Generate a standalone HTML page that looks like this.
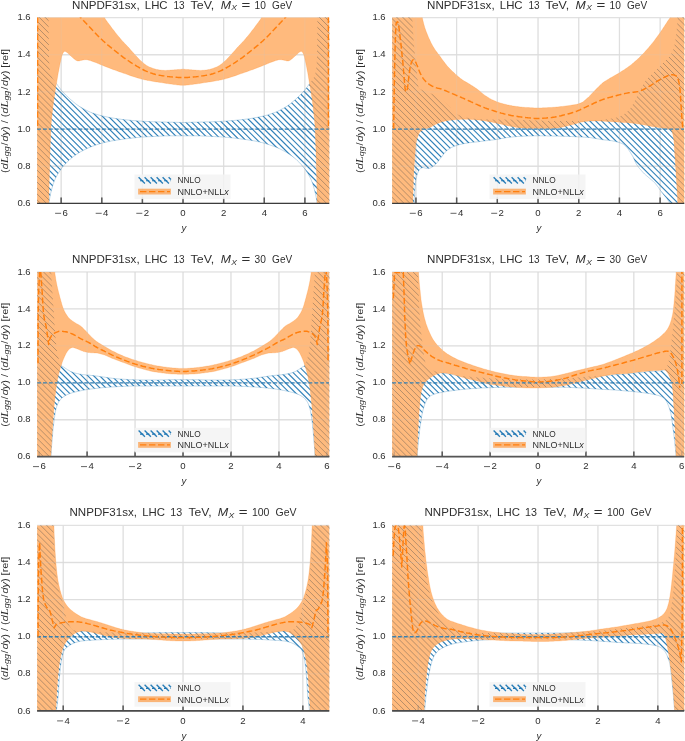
<!DOCTYPE html>
<html><head><meta charset="utf-8"><title>NNPDF31sx luminosities</title>
<style>html,body{margin:0;padding:0;background:#fff}svg{display:block;will-change:transform}text{font-family:"Liberation Sans",sans-serif}</style></head><body>
<svg width="685" height="741" viewBox="0 0 685 741">
<defs>
<path id="H" d="M-746.96,0l741,741M-741.00,0l741,741M-735.04,0l741,741M-729.08,0l741,741M-723.12,0l741,741M-717.16,0l741,741M-711.20,0l741,741M-705.24,0l741,741M-699.28,0l741,741M-693.32,0l741,741M-687.36,0l741,741M-681.40,0l741,741M-675.44,0l741,741M-669.48,0l741,741M-663.52,0l741,741M-657.56,0l741,741M-651.60,0l741,741M-645.64,0l741,741M-639.68,0l741,741M-633.72,0l741,741M-627.76,0l741,741M-621.80,0l741,741M-615.84,0l741,741M-609.88,0l741,741M-603.92,0l741,741M-597.96,0l741,741M-592.00,0l741,741M-586.04,0l741,741M-580.08,0l741,741M-574.12,0l741,741M-568.16,0l741,741M-562.20,0l741,741M-556.24,0l741,741M-550.28,0l741,741M-544.32,0l741,741M-538.36,0l741,741M-532.40,0l741,741M-526.44,0l741,741M-520.48,0l741,741M-514.52,0l741,741M-508.56,0l741,741M-502.60,0l741,741M-496.64,0l741,741M-490.68,0l741,741M-484.72,0l741,741M-478.76,0l741,741M-472.80,0l741,741M-466.84,0l741,741M-460.88,0l741,741M-454.92,0l741,741M-448.96,0l741,741M-443.00,0l741,741M-437.04,0l741,741M-431.08,0l741,741M-425.12,0l741,741M-419.16,0l741,741M-413.20,0l741,741M-407.24,0l741,741M-401.28,0l741,741M-395.32,0l741,741M-389.36,0l741,741M-383.40,0l741,741M-377.44,0l741,741M-371.48,0l741,741M-365.52,0l741,741M-359.56,0l741,741M-353.60,0l741,741M-347.64,0l741,741M-341.68,0l741,741M-335.72,0l741,741M-329.76,0l741,741M-323.80,0l741,741M-317.84,0l741,741M-311.88,0l741,741M-305.92,0l741,741M-299.96,0l741,741M-294.00,0l741,741M-288.04,0l741,741M-282.08,0l741,741M-276.12,0l741,741M-270.16,0l741,741M-264.20,0l741,741M-258.24,0l741,741M-252.28,0l741,741M-246.32,0l741,741M-240.36,0l741,741M-234.40,0l741,741M-228.44,0l741,741M-222.48,0l741,741M-216.52,0l741,741M-210.56,0l741,741M-204.60,0l741,741M-198.64,0l741,741M-192.68,0l741,741M-186.72,0l741,741M-180.76,0l741,741M-174.80,0l741,741M-168.84,0l741,741M-162.88,0l741,741M-156.92,0l741,741M-150.96,0l741,741M-145.00,0l741,741M-139.04,0l741,741M-133.08,0l741,741M-127.12,0l741,741M-121.16,0l741,741M-115.20,0l741,741M-109.24,0l741,741M-103.28,0l741,741M-97.32,0l741,741M-91.36,0l741,741M-85.40,0l741,741M-79.44,0l741,741M-73.48,0l741,741M-67.52,0l741,741M-61.56,0l741,741M-55.60,0l741,741M-49.64,0l741,741M-43.68,0l741,741M-37.72,0l741,741M-31.76,0l741,741M-25.80,0l741,741M-19.84,0l741,741M-13.88,0l741,741M-7.92,0l741,741M-1.96,0l741,741M4.00,0l741,741M9.96,0l741,741M15.92,0l741,741M21.88,0l741,741M27.84,0l741,741M33.80,0l741,741M39.76,0l741,741M45.72,0l741,741M51.68,0l741,741M57.64,0l741,741M63.60,0l741,741M69.56,0l741,741M75.52,0l741,741M81.48,0l741,741M87.44,0l741,741M93.40,0l741,741M99.36,0l741,741M105.32,0l741,741M111.28,0l741,741M117.24,0l741,741M123.20,0l741,741M129.16,0l741,741M135.12,0l741,741M141.08,0l741,741M147.04,0l741,741M153.00,0l741,741M158.96,0l741,741M164.92,0l741,741M170.88,0l741,741M176.84,0l741,741M182.80,0l741,741M188.76,0l741,741M194.72,0l741,741M200.68,0l741,741M206.64,0l741,741M212.60,0l741,741M218.56,0l741,741M224.52,0l741,741M230.48,0l741,741M236.44,0l741,741M242.40,0l741,741M248.36,0l741,741M254.32,0l741,741M260.28,0l741,741M266.24,0l741,741M272.20,0l741,741M278.16,0l741,741M284.12,0l741,741M290.08,0l741,741M296.04,0l741,741M302.00,0l741,741M307.96,0l741,741M313.92,0l741,741M319.88,0l741,741M325.84,0l741,741M331.80,0l741,741M337.76,0l741,741M343.72,0l741,741M349.68,0l741,741M355.64,0l741,741M361.60,0l741,741M367.56,0l741,741M373.52,0l741,741M379.48,0l741,741M385.44,0l741,741M391.40,0l741,741M397.36,0l741,741M403.32,0l741,741M409.28,0l741,741M415.24,0l741,741M421.20,0l741,741M427.16,0l741,741M433.12,0l741,741M439.08,0l741,741M445.04,0l741,741M451.00,0l741,741M456.96,0l741,741M462.92,0l741,741M468.88,0l741,741M474.84,0l741,741M480.80,0l741,741M486.76,0l741,741M492.72,0l741,741M498.68,0l741,741M504.64,0l741,741M510.60,0l741,741M516.56,0l741,741M522.52,0l741,741M528.48,0l741,741M534.44,0l741,741M540.40,0l741,741M546.36,0l741,741M552.32,0l741,741M558.28,0l741,741M564.24,0l741,741M570.20,0l741,741M576.16,0l741,741M582.12,0l741,741M588.08,0l741,741M594.04,0l741,741M600.00,0l741,741M605.96,0l741,741M611.92,0l741,741M617.88,0l741,741M623.84,0l741,741M629.80,0l741,741M635.76,0l741,741M641.72,0l741,741M647.68,0l741,741M653.64,0l741,741M659.60,0l741,741M665.56,0l741,741M671.52,0l741,741M677.48,0l741,741M683.44,0l741,741M689.40,0l741,741"/>
</defs>
<rect width="685" height="741" fill="#fff"/>
<clipPath id="c0"><rect x="37.1" y="17.6" width="292.2" height="185.8"/></clipPath>
<path d="M37.1,17.60 H329.0 M37.1,54.76 H329.0 M37.1,91.92 H329.0 M37.1,129.08 H329.0 M37.1,166.24 H329.0 M37.1,203.40 H329.0 M61.17,17.6 V203.4 M101.79,17.6 V203.4 M142.41,17.6 V203.4 M183.03,17.6 V203.4 M223.65,17.6 V203.4 M264.27,17.6 V203.4 M304.88,17.6 V203.4" stroke="#e4e4e4" stroke-width="1.3" fill="none"/>
<path d="M61.17,203.4 v-6.0 M101.79,203.4 v-6.0 M142.41,203.4 v-6.0 M183.03,203.4 v-6.0 M223.65,203.4 v-6.0 M264.27,203.4 v-6.0 M304.88,203.4 v-6.0" stroke="#484848" stroke-width="1.4" fill="none"/>
<g clip-path="url(#c0)">
<defs><path id="B0" d="M32.0,-3.1 48.3,7.0 48.3,8.1 48.4,9.1 48.4,10.1 48.4,11.0 48.5,12.1 48.5,13.4 48.5,15.0 48.6,17.0 48.6,19.4 48.6,22.2 48.6,25.3 48.6,28.6 48.7,32.0 48.7,35.5 48.7,38.9 48.8,42.1 48.9,45.4 48.9,48.7 49.0,52.2 49.0,55.6 49.1,58.9 49.2,62.0 49.4,64.8 49.6,67.2 49.8,69.2 50.0,70.9 50.3,72.3 50.6,73.5 51.0,74.5 51.3,75.4 51.7,76.3 52.1,77.3 52.5,78.2 52.9,78.9 53.3,79.6 53.7,80.1 54.2,80.7 54.7,81.3 55.2,82.0 55.8,82.8 56.5,83.7 57.2,84.7 57.9,85.7 58.7,86.8 59.6,87.9 60.4,89.0 61.3,90.1 62.1,91.1 63.0,92.1 63.9,93.0 64.8,94.0 65.8,95.0 66.8,95.9 67.7,96.8 68.7,97.7 69.6,98.6 70.6,99.5 71.5,100.3 72.5,101.1 73.4,101.9 74.4,102.7 75.3,103.5 76.2,104.2 77.2,104.9 78.1,105.6 79.1,106.2 80.0,106.8 80.9,107.3 81.9,107.9 82.8,108.4 83.8,108.9 84.7,109.4 85.6,109.9 86.5,110.4 87.4,110.8 88.3,111.3 89.2,111.7 90.2,112.1 91.2,112.5 92.2,112.9 93.4,113.3 94.6,113.7 95.8,114.1 97.1,114.5 98.4,114.9 99.7,115.3 101.0,115.6 102.3,115.9 103.5,116.2 104.8,116.5 106.1,116.8 107.3,117.0 108.6,117.3 109.8,117.5 111.1,117.7 112.3,118.0 113.6,118.2 114.9,118.4 116.1,118.6 117.4,118.8 118.6,119.0 119.9,119.1 121.1,119.3 122.4,119.5 123.6,119.6 124.9,119.8 126.2,119.9 127.4,120.0 128.7,120.1 129.9,120.2 131.2,120.4 132.4,120.5 133.7,120.6 134.9,120.7 136.2,120.8 137.5,120.9 138.7,121.0 140.0,121.1 141.2,121.1 142.5,121.2 143.7,121.3 145.0,121.4 146.2,121.4 147.5,121.5 148.8,121.6 150.0,121.6 151.3,121.7 152.5,121.7 153.8,121.8 155.0,121.8 156.3,121.8 157.5,121.9 158.8,121.9 160.1,121.9 161.3,121.9 162.6,122.0 163.8,122.0 165.1,122.0 166.3,122.1 167.6,122.1 168.8,122.1 170.1,122.2 171.3,122.2 172.6,122.2 173.9,122.3 175.2,122.3 176.4,122.3 177.7,122.4 179.0,122.4 180.3,122.4 181.6,122.5 182.9,122.5 184.2,122.5 185.5,122.4 186.8,122.4 188.2,122.4 189.5,122.3 190.8,122.3 192.1,122.3 193.4,122.2 194.7,122.2 195.9,122.2 197.2,122.1 198.4,122.1 199.7,122.1 200.9,122.0 202.2,122.0 203.4,122.0 204.7,121.9 205.9,121.9 207.2,121.9 208.5,121.9 209.7,121.8 211.0,121.8 212.2,121.8 213.5,121.7 214.7,121.7 216.0,121.6 217.2,121.6 218.5,121.5 219.8,121.4 221.0,121.4 222.3,121.3 223.5,121.2 224.8,121.1 226.0,121.1 227.3,121.0 228.5,120.9 229.8,120.8 231.1,120.7 232.3,120.6 233.6,120.5 234.8,120.4 236.1,120.2 237.3,120.1 238.6,120.0 239.8,119.9 241.1,119.8 242.4,119.6 243.6,119.5 244.9,119.3 246.1,119.1 247.4,119.0 248.6,118.8 249.9,118.6 251.1,118.4 252.4,118.2 253.7,118.0 254.9,117.7 256.2,117.5 257.4,117.3 258.7,117.0 259.9,116.8 261.2,116.5 262.5,116.2 263.7,115.9 265.0,115.6 266.3,115.3 267.6,114.9 268.9,114.5 270.2,114.1 271.4,113.7 272.6,113.3 273.8,112.9 274.8,112.5 275.8,112.1 276.8,111.7 277.7,111.3 278.6,110.8 279.5,110.4 280.4,109.9 281.3,109.4 282.2,108.9 283.2,108.4 284.1,107.9 285.1,107.3 286.0,106.8 286.9,106.2 287.9,105.6 288.8,104.9 289.8,104.2 290.7,103.5 291.6,102.7 292.6,101.9 293.5,101.1 294.5,100.3 295.4,99.5 296.4,98.6 297.3,97.7 298.3,96.8 299.2,95.9 300.2,95.0 301.2,94.0 302.1,93.0 303.0,92.1 303.9,91.1 304.7,90.1 305.6,89.0 306.4,87.9 307.3,86.8 308.1,85.7 308.8,84.7 309.5,83.7 310.2,82.8 310.8,82.0 311.3,81.3 311.8,80.7 312.3,80.1 312.7,79.6 313.1,78.9 313.5,78.2 313.9,77.3 314.3,76.3 314.7,75.4 315.0,74.5 315.4,73.5 315.7,72.3 316.0,70.9 316.2,69.2 316.4,67.2 316.6,64.8 316.8,62.0 316.9,58.9 317.0,55.6 317.0,52.2 317.1,48.7 317.1,45.4 317.2,42.1 317.3,38.9 317.3,35.5 317.3,32.0 317.4,28.6 317.4,25.3 317.4,22.2 317.4,19.4 317.4,17.0 317.5,15.0 317.5,13.4 317.5,12.1 317.6,11.0 317.6,10.1 317.6,9.1 317.7,8.1 317.7,7.0 334.0,-3.1 334.0,217.9 319.0,217.9 318.7,216.1 318.6,214.2 318.4,212.4 318.2,210.5 318.0,208.7 317.7,206.8 317.5,205.0 317.2,203.1 316.9,201.2 316.5,199.2 316.1,197.1 315.7,195.1 315.3,193.1 314.8,191.2 314.4,189.4 313.9,187.8 313.5,186.3 313.1,184.9 312.7,183.6 312.2,182.4 311.8,181.3 311.3,180.1 310.8,178.9 310.2,177.7 309.5,176.5 308.8,175.2 308.1,173.9 307.3,172.6 306.4,171.3 305.6,170.0 304.7,168.8 303.9,167.7 303.0,166.6 302.1,165.5 301.2,164.4 300.2,163.4 299.2,162.4 298.3,161.4 297.3,160.5 296.4,159.6 295.4,158.8 294.5,158.0 293.5,157.2 292.6,156.5 291.6,155.8 290.7,155.2 289.8,154.5 288.8,153.9 287.9,153.3 286.9,152.7 286.0,152.1 285.1,151.6 284.1,151.1 283.2,150.6 282.2,150.1 281.3,149.6 280.4,149.1 279.5,148.7 278.6,148.3 277.7,147.9 276.8,147.5 275.8,147.1 274.8,146.7 273.8,146.3 272.6,145.9 271.4,145.5 270.2,145.1 268.9,144.6 267.6,144.2 266.3,143.8 265.0,143.4 263.7,143.1 262.5,142.7 261.2,142.4 259.9,142.1 258.7,141.8 257.4,141.6 256.2,141.3 254.9,141.0 253.7,140.8 252.4,140.6 251.1,140.4 249.9,140.2 248.6,140.0 247.4,139.8 246.1,139.6 244.9,139.5 243.6,139.3 242.4,139.1 241.1,139.0 239.8,138.8 238.6,138.6 237.3,138.5 236.1,138.3 234.8,138.2 233.6,138.0 232.3,137.9 231.1,137.8 229.8,137.6 228.5,137.5 227.3,137.4 226.0,137.3 224.8,137.1 223.5,137.0 222.3,137.0 221.0,136.9 219.8,136.8 218.5,136.8 217.2,136.7 216.0,136.7 214.7,136.6 213.5,136.5 212.2,136.5 211.0,136.4 209.7,136.3 208.5,136.3 207.2,136.2 205.9,136.1 204.7,136.1 203.4,136.0 202.2,136.0 200.9,135.9 199.7,135.9 198.4,135.9 197.2,135.8 195.9,135.8 194.7,135.8 193.4,135.8 192.1,135.8 190.8,135.8 189.5,135.8 188.2,135.8 186.8,135.8 185.5,135.8 184.2,135.8 182.9,135.8 181.6,135.8 180.3,135.8 179.0,135.8 177.7,135.8 176.4,135.8 175.2,135.8 173.9,135.8 172.6,135.8 171.3,135.8 170.1,135.8 168.8,135.8 167.6,135.9 166.3,135.9 165.1,135.9 163.8,136.0 162.6,136.0 161.3,136.1 160.1,136.1 158.8,136.2 157.5,136.3 156.3,136.3 155.0,136.4 153.8,136.5 152.5,136.5 151.3,136.6 150.0,136.7 148.8,136.7 147.5,136.8 146.2,136.8 145.0,136.9 143.7,137.0 142.5,137.0 141.2,137.1 140.0,137.3 138.7,137.4 137.5,137.5 136.2,137.6 134.9,137.8 133.7,137.9 132.4,138.0 131.2,138.2 129.9,138.3 128.7,138.5 127.4,138.6 126.2,138.8 124.9,139.0 123.6,139.1 122.4,139.3 121.1,139.5 119.9,139.6 118.6,139.8 117.4,140.0 116.1,140.2 114.9,140.4 113.6,140.6 112.3,140.8 111.1,141.0 109.8,141.3 108.6,141.6 107.3,141.8 106.1,142.1 104.8,142.4 103.5,142.7 102.3,143.1 101.0,143.4 99.7,143.8 98.4,144.2 97.1,144.6 95.8,145.1 94.6,145.5 93.4,145.9 92.2,146.3 91.2,146.7 90.2,147.1 89.2,147.5 88.3,147.9 87.4,148.3 86.5,148.7 85.6,149.1 84.7,149.6 83.8,150.1 82.8,150.6 81.9,151.1 80.9,151.6 80.0,152.1 79.1,152.7 78.1,153.3 77.2,153.9 76.2,154.5 75.3,155.2 74.4,155.8 73.4,156.5 72.5,157.2 71.5,158.0 70.6,158.8 69.6,159.6 68.7,160.5 67.7,161.4 66.8,162.4 65.8,163.4 64.8,164.4 63.9,165.5 63.0,166.6 62.1,167.7 61.3,168.8 60.4,170.0 59.6,171.3 58.7,172.6 57.9,173.9 57.2,175.2 56.5,176.5 55.8,177.7 55.2,178.9 54.7,180.1 54.2,181.3 53.8,182.4 53.3,183.6 52.9,184.9 52.5,186.3 52.1,187.8 51.6,189.4 51.2,191.2 50.7,193.1 50.3,195.1 49.9,197.1 49.5,199.2 49.1,201.2 48.8,203.1 48.5,205.0 48.3,206.8 48.0,208.7 47.8,210.5 47.6,212.4 47.4,214.2 47.3,216.1 47.0,217.9 32.0,217.9Z"/></defs>
<clipPath id="b0"><use href="#B0"/></clipPath>
<use href="#H" clip-path="url(#b0)" stroke="#1f77b4" stroke-width="1.15" stroke-opacity="0.92" fill="none"/>
<use href="#B0" fill="none" stroke="#1f77b4" stroke-opacity="0.35" stroke-width="0.8"/>
<defs><path id="O0" d="M32.0,-3.1 98.8,7.0 99.5,8.3 100.1,9.6 100.8,10.9 101.5,12.2 102.2,13.6 102.8,14.8 103.5,16.0 104.2,17.2 104.8,18.3 105.5,19.3 106.1,20.2 106.8,21.1 107.4,22.0 108.1,22.9 108.8,23.8 109.5,24.8 110.3,25.8 111.0,26.8 111.8,27.9 112.6,29.0 113.5,30.1 114.3,31.1 115.1,32.2 115.9,33.2 116.7,34.2 117.5,35.2 118.3,36.2 119.1,37.1 119.9,38.1 120.7,39.0 121.5,39.9 122.3,40.9 123.1,41.7 123.9,42.6 124.7,43.4 125.5,44.3 126.3,45.1 127.1,45.9 127.9,46.8 128.7,47.6 129.5,48.5 130.3,49.4 131.1,50.4 131.9,51.3 132.7,52.2 133.5,53.1 134.3,54.0 135.1,54.9 135.9,55.8 136.7,56.6 137.5,57.5 138.3,58.3 139.1,59.2 139.9,60.0 140.7,60.7 141.5,61.5 142.3,62.1 143.0,62.8 143.8,63.4 144.5,64.0 145.3,64.6 146.1,65.2 147.0,65.7 147.9,66.2 148.8,66.7 149.9,67.2 150.9,67.6 152.0,68.0 153.1,68.4 154.2,68.8 155.3,69.1 156.4,69.4 157.5,69.6 158.5,69.8 159.6,70.0 160.7,70.1 161.7,70.2 162.8,70.3 163.9,70.3 164.9,70.4 166.0,70.4 167.1,70.3 168.3,70.3 169.4,70.2 170.5,70.1 171.5,70.0 172.5,69.9 173.5,69.9 174.3,69.8 175.1,69.8 175.8,69.7 176.5,69.7 177.1,69.6 177.7,69.6 178.3,69.5 178.9,69.5 179.5,69.4 180.0,69.4 180.5,69.4 181.0,69.3 181.4,69.3 181.9,69.3 182.4,69.2 182.9,69.2 183.4,69.2 183.9,69.3 184.4,69.3 184.9,69.3 185.4,69.4 186.0,69.4 186.5,69.4 187.1,69.5 187.7,69.5 188.3,69.6 188.9,69.6 189.6,69.7 190.2,69.7 190.9,69.8 191.7,69.8 192.5,69.9 193.5,69.9 194.5,70.0 195.5,70.1 196.6,70.2 197.7,70.3 198.9,70.3 200.0,70.4 201.1,70.4 202.1,70.3 203.2,70.3 204.3,70.2 205.3,70.1 206.4,70.0 207.5,69.8 208.5,69.6 209.6,69.4 210.7,69.1 211.8,68.8 212.9,68.4 214.0,68.0 215.1,67.6 216.1,67.2 217.2,66.7 218.1,66.2 219.0,65.7 219.9,65.2 220.7,64.6 221.5,64.0 222.2,63.4 223.0,62.8 223.7,62.1 224.5,61.5 225.3,60.7 226.1,60.0 226.9,59.2 227.7,58.3 228.5,57.5 229.3,56.6 230.1,55.8 230.9,54.9 231.7,54.0 232.5,53.1 233.3,52.2 234.1,51.3 234.9,50.4 235.7,49.4 236.5,48.5 237.3,47.6 238.1,46.8 238.9,45.9 239.7,45.1 240.5,44.3 241.3,43.4 242.1,42.6 242.9,41.7 243.7,40.9 244.5,39.9 245.3,39.0 246.1,38.1 246.9,37.1 247.7,36.2 248.5,35.2 249.3,34.2 250.1,33.2 250.9,32.2 251.7,31.1 252.5,30.1 253.4,29.0 254.2,27.9 255.0,26.8 255.7,25.8 256.5,24.8 257.2,23.8 257.9,22.9 258.6,22.0 259.2,21.1 259.9,20.2 260.5,19.3 261.2,18.3 261.8,17.2 262.5,16.0 263.2,14.8 263.8,13.6 264.5,12.2 265.2,10.9 265.9,9.6 266.5,8.3 267.2,7.0 334.0,-3.1 334.0,217.9 317.4,217.9 317.4,216.2 317.4,214.7 317.4,213.3 317.4,211.8 317.3,210.2 317.3,208.2 317.3,205.9 317.2,203.1 317.1,199.7 317.1,195.7 317.0,191.4 316.9,186.8 316.8,182.0 316.7,177.2 316.6,172.4 316.4,167.7 316.3,163.0 316.2,158.0 316.0,152.9 315.9,147.9 315.7,142.9 315.5,138.2 315.4,133.9 315.2,130.0 315.0,126.6 314.8,123.6 314.6,121.0 314.4,118.6 314.1,116.3 313.9,114.2 313.7,112.1 313.4,109.9 313.2,107.8 313.0,105.8 312.7,103.9 312.5,102.1 312.2,100.3 312.0,98.5 311.7,96.7 311.4,94.9 311.1,93.0 310.8,91.1 310.5,89.1 310.2,87.2 309.9,85.3 309.5,83.5 309.2,81.6 308.9,79.8 308.6,78.0 308.3,76.2 308.0,74.4 307.7,72.6 307.3,70.9 307.0,69.2 306.7,67.5 306.4,66.0 306.1,64.4 305.8,62.9 305.4,61.4 305.1,59.9 304.8,58.6 304.5,57.3 304.2,56.2 303.9,55.2 303.6,54.4 303.3,53.7 303.1,53.2 302.8,52.7 302.6,52.4 302.4,52.1 302.1,51.9 301.9,51.7 301.7,51.5 301.4,51.4 301.2,51.3 301.0,51.3 300.8,51.4 300.6,51.4 300.4,51.5 300.1,51.7 299.9,51.8 299.6,52.0 299.3,52.2 299.0,52.4 298.7,52.7 298.3,53.0 298.0,53.3 297.6,53.7 297.2,54.0 296.8,54.4 296.3,54.9 295.8,55.4 295.3,55.8 294.8,56.3 294.3,56.8 293.8,57.2 293.4,57.6 292.9,58.0 292.4,58.4 291.9,58.9 291.4,59.3 290.9,59.6 290.5,59.9 290.1,60.2 289.7,60.4 289.4,60.6 289.1,60.7 288.8,60.8 288.5,60.9 288.3,60.9 287.9,60.9 287.6,60.9 287.2,60.9 286.7,60.9 286.2,60.8 285.8,60.6 285.3,60.5 284.8,60.4 284.3,60.3 283.8,60.2 283.3,60.1 282.9,60.0 282.4,59.9 281.9,59.8 281.4,59.8 281.0,59.7 280.5,59.7 280.0,59.7 279.6,59.7 279.1,59.8 278.7,59.8 278.2,59.9 277.8,60.0 277.3,60.2 276.8,60.3 276.3,60.4 275.7,60.6 275.2,60.8 274.6,61.0 274.0,61.2 273.4,61.4 272.7,61.7 272.0,61.9 271.2,62.2 270.4,62.5 269.6,62.8 268.7,63.2 267.8,63.6 266.8,64.0 265.8,64.4 264.8,64.8 263.7,65.2 262.6,65.7 261.4,66.2 260.1,66.7 258.8,67.2 257.5,67.7 256.2,68.2 254.9,68.7 253.7,69.2 252.4,69.7 251.1,70.1 249.9,70.6 248.6,71.0 247.4,71.5 246.1,71.9 244.9,72.3 243.6,72.8 242.4,73.2 241.1,73.6 239.8,74.1 238.6,74.5 237.3,75.0 236.1,75.4 234.8,75.9 233.6,76.3 232.3,76.7 231.1,77.1 229.8,77.5 228.5,77.9 227.3,78.2 226.0,78.6 224.8,79.0 223.5,79.3 222.3,79.6 221.0,79.9 219.8,80.1 218.5,80.4 217.2,80.6 216.0,80.8 214.7,81.1 213.5,81.3 212.2,81.5 211.0,81.7 209.7,81.9 208.5,82.1 207.2,82.3 205.9,82.4 204.7,82.6 203.4,82.8 202.2,83.0 200.9,83.2 199.7,83.4 198.4,83.6 197.2,83.8 195.9,84.0 194.7,84.1 193.4,84.3 192.1,84.5 190.8,84.6 189.5,84.8 188.2,85.0 186.8,85.1 185.5,85.2 184.2,85.3 182.9,85.3 181.6,85.3 180.3,85.2 179.0,85.1 177.7,85.0 176.4,84.8 175.2,84.6 173.9,84.5 172.6,84.3 171.3,84.1 170.1,84.0 168.8,83.8 167.6,83.6 166.3,83.4 165.1,83.2 163.8,83.0 162.6,82.8 161.3,82.6 160.1,82.4 158.8,82.3 157.5,82.1 156.3,81.9 155.0,81.7 153.8,81.5 152.5,81.3 151.3,81.1 150.0,80.8 148.8,80.6 147.5,80.4 146.2,80.1 145.0,79.9 143.7,79.6 142.5,79.3 141.2,79.0 140.0,78.6 138.7,78.2 137.5,77.9 136.2,77.5 134.9,77.1 133.7,76.7 132.4,76.3 131.2,75.9 129.9,75.4 128.7,75.0 127.4,74.5 126.2,74.1 124.9,73.6 123.6,73.2 122.4,72.8 121.1,72.3 119.9,71.9 118.6,71.5 117.4,71.0 116.1,70.6 114.9,70.1 113.6,69.7 112.3,69.2 111.1,68.7 109.8,68.2 108.5,67.7 107.2,67.2 105.9,66.7 104.6,66.2 103.4,65.7 102.3,65.2 101.2,64.8 100.2,64.4 99.2,64.0 98.2,63.6 97.3,63.2 96.4,62.8 95.6,62.5 94.8,62.2 94.0,61.9 93.3,61.7 92.6,61.4 92.0,61.2 91.4,61.0 90.8,60.8 90.3,60.6 89.7,60.4 89.2,60.3 88.7,60.2 88.2,60.0 87.8,59.9 87.3,59.8 86.9,59.8 86.4,59.7 86.0,59.7 85.5,59.7 85.0,59.7 84.6,59.8 84.1,59.8 83.6,59.9 83.1,60.0 82.7,60.1 82.2,60.2 81.7,60.3 81.2,60.4 80.7,60.5 80.2,60.6 79.8,60.8 79.3,60.9 78.8,60.9 78.4,60.9 78.1,60.9 77.7,60.9 77.5,60.9 77.2,60.8 76.9,60.7 76.6,60.6 76.3,60.4 75.9,60.2 75.5,59.9 75.1,59.6 74.6,59.3 74.1,58.9 73.6,58.4 73.1,58.0 72.6,57.6 72.2,57.2 71.7,56.8 71.2,56.3 70.7,55.8 70.2,55.4 69.7,54.9 69.2,54.4 68.8,54.0 68.4,53.7 68.0,53.3 67.7,53.0 67.3,52.7 67.0,52.4 66.7,52.2 66.4,52.0 66.1,51.8 65.9,51.7 65.6,51.5 65.4,51.4 65.2,51.4 65.0,51.3 64.8,51.3 64.6,51.4 64.3,51.5 64.1,51.7 63.9,51.9 63.6,52.1 63.4,52.4 63.2,52.7 62.9,53.2 62.7,53.7 62.4,54.4 62.1,55.2 61.8,56.2 61.5,57.3 61.2,58.6 60.9,59.9 60.6,61.4 60.2,62.9 59.9,64.4 59.6,66.0 59.3,67.5 59.0,69.2 58.7,70.9 58.3,72.6 58.0,74.4 57.7,76.2 57.4,78.0 57.1,79.8 56.8,81.6 56.5,83.5 56.1,85.3 55.8,87.2 55.5,89.1 55.2,91.1 54.9,93.0 54.6,94.9 54.3,96.7 54.0,98.5 53.8,100.3 53.5,102.1 53.3,103.9 53.0,105.8 52.8,107.8 52.6,109.9 52.3,112.1 52.1,114.2 51.9,116.3 51.6,118.6 51.4,121.0 51.2,123.6 51.0,126.6 50.8,130.0 50.6,133.9 50.5,138.2 50.3,142.9 50.1,147.9 50.0,152.9 49.8,158.0 49.7,163.0 49.6,167.7 49.4,172.4 49.3,177.2 49.2,182.0 49.1,186.8 49.0,191.4 48.9,195.7 48.9,199.7 48.8,203.1 48.7,205.9 48.7,208.2 48.7,210.2 48.6,211.8 48.6,213.3 48.6,214.7 48.6,216.2 48.6,217.9 32.0,217.9Z"/></defs>
<clipPath id="o0"><use href="#O0"/></clipPath>
<use href="#O0" fill="#fff"/>
<use href="#O0" fill="#ff7f0e" fill-opacity="0.54" stroke="#ff7f0e" stroke-opacity="0.22" stroke-width="0.9"/>
<g clip-path="url(#b0)"><use href="#H" clip-path="url(#o0)" stroke="#7d6a58" stroke-width="0.90" stroke-opacity="0.62" fill="none"/></g>
<path d="M37.1,17.60 H329.0 M37.1,54.76 H329.0 M37.1,91.92 H329.0 M37.1,129.08 H329.0 M37.1,166.24 H329.0 M37.1,203.40 H329.0 M61.17,17.6 V203.4 M101.79,17.6 V203.4 M142.41,17.6 V203.4 M183.03,17.6 V203.4 M223.65,17.6 V203.4 M264.27,17.6 V203.4 M304.88,17.6 V203.4" stroke="#c8c8c8" stroke-opacity="0.25" stroke-width="0.8" fill="none"/>
<path d="M37.1,129.08 H329.0" stroke="#1f77b4" stroke-width="1.3" stroke-dasharray="3.8 2.1" stroke-opacity="0.88" fill="none"/>
<path d="M77.2,14.0 77.5,14.3 77.8,14.6 78.1,14.9 78.4,15.2 78.8,15.5 79.2,15.9 79.6,16.4 80.2,17.0 80.9,17.7 81.7,18.6 82.5,19.5 83.4,20.5 84.4,21.5 85.3,22.5 86.3,23.5 87.2,24.5 88.1,25.5 89.1,26.5 90.0,27.5 91.0,28.6 91.9,29.6 92.9,30.6 93.8,31.6 94.8,32.6 95.7,33.5 96.6,34.5 97.6,35.5 98.5,36.4 99.5,37.4 100.4,38.3 101.4,39.2 102.3,40.1 103.2,41.0 104.2,41.8 105.1,42.6 106.1,43.5 107.0,44.3 107.9,45.1 108.9,45.8 109.8,46.6 110.8,47.4 111.7,48.2 112.7,48.9 113.6,49.7 114.5,50.4 115.5,51.2 116.4,51.9 117.4,52.7 118.3,53.4 119.2,54.1 120.2,54.9 121.1,55.6 122.1,56.3 123.0,57.1 124.0,57.8 124.9,58.4 125.8,59.1 126.8,59.8 127.7,60.4 128.7,61.0 129.6,61.6 130.5,62.3 131.5,62.9 132.4,63.5 133.4,64.1 134.3,64.6 135.3,65.2 136.2,65.8 137.1,66.4 138.1,66.9 139.0,67.5 140.0,68.0 140.9,68.5 141.8,69.0 142.8,69.5 143.7,70.0 144.7,70.5 145.6,70.9 146.6,71.3 147.5,71.7 148.4,72.1 149.4,72.5 150.3,72.8 151.3,73.1 152.2,73.4 153.1,73.7 154.1,74.0 155.0,74.3 156.0,74.5 156.9,74.7 157.7,74.9 158.6,75.1 159.6,75.3 160.5,75.4 161.5,75.6 162.6,75.8 163.7,75.9 164.9,76.1 166.1,76.3 167.4,76.5 168.7,76.6 170.0,76.8 171.3,76.9 172.6,77.0 173.9,77.1 175.2,77.2 176.4,77.3 177.7,77.4 179.0,77.4 180.3,77.5 181.6,77.5 182.9,77.5 184.2,77.5 185.5,77.5 186.8,77.4 188.2,77.4 189.5,77.3 190.8,77.2 192.1,77.1 193.4,77.0 194.7,76.9 196.0,76.8 197.3,76.6 198.6,76.5 199.9,76.3 201.1,76.1 202.3,75.9 203.4,75.8 204.5,75.6 205.5,75.4 206.4,75.3 207.4,75.1 208.3,74.9 209.1,74.7 210.0,74.5 211.0,74.3 211.9,74.0 212.9,73.7 213.8,73.4 214.7,73.1 215.7,72.8 216.6,72.5 217.6,72.1 218.5,71.7 219.4,71.3 220.4,70.9 221.3,70.5 222.3,70.0 223.2,69.5 224.2,69.0 225.1,68.5 226.0,68.0 227.0,67.5 227.9,66.9 228.9,66.4 229.8,65.8 230.7,65.2 231.7,64.6 232.6,64.1 233.6,63.5 234.5,62.9 235.5,62.3 236.4,61.6 237.3,61.0 238.3,60.4 239.2,59.8 240.2,59.1 241.1,58.4 242.0,57.8 243.0,57.1 243.9,56.3 244.9,55.6 245.8,54.9 246.8,54.1 247.7,53.4 248.6,52.7 249.6,51.9 250.5,51.2 251.5,50.4 252.4,49.7 253.3,48.9 254.3,48.2 255.2,47.4 256.2,46.6 257.1,45.8 258.1,45.1 259.0,44.3 259.9,43.5 260.9,42.6 261.8,41.8 262.8,41.0 263.7,40.1 264.6,39.2 265.6,38.3 266.5,37.4 267.5,36.4 268.4,35.5 269.4,34.5 270.3,33.5 271.2,32.6 272.2,31.6 273.1,30.6 274.1,29.6 275.0,28.6 276.0,27.5 276.9,26.5 277.9,25.5 278.8,24.5 279.7,23.5 280.7,22.5 281.6,21.5 282.6,20.5 283.5,19.5 284.3,18.6 285.1,17.7 285.8,17.0 286.4,16.4 286.8,15.9 287.2,15.5 287.6,15.2 287.9,14.9 288.2,14.6 288.5,14.3 288.8,14.0" stroke="#ff7f0e" stroke-width="1.45" stroke-dasharray="5.9 2.7" fill="none" stroke-linejoin="round"/>
<path d="M37.6,17.0 37.6,129.0" stroke="#ff7f0e" stroke-width="1.45" stroke-dasharray="5.9 2.7" fill="none" stroke-linejoin="round"/>
<path d="M328.4,17.0 328.4,129.0" stroke="#ff7f0e" stroke-width="1.45" stroke-dasharray="5.9 2.7" fill="none" stroke-linejoin="round"/>
</g>
<path d="M37.1,203.40 H329.3" stroke="#3c3c3c" stroke-width="1.2" fill="none"/>
<path d="M55.1,213.3 h6.0" stroke="#555" stroke-width="0.9" fill="none"/>
<text x="62.5" y="215.9" font-size="9.6" fill="#2e2e2e">6</text>
<path d="M95.7,213.3 h6.0" stroke="#555" stroke-width="0.9" fill="none"/>
<text x="103.1" y="215.9" font-size="9.6" fill="#2e2e2e">4</text>
<path d="M136.3,213.3 h6.0" stroke="#555" stroke-width="0.9" fill="none"/>
<text x="143.7" y="215.9" font-size="9.6" fill="#2e2e2e">2</text>
<text x="183.0" y="215.9" font-size="9.6" text-anchor="middle" fill="#2e2e2e">0</text>
<text x="223.6" y="215.9" font-size="9.6" text-anchor="middle" fill="#2e2e2e">2</text>
<text x="264.3" y="215.9" font-size="9.6" text-anchor="middle" fill="#2e2e2e">4</text>
<text x="304.9" y="215.9" font-size="9.6" text-anchor="middle" fill="#2e2e2e">6</text>
<path d="M61.17,203.4 v-6.0 M101.79,203.4 v-6.0 M142.41,203.4 v-6.0 M183.03,203.4 v-6.0 M223.65,203.4 v-6.0 M264.27,203.4 v-6.0 M304.88,203.4 v-6.0" stroke="#484848" stroke-width="1.4" stroke-opacity="0.22" fill="none"/>
<rect x="134.5" y="174.5" width="96" height="24.6" fill="#f3f3f3" fill-opacity="0.85"/>
<path d="M138.60,177.20 l6.30,6.30 M144.60,177.20 l6.30,6.30 M150.60,177.20 l6.30,6.30 M156.60,177.20 l6.30,6.30 M162.60,177.20 l6.30,6.30 M168.60,177.20 l2.40,2.40" stroke="#1f77b4" stroke-width="1.35" stroke-opacity="0.95" fill="none"/>
<path d="M140.0,180.8 h30.5" stroke="#1f77b4" stroke-width="1.1" stroke-dasharray="3.3 2.7" fill="none"/>
<rect x="138.1" y="188.7" width="32.8" height="5.8" fill="#ff7f0e" fill-opacity="0.54"/>
<path d="M140.0,191.6 h30.0" stroke="#ff7f0e" stroke-width="1.25" stroke-dasharray="6.4 2.6" fill="none"/>
<text x="177.6" y="183.4" font-size="8.2" fill="#2e2e2e" textLength="23.1" lengthAdjust="spacingAndGlyphs">NNLO</text>
<text x="177.6" y="194.9" font-size="8.2" fill="#2e2e2e" textLength="51.1" lengthAdjust="spacingAndGlyphs">NNLO+NLL<tspan font-style="italic">x</tspan></text>
<text x="30.6" y="20.2" font-size="9.5" text-anchor="end" fill="#2e2e2e">1.6</text>
<text x="30.6" y="57.4" font-size="9.5" text-anchor="end" fill="#2e2e2e">1.4</text>
<text x="30.6" y="94.5" font-size="9.5" text-anchor="end" fill="#2e2e2e">1.2</text>
<text x="30.6" y="131.7" font-size="9.5" text-anchor="end" fill="#2e2e2e">1.0</text>
<text x="30.6" y="168.8" font-size="9.5" text-anchor="end" fill="#2e2e2e">0.8</text>
<text x="30.6" y="206.0" font-size="9.5" text-anchor="end" fill="#2e2e2e">0.6</text>
<text x="183.8" y="231.1" font-size="9.6" font-style="italic" text-anchor="middle" fill="#2e2e2e">y</text>
<text transform="translate(7.5,110.9) rotate(-90)" font-size="8.9" text-anchor="middle" fill="#2e2e2e" textLength="124" lengthAdjust="spacingAndGlyphs">(<tspan font-style="italic">d</tspan><tspan font-family="Liberation Serif" font-style="italic" font-size="10.2">L</tspan><tspan font-size="7.2" dy="1.7" font-style="italic">gg</tspan><tspan dy="-1.7"> / </tspan><tspan font-style="italic">dy</tspan>) / (<tspan font-style="italic">d</tspan><tspan font-family="Liberation Serif" font-style="italic" font-size="10.2">L</tspan><tspan font-size="7.2" dy="1.7" font-style="italic">gg</tspan><tspan dy="-1.7"> / </tspan><tspan font-style="italic">dy</tspan>) [ref]</text>
<text x="72.1" y="8.5" font-size="10.7" fill="#2e2e2e" textLength="67.5" lengthAdjust="spacingAndGlyphs">NNPDF31sx,</text>
<text x="144.8" y="8.5" font-size="10.7" fill="#2e2e2e" textLength="22.8" lengthAdjust="spacingAndGlyphs">LHC</text>
<text x="173.4" y="8.5" font-size="10.7" fill="#2e2e2e" textLength="11.1" lengthAdjust="spacingAndGlyphs">13</text>
<text x="190.6" y="8.5" font-size="10.7" fill="#2e2e2e" textLength="23.7" lengthAdjust="spacingAndGlyphs">TeV,</text>
<text x="220.7" y="8.5" font-size="10.7" font-style="italic" fill="#2e2e2e" textLength="10.2" lengthAdjust="spacingAndGlyphs">M</text>
<text x="231.2" y="10.4" font-size="7.8" font-style="italic" fill="#2e2e2e" textLength="5.7" lengthAdjust="spacingAndGlyphs">X</text>
<text x="241.4" y="8.5" font-size="10.7" fill="#2e2e2e" textLength="8.8" lengthAdjust="spacingAndGlyphs">=</text>
<text x="254.6" y="8.5" font-size="10.7" fill="#2e2e2e" textLength="11.3" lengthAdjust="spacingAndGlyphs">10</text>
<text x="272.1" y="8.5" font-size="10.7" fill="#2e2e2e" textLength="20.1" lengthAdjust="spacingAndGlyphs">GeV</text>
<clipPath id="c1"><rect x="392.1" y="17.6" width="292.2" height="185.8"/></clipPath>
<path d="M392.1,17.60 H684.0 M392.1,54.76 H684.0 M392.1,91.92 H684.0 M392.1,129.08 H684.0 M392.1,166.24 H684.0 M392.1,203.40 H684.0 M415.93,17.6 V203.4 M456.63,17.6 V203.4 M497.33,17.6 V203.4 M538.03,17.6 V203.4 M578.73,17.6 V203.4 M619.43,17.6 V203.4 M660.13,17.6 V203.4" stroke="#e4e4e4" stroke-width="1.3" fill="none"/>
<path d="M415.93,203.4 v-6.0 M456.63,203.4 v-6.0 M497.33,203.4 v-6.0 M538.03,203.4 v-6.0 M578.73,203.4 v-6.0 M619.43,203.4 v-6.0 M660.13,203.4 v-6.0" stroke="#484848" stroke-width="1.4" fill="none"/>
<g clip-path="url(#c1)">
<defs><path id="B1" d="M380.0,-10.0 412.0,5.0 412.0,6.5 412.0,7.8 412.1,9.0 412.1,10.3 412.1,11.7 412.1,13.3 412.2,15.2 412.3,17.4 412.4,20.1 412.6,23.2 412.8,26.6 413.0,30.2 413.2,33.8 413.4,37.5 413.6,41.0 413.9,44.4 414.2,47.6 414.5,50.8 414.8,54.0 415.1,57.1 415.5,60.1 415.8,63.1 416.1,66.0 416.4,68.8 416.7,71.5 417.0,74.0 417.2,76.4 417.5,78.8 417.7,81.1 418.0,83.5 418.2,85.8 418.5,88.2 419.3,88.6 420.1,89.0 420.9,89.4 421.6,89.8 422.4,90.2 423.3,90.6 424.2,91.0 425.3,91.5 426.5,92.0 427.8,92.5 429.2,93.0 430.7,93.6 432.2,94.1 433.7,94.8 435.2,95.5 436.6,96.3 438.1,97.2 439.6,98.3 441.1,99.4 442.7,100.6 444.2,101.8 445.6,103.0 446.9,104.2 448.0,105.2 449.0,106.2 449.8,107.1 450.5,108.0 451.1,108.9 451.6,109.7 452.2,110.5 452.8,111.2 453.5,111.9 454.2,112.5 455.0,113.0 455.8,113.5 456.5,114.0 457.3,114.4 458.1,114.8 458.9,115.1 459.8,115.5 460.7,115.9 461.5,116.2 462.4,116.5 463.3,116.8 464.2,117.1 465.2,117.3 466.2,117.6 467.3,117.8 468.4,118.0 469.6,118.2 470.8,118.4 472.0,118.5 473.3,118.7 474.6,118.8 476.0,118.9 477.4,119.0 478.8,119.1 480.2,119.2 481.6,119.2 483.1,119.3 484.6,119.3 486.3,119.3 488.1,119.4 490.0,119.4 492.1,119.4 494.5,119.5 497.0,119.5 499.5,119.5 502.2,119.5 504.8,119.5 507.4,119.6 510.0,119.6 512.5,119.7 515.0,119.7 517.5,119.8 520.0,119.9 522.5,119.9 525.0,120.0 527.5,120.1 530.0,120.2 532.5,120.3 535.0,120.4 537.5,120.5 540.0,120.6 542.5,120.7 545.0,120.9 547.5,120.9 550.0,121.0 552.5,121.0 555.0,121.1 557.5,121.1 560.0,121.1 562.5,121.0 565.0,121.0 567.5,121.0 570.0,121.0 572.6,121.0 575.2,121.0 577.8,121.0 580.5,121.0 583.0,120.9 585.5,120.9 587.9,120.9 590.0,120.8 591.9,120.7 593.7,120.6 595.4,120.5 596.9,120.3 598.4,120.2 599.8,120.0 601.2,119.9 602.6,119.7 604.0,119.6 605.4,119.4 606.8,119.3 608.1,119.1 609.4,119.0 610.6,118.8 611.8,118.6 613.0,118.4 614.1,118.1 615.2,117.9 616.3,117.6 617.3,117.2 618.3,116.9 619.3,116.5 620.2,116.2 621.0,115.8 621.8,115.4 622.5,115.1 623.2,114.7 623.8,114.3 624.4,113.9 625.0,113.5 625.6,113.0 626.2,112.5 626.8,112.0 627.4,111.4 628.1,110.8 628.7,110.2 629.3,109.6 629.9,108.9 630.4,108.2 631.0,107.5 631.5,106.7 632.0,105.9 632.5,105.1 633.0,104.3 633.5,103.4 634.0,102.5 634.5,101.5 635.0,100.5 635.5,99.4 636.1,98.3 636.6,97.2 637.1,96.0 637.7,94.8 638.3,93.5 638.9,92.3 639.6,91.0 640.3,89.7 641.1,88.3 641.8,86.9 642.6,85.5 643.5,84.0 644.3,82.7 645.2,81.3 646.1,80.1 647.0,79.0 648.0,77.9 649.0,76.9 650.1,75.9 651.1,74.9 652.1,74.0 653.2,73.0 654.2,72.0 655.2,71.0 656.3,69.9 657.3,68.9 658.4,67.8 659.4,66.8 660.4,65.8 661.4,64.8 662.3,63.9 663.2,63.0 664.1,62.2 665.0,61.3 665.8,60.5 666.6,59.8 667.4,59.0 668.1,58.2 668.8,57.4 669.4,56.6 670.0,55.9 670.5,55.1 671.0,54.3 671.5,53.6 672.0,52.8 672.4,51.9 672.8,50.9 673.2,49.9 673.6,48.8 673.9,47.6 674.2,46.5 674.5,45.2 674.8,43.9 675.0,42.6 675.3,41.2 675.5,39.7 675.8,38.1 676.0,36.5 676.2,34.8 676.4,33.1 676.6,31.4 676.7,29.7 676.9,28.2 677.0,26.8 677.2,25.4 677.3,24.1 677.4,22.8 677.5,21.5 677.5,20.2 677.6,18.8 677.7,17.4 677.8,15.9 677.8,14.4 677.9,12.9 678.0,11.3 678.0,9.7 678.1,8.1 678.1,6.6 678.2,5.0 700.0,-10.0 694.8,217.9 674.7,217.9 674.1,216.0 673.5,214.1 673.0,212.1 672.4,210.2 671.8,208.3 671.1,206.5 670.4,204.7 669.7,203.1 668.9,201.6 668.0,200.2 667.1,198.9 666.1,197.6 665.1,196.4 664.1,195.2 663.1,194.0 662.2,192.8 661.2,191.5 660.3,190.2 659.5,189.0 658.6,187.7 657.6,186.4 656.7,185.2 655.7,183.9 654.6,182.7 653.5,181.6 652.2,180.5 650.9,179.4 649.6,178.3 648.3,177.2 647.0,176.1 645.7,175.0 644.6,174.0 643.5,172.9 642.5,171.8 641.5,170.7 640.5,169.6 639.6,168.6 638.7,167.5 637.9,166.3 637.1,165.2 636.3,164.0 635.7,162.7 635.1,161.5 634.5,160.2 634.0,158.9 633.4,157.7 632.8,156.4 632.0,155.1 631.2,153.8 630.4,152.5 629.5,151.1 628.6,149.7 627.6,148.4 626.6,147.1 625.6,146.0 624.5,145.1 623.4,144.3 622.2,143.6 621.0,143.1 619.8,142.7 618.5,142.3 617.2,142.0 615.8,141.6 614.5,141.3 613.0,141.0 611.5,140.7 609.9,140.5 608.3,140.3 606.7,140.1 605.1,140.0 603.5,139.8 601.9,139.6 600.3,139.3 598.8,139.0 597.2,138.8 595.6,138.5 594.0,138.2 592.5,138.0 590.9,137.7 589.3,137.5 587.8,137.4 586.2,137.3 584.6,137.2 583.1,137.1 581.5,137.0 579.9,136.9 578.4,136.9 576.8,136.8 575.2,136.7 573.6,136.6 572.1,136.6 570.5,136.5 568.9,136.4 567.4,136.4 565.8,136.3 564.2,136.3 562.7,136.2 561.1,136.2 559.6,136.2 558.0,136.1 556.4,136.1 554.9,136.1 553.3,136.1 551.7,136.0 550.0,136.0 548.3,136.0 546.6,135.9 544.9,135.9 543.2,135.8 541.5,135.8 539.9,135.8 538.4,135.8 536.9,135.8 535.5,135.8 534.1,135.8 532.8,135.9 531.5,135.9 530.2,135.9 528.9,136.0 527.6,136.0 526.3,136.1 525.0,136.1 523.8,136.2 522.5,136.2 521.3,136.3 520.1,136.4 518.8,136.4 517.6,136.5 516.3,136.6 515.1,136.7 513.8,136.8 512.5,137.0 511.3,137.1 510.0,137.2 508.8,137.4 507.5,137.5 506.3,137.7 505.0,137.9 503.8,138.2 502.5,138.4 501.2,138.6 500.0,138.9 498.7,139.1 497.5,139.3 496.2,139.5 495.0,139.6 493.7,139.8 492.5,140.0 491.2,140.1 489.9,140.3 488.7,140.4 487.4,140.6 486.2,140.7 484.9,140.9 483.7,141.0 482.4,141.2 481.2,141.3 479.9,141.5 478.6,141.7 477.4,141.8 476.1,142.0 474.8,142.1 473.5,142.3 472.2,142.4 470.9,142.6 469.7,142.7 468.5,142.9 467.3,143.1 466.3,143.2 465.3,143.4 464.3,143.6 463.4,143.7 462.5,143.9 461.6,144.1 460.7,144.3 459.8,144.6 458.9,144.8 457.9,145.1 456.9,145.4 456.0,145.7 455.0,146.0 454.1,146.3 453.2,146.7 452.3,147.1 451.4,147.5 450.6,148.0 449.8,148.5 449.0,149.0 448.2,149.5 447.4,150.1 446.7,150.7 446.0,151.4 445.3,152.0 444.6,152.8 444.0,153.6 443.4,154.4 442.8,155.2 442.2,156.0 441.6,156.8 441.0,157.6 440.3,158.4 439.7,159.3 439.1,160.1 438.5,160.9 437.8,161.7 437.2,162.5 436.6,163.2 435.9,163.9 435.3,164.5 434.7,165.1 434.0,165.6 433.4,166.1 432.7,166.6 432.1,167.0 431.5,167.4 430.9,167.7 430.4,167.9 429.9,168.1 429.5,168.2 429.0,168.3 428.6,168.4 428.2,168.4 427.7,168.4 427.2,168.4 426.6,168.4 426.0,168.2 425.3,168.1 424.6,167.9 424.0,167.7 423.3,167.6 422.7,167.6 422.1,167.7 421.6,167.9 421.1,168.2 420.6,168.5 420.1,169.0 419.6,169.5 419.2,170.0 418.8,170.7 418.4,171.4 418.0,172.3 417.6,173.2 417.3,174.2 417.0,175.3 416.7,176.4 416.4,177.7 416.1,178.9 415.9,180.2 415.6,181.6 415.4,183.2 415.3,184.8 415.1,186.4 415.0,188.1 414.8,189.7 414.7,191.3 414.6,192.8 414.5,194.2 414.4,195.4 414.4,196.6 414.3,197.8 414.3,199.0 414.2,200.2 414.2,201.6 414.1,203.1 414.0,204.7 414.0,206.5 413.9,208.3 413.8,210.2 413.8,212.1 413.7,214.1 413.7,216.0 413.6,217.9 387.0,217.9Z"/></defs>
<clipPath id="b1"><use href="#B1"/></clipPath>
<use href="#H" clip-path="url(#b1)" stroke="#1f77b4" stroke-width="1.15" stroke-opacity="0.92" fill="none"/>
<use href="#B1" fill="none" stroke="#1f77b4" stroke-opacity="0.35" stroke-width="0.8"/>
<defs><path id="O1" d="M387.0,-3.1 420.1,7.0 420.4,8.2 420.6,9.5 420.9,10.7 421.1,12.0 421.3,13.2 421.6,14.5 421.9,15.7 422.1,17.0 422.4,18.3 422.7,19.5 423.0,20.8 423.3,22.0 423.6,23.3 423.9,24.5 424.3,25.8 424.6,27.0 425.0,28.3 425.5,29.6 425.9,30.8 426.4,32.1 426.9,33.3 427.4,34.6 427.9,35.8 428.4,37.1 429.0,38.4 429.6,39.6 430.2,40.9 430.8,42.2 431.4,43.5 432.1,44.7 432.7,45.9 433.4,47.1 434.2,48.3 434.9,49.4 435.6,50.5 436.4,51.5 437.2,52.6 438.0,53.7 438.9,54.8 439.7,55.9 440.6,57.1 441.5,58.4 442.4,59.7 443.4,61.0 444.4,62.3 445.3,63.6 446.3,64.8 447.2,66.0 448.2,67.0 449.1,68.1 450.1,69.0 451.0,70.0 452.0,70.9 452.9,71.8 453.8,72.6 454.8,73.5 455.7,74.4 456.7,75.2 457.6,76.0 458.5,76.8 459.5,77.6 460.4,78.4 461.4,79.1 462.3,79.8 463.3,80.4 464.2,81.0 465.1,81.6 466.1,82.1 467.0,82.6 468.0,83.2 468.9,83.7 469.9,84.3 470.8,84.9 471.7,85.5 472.7,86.1 473.6,86.7 474.6,87.3 475.5,88.0 476.4,88.6 477.4,89.3 478.3,90.0 479.3,90.8 480.2,91.6 481.2,92.4 482.1,93.2 483.0,93.9 484.0,94.7 484.9,95.4 485.9,96.0 486.8,96.6 487.7,97.2 488.7,97.8 489.6,98.4 490.6,98.9 491.5,99.4 492.5,99.9 493.4,100.3 494.3,100.7 495.2,101.1 496.1,101.5 497.0,101.9 497.9,102.2 498.9,102.5 500.0,102.9 501.1,103.2 502.3,103.6 503.6,103.9 504.9,104.2 506.2,104.6 507.5,104.9 508.8,105.1 510.0,105.4 511.3,105.6 512.5,105.9 513.8,106.1 515.1,106.3 516.3,106.4 517.6,106.6 518.8,106.8 520.1,106.9 521.3,107.0 522.6,107.2 523.9,107.3 525.2,107.4 526.5,107.4 527.7,107.5 529.0,107.6 530.1,107.7 531.2,107.7 532.2,107.8 533.1,107.8 534.0,107.9 535.0,107.9 536.0,107.9 537.1,107.9 538.4,107.9 539.8,107.9 541.3,107.9 543.0,107.8 544.7,107.8 546.5,107.7 548.3,107.6 550.0,107.5 551.7,107.4 553.3,107.3 554.8,107.2 556.3,107.0 557.8,106.9 559.4,106.7 560.9,106.6 562.5,106.4 564.2,106.2 566.0,105.9 568.0,105.7 570.0,105.4 572.1,105.1 574.1,104.8 576.0,104.5 577.8,104.1 579.3,103.6 580.6,103.1 581.7,102.6 582.7,102.1 583.5,101.4 584.3,100.8 585.1,100.1 585.9,99.4 586.8,98.6 587.8,97.8 588.7,96.9 589.7,96.0 590.6,95.0 591.5,94.0 592.5,93.0 593.4,92.0 594.4,91.1 595.3,90.1 596.2,89.1 597.2,88.1 598.1,87.2 599.1,86.2 600.0,85.3 601.0,84.4 601.9,83.5 602.8,82.8 603.7,82.1 604.6,81.5 605.5,80.9 606.4,80.4 607.4,79.8 608.4,79.2 609.4,78.5 610.6,77.8 611.8,77.2 613.0,76.5 614.3,75.7 615.6,75.0 616.9,74.3 618.2,73.5 619.5,72.8 620.7,71.9 622.0,71.1 623.4,70.3 624.7,69.4 625.9,68.5 627.2,67.7 628.4,66.8 629.5,66.0 630.6,65.2 631.6,64.4 632.5,63.6 633.4,62.9 634.3,62.1 635.2,61.3 636.1,60.5 637.1,59.7 638.0,58.8 638.9,57.9 639.9,57.0 640.8,56.1 641.8,55.1 642.7,54.2 643.6,53.2 644.6,52.2 645.5,51.1 646.5,50.1 647.4,49.0 648.4,47.9 649.3,46.8 650.2,45.7 651.2,44.5 652.1,43.4 653.1,42.2 654.1,40.9 655.1,39.6 656.0,38.3 657.0,37.0 657.9,35.7 658.8,34.5 659.7,33.3 660.4,32.3 661.1,31.3 661.7,30.3 662.3,29.4 662.9,28.5 663.5,27.6 664.1,26.7 664.7,25.8 665.3,24.8 666.0,23.8 666.7,22.7 667.4,21.6 668.1,20.6 668.7,19.7 669.3,18.9 669.7,18.3 670.0,17.9 670.2,17.7 670.2,17.7 670.2,17.8 670.3,17.8 670.4,17.8 670.6,17.5 671.0,17.0 671.5,16.2 672.2,15.1 672.9,13.9 673.8,12.5 674.7,11.1 675.5,9.7 676.4,8.3 677.2,7.0 694.8,-3.1 694.8,217.9 678.2,217.9 678.2,216.0 678.1,214.1 678.1,212.1 678.0,210.2 677.9,208.3 677.9,206.5 677.8,204.7 677.7,203.1 677.7,201.7 677.6,200.4 677.6,199.3 677.5,198.3 677.5,197.2 677.4,195.9 677.3,194.5 677.2,192.8 677.1,190.7 677.0,188.5 676.8,186.0 676.7,183.4 676.5,180.7 676.3,178.0 676.1,175.3 676.0,172.7 675.8,170.2 675.7,167.6 675.5,164.9 675.4,162.3 675.2,159.8 675.0,157.3 674.9,154.9 674.7,152.6 674.6,150.4 674.4,148.3 674.3,146.3 674.2,144.3 674.0,142.4 673.9,140.7 673.7,139.0 673.5,137.5 673.2,136.2 673.0,135.0 672.8,133.9 672.5,132.9 672.2,132.1 671.9,131.3 671.5,130.6 671.0,130.0 670.4,129.5 669.8,129.2 669.2,129.0 668.5,128.9 667.7,128.8 666.8,128.8 665.8,128.7 664.7,128.5 663.4,128.3 662.0,128.0 660.4,127.8 658.8,127.5 657.1,127.3 655.4,127.0 653.7,126.8 652.1,126.5 650.6,126.2 649.0,125.9 647.5,125.6 646.0,125.3 644.4,125.0 643.0,124.7 641.5,124.4 640.0,124.2 638.5,124.0 637.1,123.8 635.6,123.6 634.1,123.4 632.7,123.2 631.3,123.1 630.0,122.9 628.8,122.8 627.7,122.7 626.6,122.6 625.6,122.5 624.7,122.5 623.8,122.4 622.9,122.4 622.0,122.4 621.0,122.3 620.0,122.2 619.0,122.2 618.0,122.1 617.1,122.0 616.1,122.0 615.1,121.9 614.1,121.9 613.1,121.8 612.1,121.7 611.1,121.7 610.1,121.6 609.2,121.5 608.2,121.5 607.2,121.4 606.2,121.4 605.2,121.3 604.2,121.3 603.2,121.2 602.2,121.2 601.2,121.1 600.3,121.1 599.3,121.0 598.3,121.0 597.3,121.0 596.3,121.0 595.3,121.0 594.3,120.9 593.3,120.9 592.4,120.9 591.4,120.9 590.4,120.9 589.4,121.0 588.4,121.1 587.4,121.2 586.4,121.3 585.4,121.4 584.5,121.6 583.5,121.7 582.5,121.9 581.5,122.1 580.5,122.3 579.5,122.6 578.6,122.9 577.6,123.1 576.6,123.4 575.7,123.7 574.7,124.0 573.7,124.3 572.7,124.6 571.7,124.8 570.7,125.1 569.8,125.3 568.8,125.6 567.8,125.8 566.8,126.1 565.8,126.3 564.8,126.5 563.8,126.8 562.8,127.0 561.8,127.2 560.9,127.4 559.9,127.6 558.9,127.8 557.9,127.9 556.9,128.0 556.0,128.1 555.1,128.2 554.2,128.3 553.3,128.4 552.3,128.4 551.2,128.5 550.0,128.5 548.7,128.5 547.4,128.5 545.9,128.5 544.5,128.5 542.9,128.5 541.3,128.5 539.7,128.4 538.0,128.4 536.2,128.4 534.3,128.4 532.4,128.4 530.4,128.4 528.4,128.4 526.4,128.3 524.5,128.2 522.6,128.1 520.8,127.9 519.1,127.7 517.3,127.5 515.7,127.2 514.0,126.9 512.3,126.6 510.7,126.3 509.0,126.0 507.3,125.7 505.7,125.3 504.1,124.9 502.5,124.5 500.8,124.1 499.2,123.7 497.6,123.4 496.0,123.0 494.3,122.7 492.7,122.3 491.0,122.0 489.3,121.7 487.6,121.4 486.0,121.1 484.4,120.8 483.0,120.6 481.7,120.4 480.4,120.2 479.3,120.1 478.1,120.0 477.1,119.9 476.0,119.8 474.9,119.7 473.8,119.6 472.7,119.5 471.6,119.4 470.5,119.4 469.4,119.3 468.3,119.3 467.2,119.2 466.1,119.2 465.0,119.2 463.9,119.2 462.8,119.2 461.7,119.3 460.6,119.3 459.5,119.4 458.4,119.4 457.3,119.5 456.2,119.6 455.1,119.7 454.0,119.8 452.8,119.9 451.7,120.0 450.6,120.2 449.5,120.3 448.5,120.5 447.5,120.6 446.6,120.8 445.8,120.9 445.1,121.1 444.4,121.2 443.7,121.4 443.0,121.6 442.3,121.8 441.6,122.0 440.9,122.2 440.1,122.5 439.4,122.7 438.7,123.0 438.0,123.3 437.2,123.6 436.5,123.9 435.8,124.2 435.1,124.6 434.4,125.0 433.6,125.4 432.9,125.8 432.2,126.3 431.5,126.7 430.7,127.1 430.0,127.4 429.3,127.7 428.5,127.9 427.7,128.2 427.0,128.4 426.2,128.6 425.5,128.8 424.8,129.0 424.1,129.3 423.5,129.6 422.8,129.9 422.2,130.3 421.7,130.6 421.1,131.0 420.6,131.4 420.1,131.8 419.7,132.3 419.3,132.8 419.0,133.4 418.7,134.1 418.4,134.7 418.2,135.4 417.9,136.1 417.7,136.7 417.5,137.4 417.3,138.0 417.1,138.6 416.9,139.1 416.7,139.7 416.6,140.3 416.4,140.9 416.3,141.7 416.1,142.6 416.0,143.6 415.8,144.6 415.7,145.8 415.6,147.0 415.5,148.3 415.3,149.6 415.2,151.1 415.1,152.6 415.0,154.3 414.8,156.0 414.7,157.9 414.6,159.8 414.5,161.8 414.3,163.8 414.2,165.8 414.1,167.7 414.0,169.5 413.9,171.3 413.8,173.1 413.7,174.9 413.6,176.7 413.5,178.6 413.4,180.6 413.3,182.7 413.3,185.1 413.2,187.6 413.1,190.2 413.1,192.9 413.0,195.6 412.9,198.3 412.9,200.8 412.8,203.1 412.8,205.2 412.8,207.2 412.7,209.0 412.7,210.8 412.7,212.6 412.6,214.3 412.6,216.1 412.6,217.9 387.0,217.9Z"/></defs>
<clipPath id="o1"><use href="#O1"/></clipPath>
<use href="#O1" fill="#fff"/>
<use href="#O1" fill="#ff7f0e" fill-opacity="0.54" stroke="#ff7f0e" stroke-opacity="0.22" stroke-width="0.9"/>
<g clip-path="url(#b1)"><use href="#H" clip-path="url(#o1)" stroke="#7d6a58" stroke-width="0.90" stroke-opacity="0.62" fill="none"/></g>
<path d="M392.1,17.60 H684.0 M392.1,54.76 H684.0 M392.1,91.92 H684.0 M392.1,129.08 H684.0 M392.1,166.24 H684.0 M392.1,203.40 H684.0 M415.93,17.6 V203.4 M456.63,17.6 V203.4 M497.33,17.6 V203.4 M538.03,17.6 V203.4 M578.73,17.6 V203.4 M619.43,17.6 V203.4 M660.13,17.6 V203.4" stroke="#c8c8c8" stroke-opacity="0.25" stroke-width="0.8" fill="none"/>
<path d="M392.1,129.08 H684.0" stroke="#1f77b4" stroke-width="1.3" stroke-dasharray="3.8 2.1" stroke-opacity="0.88" fill="none"/>
<path d="M393.7,128.8 393.7,124.3 393.8,119.8 393.9,115.2 393.9,110.7 394.0,106.2 394.0,101.8 394.1,97.4 394.2,93.1 394.2,88.9 394.3,84.7 394.4,80.7 394.5,76.7 394.5,72.7 394.6,68.7 394.7,64.7 394.8,60.6 394.9,56.4 395.0,51.9 395.1,47.3 395.3,42.8 395.4,38.5 395.5,34.5 395.7,31.0 395.8,28.2 395.9,26.1 396.0,24.6 396.2,23.6 396.3,22.9 396.5,22.5 396.6,22.3 396.8,22.2 396.9,22.1 397.1,21.9 397.3,21.8 397.5,21.8 397.6,21.9 397.9,22.3 398.1,22.9 398.3,23.8 398.5,25.0 398.8,26.6 399.1,28.6 399.4,30.8 399.7,33.4 400.0,36.1 400.3,38.8 400.7,41.7 401.0,44.4 401.3,47.3 401.6,50.3 401.9,53.4 402.2,56.6 402.6,59.8 402.9,62.9 403.1,65.9 403.4,68.8 403.6,71.5 403.9,74.3 404.1,77.1 404.3,79.8 404.5,82.3 404.7,84.6 404.9,86.6 405.0,88.2 405.2,89.4 405.3,90.2 405.5,90.7 405.6,91.0 405.8,91.1 405.9,91.3 406.0,91.4 406.2,91.8 406.3,91.4 406.5,91.3 406.6,91.1 406.7,91.0 406.9,90.7 407.1,90.2 407.2,89.4 407.5,88.2 407.7,86.5 408.0,84.2 408.3,81.6 408.6,78.8 408.9,75.9 409.3,73.2 409.6,70.8 409.9,68.8 410.2,67.1 410.5,65.7 410.8,64.5 411.1,63.5 411.4,62.6 411.7,61.8 412.0,61.2 412.3,60.6 412.6,60.2 412.9,60.0 413.2,59.8 413.5,59.8 413.8,59.9 414.1,60.1 414.5,60.4 414.8,60.6 415.1,61.0 415.3,61.4 415.6,62.0 415.9,62.6 416.2,63.2 416.5,64.0 416.8,64.7 417.2,65.5 417.5,66.4 417.9,67.3 418.3,68.4 418.7,69.5 419.1,70.6 419.5,71.6 420.0,72.7 420.4,73.6 420.9,74.5 421.3,75.4 421.8,76.2 422.3,77.1 422.8,77.9 423.3,78.6 423.9,79.4 424.5,80.1 425.1,80.8 425.8,81.5 426.5,82.1 427.2,82.8 427.9,83.4 428.6,83.9 429.4,84.5 430.2,85.0 430.9,85.4 431.7,85.9 432.6,86.3 433.4,86.6 434.2,87.0 435.1,87.3 435.9,87.6 436.6,87.9 437.4,88.1 438.0,88.3 438.6,88.4 439.2,88.5 439.8,88.6 440.5,88.8 441.3,89.0 442.2,89.3 443.3,89.7 444.4,90.2 445.7,90.7 447.0,91.3 448.3,91.9 449.7,92.5 451.0,93.0 452.3,93.6 453.5,94.1 454.8,94.7 456.0,95.2 457.3,95.7 458.5,96.2 459.8,96.8 461.1,97.3 462.3,97.9 463.6,98.4 464.8,99.0 466.1,99.5 467.3,100.1 468.6,100.7 469.9,101.2 471.1,101.8 472.4,102.4 473.6,103.0 474.9,103.5 476.1,104.1 477.4,104.7 478.6,105.3 479.9,105.8 481.2,106.4 482.4,106.9 483.7,107.4 484.9,107.9 486.2,108.3 487.4,108.8 488.7,109.2 489.9,109.6 491.2,110.0 492.5,110.4 493.7,110.8 495.0,111.2 496.2,111.6 497.5,112.0 498.7,112.4 500.0,112.7 501.2,113.1 502.5,113.4 503.8,113.8 505.0,114.1 506.3,114.4 507.5,114.7 508.8,114.9 510.0,115.2 511.3,115.5 512.5,115.7 513.8,115.9 515.1,116.1 516.3,116.3 517.6,116.5 518.8,116.7 520.1,116.9 521.3,117.0 522.6,117.2 523.9,117.4 525.2,117.5 526.5,117.6 527.9,117.8 529.2,117.9 530.4,118.0 531.6,118.1 532.6,118.2 533.5,118.3 534.2,118.4 534.8,118.4 535.3,118.5 535.8,118.5 536.5,118.5 537.3,118.5 538.4,118.5 539.7,118.4 541.2,118.3 542.8,118.2 544.6,118.1 546.4,118.0 548.2,117.8 550.0,117.7 551.7,117.5 553.3,117.2 554.9,117.0 556.4,116.7 558.0,116.4 559.6,116.0 561.1,115.7 562.7,115.3 564.2,114.9 565.8,114.5 567.4,114.1 568.9,113.7 570.5,113.3 572.1,112.8 573.6,112.3 575.2,111.7 576.8,111.2 578.4,110.5 579.9,109.9 581.5,109.1 583.1,108.4 584.6,107.6 586.2,106.9 587.8,106.1 589.3,105.4 590.9,104.7 592.5,104.0 594.0,103.2 595.6,102.5 597.2,101.8 598.8,101.1 600.3,100.5 601.9,99.9 603.5,99.3 605.0,98.8 606.6,98.3 608.2,97.8 609.7,97.4 611.3,97.0 612.9,96.5 614.5,96.1 616.0,95.7 617.6,95.3 619.2,94.9 620.7,94.5 622.3,94.1 623.9,93.8 625.4,93.4 627.0,93.1 628.6,92.8 630.2,92.6 631.8,92.4 633.4,92.2 635.0,92.0 636.6,91.8 638.1,91.5 639.6,91.1 640.9,90.6 642.3,90.1 643.5,89.5 644.7,88.8 646.0,88.2 647.2,87.5 648.4,86.8 649.6,86.1 650.9,85.3 652.2,84.5 653.5,83.7 654.8,82.8 656.1,82.0 657.3,81.2 658.5,80.5 659.7,79.8 660.7,79.2 661.8,78.6 662.8,78.1 663.7,77.6 664.7,77.1 665.5,76.7 666.4,76.3 667.2,76.0 667.9,75.7 668.6,75.4 669.3,75.2 669.9,75.0 670.4,74.8 671.0,74.8 671.6,74.7 672.2,74.8 672.9,74.8 673.5,74.9 674.2,75.1 674.9,75.3 675.5,75.6 676.2,76.0 676.7,76.6 677.2,77.3 677.7,78.1 678.1,79.1 678.4,80.2 678.7,81.4 679.0,82.7 679.3,84.1 679.5,85.6 679.7,87.3 680.0,89.2 680.1,91.2 680.3,93.4 680.5,95.6 680.6,98.0 680.7,100.3 680.9,102.6 681.0,104.9 681.2,107.2 681.3,109.5 681.5,112.0 681.7,114.4 681.8,116.7 682.0,118.9 682.1,120.8 682.3,122.5 682.4,123.8 682.4,124.9 682.5,125.7 682.6,126.4 682.6,127.0 682.7,127.6 682.7,128.3 682.8,129.0" stroke="#ff7f0e" stroke-width="1.45" stroke-dasharray="5.9 2.7" fill="none" stroke-linejoin="round"/>
</g>
<path d="M392.1,203.40 H684.2" stroke="#3c3c3c" stroke-width="1.2" fill="none"/>
<path d="M409.8,213.3 h6.0" stroke="#555" stroke-width="0.9" fill="none"/>
<text x="417.2" y="215.9" font-size="9.6" fill="#2e2e2e">6</text>
<path d="M450.5,213.3 h6.0" stroke="#555" stroke-width="0.9" fill="none"/>
<text x="457.9" y="215.9" font-size="9.6" fill="#2e2e2e">4</text>
<path d="M491.2,213.3 h6.0" stroke="#555" stroke-width="0.9" fill="none"/>
<text x="498.6" y="215.9" font-size="9.6" fill="#2e2e2e">2</text>
<text x="538.0" y="215.9" font-size="9.6" text-anchor="middle" fill="#2e2e2e">0</text>
<text x="578.7" y="215.9" font-size="9.6" text-anchor="middle" fill="#2e2e2e">2</text>
<text x="619.4" y="215.9" font-size="9.6" text-anchor="middle" fill="#2e2e2e">4</text>
<text x="660.1" y="215.9" font-size="9.6" text-anchor="middle" fill="#2e2e2e">6</text>
<path d="M415.93,203.4 v-6.0 M456.63,203.4 v-6.0 M497.33,203.4 v-6.0 M538.03,203.4 v-6.0 M578.73,203.4 v-6.0 M619.43,203.4 v-6.0 M660.13,203.4 v-6.0" stroke="#484848" stroke-width="1.4" stroke-opacity="0.22" fill="none"/>
<rect x="489.5" y="174.5" width="96" height="24.6" fill="#f3f3f3" fill-opacity="0.85"/>
<path d="M493.60,177.20 l6.30,6.30 M499.60,177.20 l6.30,6.30 M505.60,177.20 l6.30,6.30 M511.60,177.20 l6.30,6.30 M517.60,177.20 l6.30,6.30 M523.60,177.20 l2.40,2.40" stroke="#1f77b4" stroke-width="1.35" stroke-opacity="0.95" fill="none"/>
<path d="M495.0,180.8 h30.5" stroke="#1f77b4" stroke-width="1.1" stroke-dasharray="3.3 2.7" fill="none"/>
<rect x="493.1" y="188.7" width="32.8" height="5.8" fill="#ff7f0e" fill-opacity="0.54"/>
<path d="M495.0,191.6 h30.0" stroke="#ff7f0e" stroke-width="1.25" stroke-dasharray="6.4 2.6" fill="none"/>
<text x="532.6" y="183.4" font-size="8.2" fill="#2e2e2e" textLength="23.1" lengthAdjust="spacingAndGlyphs">NNLO</text>
<text x="532.6" y="194.9" font-size="8.2" fill="#2e2e2e" textLength="51.1" lengthAdjust="spacingAndGlyphs">NNLO+NLL<tspan font-style="italic">x</tspan></text>
<text x="385.6" y="20.2" font-size="9.5" text-anchor="end" fill="#2e2e2e">1.6</text>
<text x="385.6" y="57.4" font-size="9.5" text-anchor="end" fill="#2e2e2e">1.4</text>
<text x="385.6" y="94.5" font-size="9.5" text-anchor="end" fill="#2e2e2e">1.2</text>
<text x="385.6" y="131.7" font-size="9.5" text-anchor="end" fill="#2e2e2e">1.0</text>
<text x="385.6" y="168.8" font-size="9.5" text-anchor="end" fill="#2e2e2e">0.8</text>
<text x="385.6" y="206.0" font-size="9.5" text-anchor="end" fill="#2e2e2e">0.6</text>
<text x="538.8" y="231.1" font-size="9.6" font-style="italic" text-anchor="middle" fill="#2e2e2e">y</text>
<text transform="translate(362.5,110.9) rotate(-90)" font-size="8.9" text-anchor="middle" fill="#2e2e2e" textLength="124" lengthAdjust="spacingAndGlyphs">(<tspan font-style="italic">d</tspan><tspan font-family="Liberation Serif" font-style="italic" font-size="10.2">L</tspan><tspan font-size="7.2" dy="1.7" font-style="italic">qg</tspan><tspan dy="-1.7"> / </tspan><tspan font-style="italic">dy</tspan>) / (<tspan font-style="italic">d</tspan><tspan font-family="Liberation Serif" font-style="italic" font-size="10.2">L</tspan><tspan font-size="7.2" dy="1.7" font-style="italic">qg</tspan><tspan dy="-1.7"> / </tspan><tspan font-style="italic">dy</tspan>) [ref]</text>
<text x="427.1" y="8.5" font-size="10.7" fill="#2e2e2e" textLength="67.5" lengthAdjust="spacingAndGlyphs">NNPDF31sx,</text>
<text x="499.8" y="8.5" font-size="10.7" fill="#2e2e2e" textLength="22.8" lengthAdjust="spacingAndGlyphs">LHC</text>
<text x="528.4" y="8.5" font-size="10.7" fill="#2e2e2e" textLength="11.1" lengthAdjust="spacingAndGlyphs">13</text>
<text x="545.5" y="8.5" font-size="10.7" fill="#2e2e2e" textLength="23.7" lengthAdjust="spacingAndGlyphs">TeV,</text>
<text x="575.6" y="8.5" font-size="10.7" font-style="italic" fill="#2e2e2e" textLength="10.2" lengthAdjust="spacingAndGlyphs">M</text>
<text x="586.2" y="10.4" font-size="7.8" font-style="italic" fill="#2e2e2e" textLength="5.7" lengthAdjust="spacingAndGlyphs">X</text>
<text x="596.4" y="8.5" font-size="10.7" fill="#2e2e2e" textLength="8.8" lengthAdjust="spacingAndGlyphs">=</text>
<text x="609.5" y="8.5" font-size="10.7" fill="#2e2e2e" textLength="11.3" lengthAdjust="spacingAndGlyphs">10</text>
<text x="627.0" y="8.5" font-size="10.7" fill="#2e2e2e" textLength="20.1" lengthAdjust="spacingAndGlyphs">GeV</text>
<clipPath id="c2"><rect x="37.1" y="271.9" width="292.2" height="184.8"/></clipPath>
<path d="M37.1,271.90 H329.0 M37.1,308.86 H329.0 M37.1,345.82 H329.0 M37.1,382.78 H329.0 M37.1,419.74 H329.0 M37.1,456.70 H329.0 M39.15,271.9 V456.7 M87.11,271.9 V456.7 M135.07,271.9 V456.7 M183.03,271.9 V456.7 M230.99,271.9 V456.7 M278.95,271.9 V456.7 M326.91,271.9 V456.7" stroke="#e4e4e4" stroke-width="1.3" fill="none"/>
<path d="M39.15,456.7 v-5.2 M87.11,456.7 v-5.2 M135.07,456.7 v-5.2 M183.03,456.7 v-5.2 M230.99,456.7 v-5.2 M278.95,456.7 v-5.2 M326.91,456.7 v-5.2" stroke="#484848" stroke-width="1.4" fill="none"/>
<g clip-path="url(#c2)">
<defs><path id="B2" d="M32.0,250.9 50.8,261.0 50.8,262.0 50.8,262.8 50.8,263.5 50.8,264.3 50.8,265.2 50.8,266.5 50.9,268.4 51.1,271.0 51.3,274.4 51.5,278.5 51.8,283.1 52.2,288.1 52.5,293.3 52.9,298.6 53.2,303.8 53.6,308.7 53.9,313.5 54.2,318.6 54.5,323.7 54.9,328.8 55.2,333.7 55.6,338.4 55.9,342.6 56.3,346.3 56.8,349.5 57.2,352.4 57.7,354.8 58.3,357.0 58.8,358.9 59.3,360.5 59.8,362.0 60.4,363.4 60.9,364.6 61.4,365.4 61.9,366.0 62.4,366.4 63.0,366.7 63.5,367.0 64.1,367.3 64.6,367.7 65.2,368.1 65.8,368.6 66.5,369.0 67.1,369.5 67.7,369.9 68.4,370.2 69.0,370.6 69.6,370.9 70.3,371.3 70.8,371.6 71.4,371.8 72.0,372.1 72.6,372.3 73.2,372.5 73.9,372.7 74.7,373.0 75.5,373.2 76.4,373.4 77.3,373.6 78.3,373.8 79.3,374.0 80.3,374.2 81.2,374.3 82.2,374.5 83.1,374.6 84.0,374.7 84.9,374.8 85.8,374.9 86.7,374.9 87.7,375.0 88.7,375.1 89.7,375.2 90.9,375.4 92.1,375.5 93.3,375.6 94.6,375.8 95.9,376.0 97.2,376.1 98.5,376.3 99.8,376.5 101.0,376.7 102.3,376.8 103.5,377.0 104.8,377.2 106.1,377.4 107.3,377.6 108.6,377.8 109.8,378.0 111.1,378.1 112.3,378.3 113.5,378.4 114.7,378.5 115.9,378.6 117.2,378.8 118.5,378.9 119.9,379.0 121.3,379.1 122.8,379.2 124.4,379.3 126.0,379.4 127.6,379.5 129.2,379.6 130.8,379.7 132.4,379.7 134.0,379.8 135.6,379.8 137.1,379.9 138.7,379.9 140.3,379.9 141.8,380.0 143.4,380.0 145.0,380.0 146.6,380.0 148.1,380.0 149.7,380.0 151.3,380.0 152.8,380.0 154.4,380.0 156.0,380.0 157.5,380.0 159.1,380.0 160.7,379.9 162.2,379.9 163.8,379.9 165.4,379.8 166.9,379.8 168.5,379.8 170.1,379.7 171.7,379.7 173.3,379.7 174.9,379.7 176.5,379.7 178.1,379.7 179.7,379.7 181.3,379.7 182.9,379.7 184.5,379.7 186.2,379.7 187.8,379.7 189.4,379.7 191.1,379.7 192.7,379.7 194.3,379.7 195.9,379.7 197.5,379.8 199.1,379.8 200.6,379.8 202.2,379.9 203.8,379.9 205.3,379.9 206.9,380.0 208.5,380.0 210.0,380.0 211.6,380.0 213.2,380.0 214.7,380.0 216.3,380.0 217.9,380.0 219.4,380.0 221.0,380.0 222.6,380.0 224.2,380.0 225.7,379.9 227.3,379.9 228.9,379.9 230.4,379.8 232.0,379.8 233.6,379.7 235.2,379.7 236.8,379.6 238.4,379.5 240.0,379.4 241.6,379.3 243.2,379.2 244.7,379.1 246.1,379.0 247.5,378.9 248.8,378.8 250.1,378.6 251.3,378.5 252.5,378.4 253.7,378.3 254.9,378.1 256.2,378.0 257.4,377.8 258.7,377.6 259.9,377.4 261.2,377.2 262.5,377.0 263.7,376.8 265.0,376.7 266.2,376.5 267.5,376.3 268.8,376.1 270.1,376.0 271.4,375.8 272.7,375.6 273.9,375.5 275.1,375.4 276.3,375.2 277.3,375.1 278.3,375.0 279.3,374.9 280.2,374.9 281.1,374.8 282.0,374.7 282.9,374.6 283.8,374.5 284.8,374.3 285.7,374.2 286.7,374.0 287.7,373.8 288.7,373.6 289.6,373.4 290.5,373.2 291.3,373.0 292.1,372.7 292.8,372.5 293.4,372.3 294.0,372.1 294.6,371.8 295.2,371.6 295.7,371.3 296.4,370.9 297.0,370.6 297.6,370.2 298.3,369.9 298.9,369.5 299.5,369.0 300.2,368.6 300.8,368.1 301.4,367.7 301.9,367.3 302.5,367.0 303.0,366.7 303.6,366.4 304.1,366.0 304.6,365.4 305.1,364.6 305.6,363.4 306.2,362.0 306.7,360.5 307.2,358.9 307.7,357.0 308.3,354.8 308.8,352.4 309.2,349.5 309.7,346.3 310.1,342.6 310.4,338.4 310.8,333.7 311.1,328.8 311.5,323.7 311.8,318.6 312.1,313.5 312.4,308.7 312.8,303.8 313.1,298.6 313.5,293.3 313.8,288.1 314.2,283.1 314.5,278.5 314.7,274.4 314.9,271.0 315.1,268.4 315.2,266.5 315.2,265.2 315.2,264.3 315.2,263.5 315.2,262.8 315.2,262.0 315.2,261.0 334.0,250.9 334.0,471.9 316.4,471.9 316.3,470.1 316.1,468.4 316.0,466.7 315.8,465.0 315.7,463.2 315.5,461.4 315.4,459.3 315.2,457.1 315.0,454.6 314.8,451.8 314.6,448.9 314.4,445.8 314.1,442.8 313.9,439.8 313.7,436.9 313.4,434.2 313.2,431.7 313.0,429.3 312.7,427.0 312.5,424.7 312.2,422.6 312.0,420.5 311.7,418.5 311.4,416.7 311.1,414.9 310.9,413.3 310.6,411.7 310.3,410.3 310.0,408.9 309.6,407.7 309.3,406.5 308.9,405.4 308.5,404.3 308.1,403.4 307.6,402.5 307.2,401.7 306.7,401.0 306.2,400.4 305.7,399.7 305.1,399.1 304.6,398.5 304.0,397.9 303.4,397.4 302.8,397.0 302.2,396.5 301.5,396.1 300.8,395.7 300.1,395.3 299.4,394.9 298.7,394.6 297.9,394.2 297.1,393.9 296.3,393.6 295.5,393.3 294.7,393.1 293.8,392.8 293.0,392.5 292.0,392.3 291.1,392.1 290.2,391.9 289.2,391.6 288.2,391.4 287.3,391.2 286.3,391.0 285.4,390.8 284.5,390.6 283.6,390.4 282.7,390.3 281.8,390.1 280.8,389.9 279.8,389.7 278.8,389.5 277.6,389.4 276.4,389.2 275.2,389.0 273.9,388.9 272.6,388.7 271.3,388.6 270.0,388.4 268.7,388.3 267.5,388.1 266.3,388.0 265.1,387.9 263.9,387.7 262.6,387.6 261.4,387.5 260.1,387.4 258.7,387.3 257.2,387.2 255.7,387.1 254.2,387.0 252.6,386.9 250.9,386.8 249.3,386.7 247.7,386.6 246.1,386.5 244.6,386.4 243.0,386.4 241.4,386.3 239.8,386.2 238.3,386.2 236.7,386.1 235.1,386.1 233.6,386.0 232.0,386.0 230.4,386.0 228.9,386.0 227.3,386.0 225.7,386.0 224.2,386.0 222.6,386.0 221.0,386.0 219.4,386.0 217.9,386.0 216.3,386.0 214.7,386.0 213.2,386.0 211.6,386.0 210.0,386.0 208.5,386.0 206.9,386.0 205.3,386.0 203.8,386.0 202.2,386.0 200.6,386.0 199.1,386.0 197.5,386.0 195.9,386.0 194.3,386.0 192.7,386.0 191.1,386.0 189.4,386.0 187.8,386.0 186.2,386.0 184.5,386.0 182.9,386.0 181.3,386.0 179.7,386.0 178.1,386.0 176.5,386.0 174.9,386.0 173.3,386.0 171.7,386.0 170.1,386.0 168.5,386.0 166.9,386.0 165.4,386.0 163.8,386.0 162.2,386.0 160.7,386.0 159.1,386.0 157.5,386.0 156.0,386.0 154.4,386.0 152.8,386.0 151.3,386.0 149.7,386.0 148.1,386.0 146.6,386.0 145.0,386.0 143.4,386.0 141.8,386.0 140.3,386.0 138.7,386.0 137.1,386.0 135.6,386.0 134.0,386.0 132.4,386.0 130.9,386.1 129.3,386.1 127.7,386.2 126.2,386.2 124.6,386.3 123.0,386.4 121.4,386.4 119.9,386.5 118.3,386.6 116.7,386.7 115.1,386.8 113.4,386.9 111.8,387.0 110.3,387.1 108.8,387.2 107.3,387.3 105.9,387.4 104.6,387.5 103.4,387.6 102.1,387.7 100.9,387.9 99.7,388.0 98.5,388.1 97.3,388.3 96.0,388.4 94.7,388.6 93.4,388.7 92.1,388.9 90.8,389.0 89.6,389.2 88.4,389.4 87.2,389.5 86.2,389.7 85.2,389.9 84.2,390.1 83.3,390.3 82.4,390.4 81.5,390.6 80.6,390.8 79.7,391.0 78.7,391.2 77.8,391.4 76.8,391.6 75.8,391.9 74.9,392.1 74.0,392.3 73.0,392.5 72.2,392.8 71.3,393.1 70.5,393.3 69.7,393.6 68.9,393.9 68.1,394.2 67.3,394.6 66.6,394.9 65.9,395.3 65.2,395.7 64.5,396.1 63.8,396.5 63.2,397.0 62.6,397.4 62.0,397.9 61.4,398.5 60.9,399.1 60.3,399.7 59.8,400.4 59.3,401.0 58.8,401.7 58.4,402.5 57.9,403.4 57.5,404.3 57.1,405.4 56.7,406.5 56.4,407.7 56.0,408.9 55.7,410.3 55.4,411.7 55.1,413.3 54.9,414.9 54.6,416.7 54.3,418.5 54.0,420.5 53.8,422.6 53.5,424.7 53.3,427.0 53.0,429.3 52.8,431.7 52.6,434.2 52.3,436.9 52.1,439.8 51.9,442.8 51.6,445.8 51.4,448.9 51.2,451.8 51.0,454.6 50.8,457.1 50.6,459.3 50.5,461.4 50.3,463.2 50.2,465.0 50.0,466.7 49.9,468.4 49.7,470.1 49.6,471.9 32.0,471.9Z"/></defs>
<clipPath id="b2"><use href="#B2"/></clipPath>
<use href="#H" clip-path="url(#b2)" stroke="#1f77b4" stroke-width="1.15" stroke-opacity="0.92" fill="none"/>
<use href="#B2" fill="none" stroke="#1f77b4" stroke-opacity="0.35" stroke-width="0.8"/>
<defs><path id="O2" d="M32.0,250.9 53.6,261.0 53.7,262.2 53.8,263.4 53.9,264.6 54.0,265.8 54.1,267.0 54.3,268.3 54.4,269.6 54.6,271.0 54.8,272.4 55.0,274.0 55.2,275.5 55.5,277.1 55.7,278.7 56.0,280.4 56.3,282.0 56.6,283.6 56.9,285.1 57.3,286.7 57.6,288.3 58.0,289.8 58.4,291.4 58.8,293.0 59.2,294.5 59.6,296.1 60.0,297.7 60.5,299.3 60.9,301.0 61.4,302.6 61.8,304.2 62.3,305.8 62.8,307.3 63.4,308.7 63.9,310.0 64.5,311.2 65.1,312.4 65.7,313.5 66.4,314.6 67.0,315.6 67.7,316.6 68.4,317.5 69.1,318.3 69.9,319.0 70.7,319.7 71.5,320.3 72.3,320.9 73.1,321.4 73.9,321.9 74.7,322.5 75.5,323.0 76.2,323.5 77.0,323.9 77.8,324.3 78.6,324.7 79.4,325.2 80.2,325.7 80.9,326.2 81.7,326.9 82.5,327.6 83.2,328.4 84.0,329.2 84.8,330.0 85.6,330.8 86.4,331.7 87.2,332.5 88.1,333.4 89.0,334.4 90.0,335.4 90.9,336.4 91.9,337.4 92.8,338.3 93.8,339.2 94.8,340.1 95.7,340.8 96.6,341.5 97.5,342.1 98.4,342.7 99.3,343.3 100.2,343.8 101.2,344.4 102.3,345.1 103.4,345.8 104.6,346.5 105.9,347.2 107.2,348.0 108.5,348.7 109.8,349.5 111.1,350.2 112.3,350.9 113.6,351.5 114.9,352.1 116.1,352.8 117.4,353.4 118.6,354.0 119.9,354.5 121.1,355.1 122.4,355.6 123.6,356.2 124.9,356.7 126.2,357.2 127.4,357.6 128.7,358.1 129.9,358.5 131.2,359.0 132.4,359.4 133.7,359.8 134.9,360.2 136.2,360.6 137.5,361.0 138.7,361.4 140.0,361.7 141.2,362.1 142.5,362.4 143.7,362.8 145.0,363.1 146.2,363.4 147.5,363.7 148.8,364.1 150.0,364.4 151.3,364.6 152.5,364.9 153.8,365.2 155.0,365.4 156.3,365.7 157.5,365.9 158.8,366.1 160.1,366.3 161.3,366.5 162.6,366.7 163.8,366.9 165.1,367.0 166.3,367.2 167.6,367.4 168.8,367.5 170.1,367.7 171.3,367.8 172.6,367.9 173.9,368.0 175.2,368.1 176.4,368.2 177.7,368.3 179.0,368.4 180.3,368.4 181.6,368.4 182.9,368.4 184.2,368.4 185.5,368.4 186.8,368.4 188.2,368.3 189.5,368.2 190.8,368.1 192.1,368.0 193.4,367.9 194.7,367.8 195.9,367.7 197.2,367.5 198.4,367.4 199.7,367.2 200.9,367.0 202.2,366.9 203.4,366.7 204.7,366.5 205.9,366.3 207.2,366.1 208.5,365.9 209.7,365.7 211.0,365.4 212.2,365.2 213.5,364.9 214.7,364.6 216.0,364.4 217.2,364.1 218.5,363.7 219.8,363.4 221.0,363.1 222.3,362.8 223.5,362.4 224.8,362.1 226.0,361.7 227.3,361.4 228.5,361.0 229.8,360.6 231.1,360.2 232.3,359.8 233.6,359.4 234.8,359.0 236.1,358.5 237.3,358.1 238.6,357.6 239.8,357.2 241.1,356.7 242.4,356.2 243.6,355.6 244.9,355.1 246.1,354.5 247.4,354.0 248.6,353.4 249.9,352.8 251.1,352.1 252.4,351.5 253.7,350.9 254.9,350.2 256.2,349.5 257.5,348.7 258.8,348.0 260.1,347.2 261.4,346.5 262.6,345.8 263.7,345.1 264.8,344.4 265.8,343.8 266.7,343.3 267.6,342.7 268.5,342.1 269.4,341.5 270.3,340.8 271.2,340.1 272.2,339.2 273.2,338.3 274.1,337.4 275.1,336.4 276.0,335.4 277.0,334.4 277.9,333.4 278.8,332.5 279.6,331.7 280.4,330.8 281.2,330.0 282.0,329.2 282.8,328.4 283.5,327.6 284.3,326.9 285.1,326.2 285.8,325.7 286.6,325.2 287.4,324.7 288.2,324.3 289.0,323.9 289.8,323.5 290.5,323.0 291.3,322.5 292.1,321.9 292.9,321.4 293.7,320.9 294.5,320.3 295.3,319.7 296.1,319.0 296.9,318.3 297.6,317.5 298.3,316.6 299.0,315.6 299.6,314.6 300.3,313.5 300.9,312.4 301.5,311.2 302.1,310.0 302.6,308.7 303.2,307.3 303.7,305.8 304.2,304.2 304.6,302.6 305.1,301.0 305.5,299.3 306.0,297.7 306.4,296.1 306.8,294.5 307.2,293.0 307.6,291.4 308.0,289.8 308.4,288.3 308.7,286.7 309.1,285.1 309.4,283.6 309.7,282.0 310.0,280.4 310.3,278.7 310.5,277.1 310.8,275.5 311.0,274.0 311.2,272.4 311.4,271.0 311.6,269.6 311.7,268.3 311.9,267.0 312.0,265.8 312.1,264.6 312.2,263.4 312.3,262.2 312.4,261.0 334.0,250.9 334.0,471.9 315.9,471.9 315.9,470.1 315.8,468.4 315.7,466.7 315.6,465.0 315.5,463.2 315.4,461.4 315.3,459.3 315.2,457.1 315.1,454.6 314.9,451.8 314.8,448.9 314.6,445.8 314.4,442.8 314.3,439.8 314.1,436.9 313.9,434.2 313.8,431.8 313.6,429.5 313.5,427.4 313.3,425.3 313.2,423.2 313.0,421.1 312.9,418.9 312.7,416.7 312.5,414.2 312.3,411.8 312.1,409.2 311.9,406.6 311.7,404.0 311.4,401.5 311.2,399.0 310.9,396.6 310.6,394.2 310.4,391.9 310.1,389.6 309.8,387.3 309.4,385.1 309.1,383.0 308.8,380.9 308.4,379.0 308.0,377.2 307.7,375.4 307.3,373.8 306.9,372.2 306.4,370.7 306.0,369.3 305.6,367.8 305.1,366.4 304.7,365.0 304.2,363.7 303.8,362.3 303.3,361.0 302.8,359.8 302.3,358.6 301.8,357.4 301.4,356.4 300.9,355.4 300.4,354.5 300.0,353.6 299.5,352.8 299.0,352.0 298.6,351.3 298.1,350.7 297.6,350.1 297.1,349.6 296.7,349.1 296.3,348.7 295.8,348.4 295.3,348.1 294.9,347.9 294.4,347.7 293.8,347.6 293.3,347.6 292.7,347.6 292.1,347.7 291.5,347.9 290.8,348.1 290.2,348.4 289.5,348.6 288.8,348.9 288.1,349.1 287.3,349.4 286.6,349.8 285.8,350.1 285.0,350.5 284.1,350.8 283.3,351.1 282.5,351.4 281.8,351.6 281.0,351.8 280.2,352.0 279.5,352.1 278.7,352.3 277.9,352.4 277.1,352.5 276.3,352.6 275.4,352.7 274.5,352.8 273.5,352.8 272.6,352.8 271.6,352.9 270.6,352.9 269.7,353.0 268.7,353.1 267.8,353.3 266.8,353.5 265.9,353.7 265.0,354.0 264.0,354.2 263.1,354.5 262.1,354.8 261.2,355.1 260.3,355.5 259.4,355.8 258.5,356.2 257.6,356.7 256.7,357.1 255.7,357.5 254.7,358.0 253.7,358.4 252.5,358.8 251.3,359.3 250.1,359.8 248.8,360.2 247.5,360.7 246.2,361.2 244.9,361.7 243.6,362.2 242.4,362.6 241.1,363.1 239.8,363.6 238.6,364.1 237.3,364.6 236.1,365.0 234.8,365.5 233.6,365.9 232.3,366.3 231.1,366.7 229.8,367.1 228.5,367.5 227.3,367.9 226.0,368.2 224.8,368.6 223.5,368.9 222.3,369.3 221.0,369.6 219.8,370.0 218.5,370.3 217.2,370.6 216.0,370.9 214.7,371.2 213.5,371.5 212.2,371.7 211.0,371.9 209.7,372.1 208.5,372.3 207.2,372.5 205.9,372.6 204.7,372.8 203.4,373.0 202.2,373.1 200.9,373.3 199.7,373.4 198.4,373.5 197.2,373.7 195.9,373.8 194.7,373.9 193.4,374.0 192.1,374.0 190.8,374.1 189.5,374.1 188.2,374.2 186.8,374.2 185.5,374.2 184.2,374.2 182.9,374.2 181.6,374.2 180.3,374.2 179.0,374.2 177.7,374.2 176.4,374.1 175.2,374.1 173.9,374.0 172.6,374.0 171.3,373.9 170.1,373.8 168.8,373.7 167.6,373.5 166.3,373.4 165.1,373.3 163.8,373.1 162.6,373.0 161.3,372.8 160.1,372.6 158.8,372.5 157.5,372.3 156.3,372.1 155.0,371.9 153.8,371.7 152.5,371.5 151.3,371.2 150.0,370.9 148.8,370.6 147.5,370.3 146.2,370.0 145.0,369.6 143.7,369.3 142.5,368.9 141.2,368.6 140.0,368.2 138.7,367.9 137.5,367.5 136.2,367.1 134.9,366.7 133.7,366.3 132.4,365.9 131.2,365.5 129.9,365.0 128.7,364.6 127.4,364.1 126.2,363.6 124.9,363.1 123.6,362.6 122.4,362.2 121.1,361.7 119.8,361.2 118.5,360.7 117.2,360.2 115.9,359.8 114.7,359.3 113.5,358.8 112.3,358.4 111.3,358.0 110.3,357.5 109.3,357.1 108.4,356.7 107.5,356.2 106.6,355.8 105.7,355.5 104.8,355.1 103.9,354.8 102.9,354.5 102.0,354.2 101.0,354.0 100.1,353.7 99.2,353.5 98.2,353.3 97.3,353.1 96.3,353.0 95.4,352.9 94.4,352.9 93.4,352.8 92.5,352.8 91.5,352.8 90.6,352.7 89.7,352.6 88.9,352.5 88.1,352.4 87.3,352.3 86.5,352.1 85.8,352.0 85.0,351.8 84.2,351.6 83.5,351.4 82.7,351.1 81.9,350.8 81.0,350.5 80.2,350.1 79.4,349.8 78.7,349.4 77.9,349.1 77.2,348.9 76.5,348.6 75.8,348.4 75.2,348.1 74.5,347.9 73.9,347.7 73.3,347.6 72.7,347.6 72.2,347.6 71.6,347.7 71.1,347.9 70.7,348.1 70.2,348.4 69.7,348.7 69.3,349.1 68.9,349.6 68.4,350.1 67.9,350.7 67.4,351.3 67.0,352.0 66.5,352.8 66.0,353.6 65.6,354.5 65.1,355.4 64.6,356.4 64.2,357.4 63.7,358.6 63.2,359.8 62.7,361.0 62.2,362.3 61.8,363.7 61.3,365.0 60.9,366.4 60.4,367.8 60.0,369.3 59.6,370.7 59.1,372.2 58.7,373.8 58.3,375.4 58.0,377.2 57.6,379.0 57.2,380.9 56.9,383.0 56.6,385.1 56.2,387.3 55.9,389.6 55.6,391.9 55.4,394.2 55.1,396.6 54.8,399.0 54.6,401.5 54.3,404.0 54.1,406.6 53.9,409.2 53.7,411.8 53.5,414.2 53.3,416.7 53.1,418.9 53.0,421.1 52.8,423.2 52.7,425.3 52.5,427.4 52.4,429.5 52.2,431.8 52.1,434.2 51.9,436.9 51.7,439.8 51.6,442.8 51.4,445.8 51.2,448.9 51.1,451.8 50.9,454.6 50.8,457.1 50.7,459.3 50.6,461.4 50.5,463.2 50.4,465.0 50.3,466.7 50.2,468.4 50.1,470.1 50.1,471.9 32.0,471.9Z"/></defs>
<clipPath id="o2"><use href="#O2"/></clipPath>
<use href="#O2" fill="#fff"/>
<use href="#O2" fill="#ff7f0e" fill-opacity="0.54" stroke="#ff7f0e" stroke-opacity="0.22" stroke-width="0.9"/>
<g clip-path="url(#b2)"><use href="#H" clip-path="url(#o2)" stroke="#7d6a58" stroke-width="0.90" stroke-opacity="0.62" fill="none"/></g>
<path d="M37.1,271.90 H329.0 M37.1,308.86 H329.0 M37.1,345.82 H329.0 M37.1,382.78 H329.0 M37.1,419.74 H329.0 M37.1,456.70 H329.0 M39.15,271.9 V456.7 M87.11,271.9 V456.7 M135.07,271.9 V456.7 M183.03,271.9 V456.7 M230.99,271.9 V456.7 M278.95,271.9 V456.7 M326.91,271.9 V456.7" stroke="#c8c8c8" stroke-opacity="0.25" stroke-width="0.8" fill="none"/>
<path d="M37.1,382.78 H329.0" stroke="#1f77b4" stroke-width="1.3" stroke-dasharray="3.8 2.1" stroke-opacity="0.88" fill="none"/>
<path d="M38.0,363.3 38.0,357.1 38.0,350.7 38.0,344.3 38.1,337.9 38.1,331.7 38.1,325.6 38.1,319.9 38.2,314.6 38.3,309.7 38.4,305.0 38.5,300.5 38.6,296.4 38.7,292.4 38.8,288.8 39.0,285.4 39.1,282.2 39.2,279.4 39.4,277.0 39.5,274.9 39.7,273.1 39.8,271.4 40.0,269.7 40.1,267.9 40.3,266.0 40.5,269.0 40.7,272.1 41.0,275.1 41.2,278.1 41.4,281.2 41.6,284.2 41.8,287.3 42.0,290.3 42.3,293.4 42.4,296.6 42.6,299.9 42.8,303.2 43.0,306.3 43.2,309.3 43.4,312.1 43.7,314.6 44.0,316.7 44.3,318.6 44.6,320.1 45.0,321.6 45.3,322.9 45.6,324.3 46.0,325.9 46.3,327.6 46.6,329.5 46.9,331.6 47.2,333.7 47.5,335.9 47.8,338.0 48.1,340.3 48.4,342.4 48.7,344.6 48.9,343.8 49.0,342.9 49.2,342.1 49.4,341.3 49.5,340.4 49.7,339.6 49.9,338.9 50.2,338.2 50.5,337.6 50.8,337.0 51.1,336.4 51.4,335.9 51.8,335.4 52.2,335.0 52.6,334.5 53.1,334.1 53.6,333.7 54.2,333.3 54.8,333.0 55.5,332.7 56.1,332.4 56.8,332.1 57.4,331.9 57.9,331.7 58.4,331.5 58.8,331.4 59.1,331.3 59.4,331.3 59.8,331.3 60.2,331.3 60.6,331.3 61.2,331.3 61.9,331.3 62.6,331.4 63.4,331.5 64.2,331.6 65.1,331.7 66.0,331.8 66.9,332.0 67.7,332.2 68.5,332.4 69.3,332.7 70.1,333.0 71.0,333.4 71.8,333.7 72.6,334.1 73.4,334.5 74.2,334.9 75.0,335.3 75.8,335.8 76.5,336.2 77.3,336.7 78.1,337.2 78.9,337.6 79.7,338.1 80.6,338.6 81.5,339.1 82.4,339.5 83.4,340.0 84.4,340.4 85.4,340.9 86.4,341.3 87.5,341.9 88.5,342.4 89.6,343.0 90.7,343.6 91.8,344.3 92.9,345.0 94.0,345.7 95.1,346.4 96.2,347.0 97.3,347.6 98.3,348.1 99.2,348.6 100.2,349.1 101.1,349.6 102.0,350.0 103.0,350.5 103.9,350.9 104.8,351.4 105.7,351.8 106.6,352.3 107.5,352.8 108.4,353.2 109.3,353.7 110.3,354.2 111.3,354.6 112.3,355.1 113.5,355.6 114.7,356.2 115.9,356.7 117.2,357.3 118.5,357.8 119.8,358.4 121.1,358.9 122.4,359.4 123.6,359.9 124.9,360.4 126.2,360.9 127.4,361.4 128.7,361.8 129.9,362.3 131.2,362.7 132.4,363.2 133.7,363.6 134.9,364.0 136.2,364.4 137.5,364.8 138.7,365.1 140.0,365.5 141.2,365.8 142.5,366.2 143.7,366.5 145.0,366.8 146.2,367.1 147.5,367.4 148.8,367.7 150.0,367.9 151.3,368.2 152.5,368.4 153.8,368.7 155.0,368.9 156.3,369.1 157.5,369.3 158.8,369.5 160.1,369.6 161.3,369.8 162.6,369.9 163.8,370.1 165.1,370.2 166.3,370.4 167.6,370.5 168.8,370.6 170.1,370.7 171.3,370.9 172.6,370.9 173.9,371.0 175.2,371.1 176.4,371.2 177.7,371.3 179.0,371.4 180.3,371.4 181.6,371.4 182.9,371.5 184.2,371.4 185.5,371.4 186.8,371.4 188.2,371.3 189.5,371.2 190.8,371.1 192.1,371.0 193.4,370.9 194.7,370.9 195.9,370.7 197.2,370.6 198.4,370.5 199.7,370.4 200.9,370.2 202.2,370.1 203.4,369.9 204.7,369.8 205.9,369.6 207.2,369.5 208.5,369.3 209.7,369.1 211.0,368.9 212.2,368.7 213.5,368.4 214.7,368.2 216.0,367.9 217.2,367.7 218.5,367.4 219.8,367.1 221.0,366.8 222.3,366.5 223.5,366.2 224.8,365.8 226.0,365.5 227.3,365.1 228.5,364.8 229.8,364.4 231.1,364.0 232.3,363.6 233.6,363.2 234.8,362.7 236.1,362.3 237.3,361.8 238.6,361.4 239.8,360.9 241.1,360.4 242.4,359.9 243.6,359.4 244.9,358.9 246.2,358.4 247.5,357.8 248.8,357.3 250.1,356.7 251.3,356.2 252.5,355.6 253.7,355.1 254.7,354.6 255.7,354.2 256.7,353.7 257.6,353.2 258.5,352.8 259.4,352.3 260.3,351.8 261.2,351.4 262.1,350.9 263.0,350.5 264.0,350.0 264.9,349.6 265.8,349.1 266.8,348.6 267.7,348.1 268.7,347.6 269.8,347.0 270.9,346.4 272.0,345.7 273.1,345.0 274.2,344.3 275.3,343.6 276.4,343.0 277.5,342.4 278.5,341.9 279.6,341.3 280.6,340.9 281.6,340.4 282.6,340.0 283.6,339.5 284.5,339.1 285.4,338.6 286.3,338.1 287.1,337.6 287.9,337.2 288.7,336.7 289.5,336.2 290.2,335.8 291.0,335.3 291.8,334.9 292.6,334.5 293.4,334.1 294.2,333.7 295.0,333.4 295.9,333.0 296.7,332.7 297.5,332.4 298.3,332.2 299.1,332.0 300.0,331.8 300.9,331.7 301.8,331.6 302.6,331.5 303.4,331.4 304.1,331.3 304.8,331.3 305.4,331.3 305.8,331.3 306.2,331.3 306.6,331.3 306.9,331.3 307.2,331.4 307.6,331.5 308.1,331.7 308.6,331.9 309.2,332.1 309.9,332.4 310.5,332.7 311.2,333.0 311.8,333.3 312.4,333.7 312.9,334.1 313.4,334.5 313.8,335.0 314.2,335.4 314.6,335.9 314.9,336.4 315.2,337.0 315.5,337.6 315.8,338.2 316.1,338.9 316.3,339.6 316.5,340.4 316.6,341.3 316.8,342.1 317.0,342.9 317.1,343.8 317.3,344.6 317.6,342.4 317.9,340.3 318.2,338.0 318.5,335.9 318.8,333.7 319.1,331.6 319.4,329.5 319.7,327.6 320.0,325.9 320.4,324.3 320.7,322.9 321.0,321.6 321.4,320.1 321.7,318.6 322.0,316.7 322.3,314.6 322.6,312.1 322.8,309.3 323.0,306.3 323.2,303.2 323.4,299.9 323.6,296.6 323.7,293.4 323.9,290.3 324.2,287.3 324.4,284.2 324.6,281.2 324.8,278.1 325.0,275.1 325.3,272.1 325.5,269.0 325.7,266.0 325.9,267.9 326.0,269.7 326.2,271.4 326.3,273.1 326.5,274.9 326.6,277.0 326.8,279.4 326.9,282.2 327.0,285.4 327.2,288.8 327.3,292.4 327.4,296.4 327.5,300.5 327.6,305.0 327.7,309.7 327.8,314.6 327.9,319.9 327.9,325.6 327.9,331.7 327.9,337.9 328.0,344.3 328.0,350.7 328.0,357.1 328.0,363.3" stroke="#ff7f0e" stroke-width="1.45" stroke-dasharray="5.9 2.7" fill="none" stroke-linejoin="round"/>
</g>
<path d="M37.1,456.70 H329.3" stroke="#555" stroke-width="1.8" fill="none"/>
<path d="M33.0,466.6 h6.0" stroke="#555" stroke-width="0.9" fill="none"/>
<text x="40.4" y="469.2" font-size="9.6" fill="#2e2e2e">6</text>
<path d="M81.0,466.6 h6.0" stroke="#555" stroke-width="0.9" fill="none"/>
<text x="88.4" y="469.2" font-size="9.6" fill="#2e2e2e">4</text>
<path d="M129.0,466.6 h6.0" stroke="#555" stroke-width="0.9" fill="none"/>
<text x="136.4" y="469.2" font-size="9.6" fill="#2e2e2e">2</text>
<text x="183.0" y="469.2" font-size="9.6" text-anchor="middle" fill="#2e2e2e">0</text>
<text x="231.0" y="469.2" font-size="9.6" text-anchor="middle" fill="#2e2e2e">2</text>
<text x="278.9" y="469.2" font-size="9.6" text-anchor="middle" fill="#2e2e2e">4</text>
<text x="326.9" y="469.2" font-size="9.6" text-anchor="middle" fill="#2e2e2e">6</text>
<path d="M39.15,456.7 v-5.2 M87.11,456.7 v-5.2 M135.07,456.7 v-5.2 M183.03,456.7 v-5.2 M230.99,456.7 v-5.2 M278.95,456.7 v-5.2 M326.91,456.7 v-5.2" stroke="#484848" stroke-width="1.4" stroke-opacity="0.22" fill="none"/>
<rect x="134.5" y="427.8" width="96" height="24.6" fill="#f3f3f3" fill-opacity="0.85"/>
<path d="M138.60,430.50 l6.30,6.30 M144.60,430.50 l6.30,6.30 M150.60,430.50 l6.30,6.30 M156.60,430.50 l6.30,6.30 M162.60,430.50 l6.30,6.30 M168.60,430.50 l2.40,2.40" stroke="#1f77b4" stroke-width="1.35" stroke-opacity="0.95" fill="none"/>
<path d="M140.0,434.1 h30.5" stroke="#1f77b4" stroke-width="1.1" stroke-dasharray="3.3 2.7" fill="none"/>
<rect x="138.1" y="442.0" width="32.8" height="5.8" fill="#ff7f0e" fill-opacity="0.54"/>
<path d="M140.0,444.9 h30.0" stroke="#ff7f0e" stroke-width="1.25" stroke-dasharray="6.4 2.6" fill="none"/>
<text x="177.6" y="436.7" font-size="8.2" fill="#2e2e2e" textLength="23.1" lengthAdjust="spacingAndGlyphs">NNLO</text>
<text x="177.6" y="448.2" font-size="8.2" fill="#2e2e2e" textLength="51.1" lengthAdjust="spacingAndGlyphs">NNLO+NLL<tspan font-style="italic">x</tspan></text>
<text x="30.6" y="274.5" font-size="9.5" text-anchor="end" fill="#2e2e2e">1.6</text>
<text x="30.6" y="311.5" font-size="9.5" text-anchor="end" fill="#2e2e2e">1.4</text>
<text x="30.6" y="348.4" font-size="9.5" text-anchor="end" fill="#2e2e2e">1.2</text>
<text x="30.6" y="385.4" font-size="9.5" text-anchor="end" fill="#2e2e2e">1.0</text>
<text x="30.6" y="422.3" font-size="9.5" text-anchor="end" fill="#2e2e2e">0.8</text>
<text x="30.6" y="459.3" font-size="9.5" text-anchor="end" fill="#2e2e2e">0.6</text>
<text x="183.8" y="484.4" font-size="9.6" font-style="italic" text-anchor="middle" fill="#2e2e2e">y</text>
<text transform="translate(7.5,364.7) rotate(-90)" font-size="8.9" text-anchor="middle" fill="#2e2e2e" textLength="124" lengthAdjust="spacingAndGlyphs">(<tspan font-style="italic">d</tspan><tspan font-family="Liberation Serif" font-style="italic" font-size="10.2">L</tspan><tspan font-size="7.2" dy="1.7" font-style="italic">gg</tspan><tspan dy="-1.7"> / </tspan><tspan font-style="italic">dy</tspan>) / (<tspan font-style="italic">d</tspan><tspan font-family="Liberation Serif" font-style="italic" font-size="10.2">L</tspan><tspan font-size="7.2" dy="1.7" font-style="italic">gg</tspan><tspan dy="-1.7"> / </tspan><tspan font-style="italic">dy</tspan>) [ref]</text>
<text x="72.1" y="262.8" font-size="10.7" fill="#2e2e2e" textLength="67.5" lengthAdjust="spacingAndGlyphs">NNPDF31sx,</text>
<text x="144.8" y="262.8" font-size="10.7" fill="#2e2e2e" textLength="22.8" lengthAdjust="spacingAndGlyphs">LHC</text>
<text x="173.4" y="262.8" font-size="10.7" fill="#2e2e2e" textLength="11.1" lengthAdjust="spacingAndGlyphs">13</text>
<text x="190.6" y="262.8" font-size="10.7" fill="#2e2e2e" textLength="23.7" lengthAdjust="spacingAndGlyphs">TeV,</text>
<text x="220.7" y="262.8" font-size="10.7" font-style="italic" fill="#2e2e2e" textLength="10.2" lengthAdjust="spacingAndGlyphs">M</text>
<text x="231.2" y="264.7" font-size="7.8" font-style="italic" fill="#2e2e2e" textLength="5.7" lengthAdjust="spacingAndGlyphs">X</text>
<text x="241.4" y="262.8" font-size="10.7" fill="#2e2e2e" textLength="8.8" lengthAdjust="spacingAndGlyphs">=</text>
<text x="254.6" y="262.8" font-size="10.7" fill="#2e2e2e" textLength="11.3" lengthAdjust="spacingAndGlyphs">30</text>
<text x="272.1" y="262.8" font-size="10.7" fill="#2e2e2e" textLength="20.1" lengthAdjust="spacingAndGlyphs">GeV</text>
<clipPath id="c3"><rect x="392.1" y="271.9" width="292.2" height="184.8"/></clipPath>
<path d="M392.1,271.90 H684.0 M392.1,308.86 H684.0 M392.1,345.82 H684.0 M392.1,382.78 H684.0 M392.1,419.74 H684.0 M392.1,456.70 H684.0 M394.33,271.9 V456.7 M442.23,271.9 V456.7 M490.13,271.9 V456.7 M538.03,271.9 V456.7 M585.93,271.9 V456.7 M633.83,271.9 V456.7 M681.73,271.9 V456.7" stroke="#e4e4e4" stroke-width="1.3" fill="none"/>
<path d="M394.33,456.7 v-5.2 M442.23,456.7 v-5.2 M490.13,456.7 v-5.2 M538.03,456.7 v-5.2 M585.93,456.7 v-5.2 M633.83,456.7 v-5.2 M681.73,456.7 v-5.2" stroke="#484848" stroke-width="1.4" fill="none"/>
<g clip-path="url(#c3)">
<defs><path id="B3" d="M380.0,240.0 417.8,255.0 417.8,256.9 417.8,258.6 417.8,260.1 417.8,261.7 417.8,263.5 417.9,265.7 417.9,268.4 418.0,271.7 418.1,275.9 418.3,280.8 418.4,286.3 418.6,292.2 418.8,298.1 419.0,304.0 419.3,309.6 419.6,314.6 419.9,319.3 420.3,323.8 420.7,328.2 421.2,332.4 421.6,336.4 422.1,340.2 422.5,343.8 422.9,347.0 423.3,349.9 423.6,352.3 423.9,354.5 424.2,356.5 424.6,358.3 424.9,360.1 425.2,362.0 425.5,364.0 426.1,364.6 426.6,365.3 427.1,366.0 427.7,366.7 428.2,367.3 428.8,367.9 429.4,368.5 430.0,369.0 430.7,369.4 431.4,369.8 432.1,370.2 432.9,370.5 433.7,370.8 434.5,371.0 435.2,371.3 436.0,371.5 436.7,371.7 437.4,371.9 438.1,372.1 438.7,372.2 439.4,372.3 440.2,372.5 441.0,372.6 442.0,372.8 443.1,373.0 444.3,373.2 445.5,373.4 446.9,373.6 448.2,373.8 449.6,374.1 451.0,374.3 452.3,374.5 453.5,374.7 454.8,374.9 456.1,375.1 457.3,375.3 458.6,375.5 459.8,375.6 461.1,375.8 462.3,376.0 463.6,376.1 464.8,376.3 466.1,376.4 467.3,376.5 468.6,376.6 469.9,376.8 471.1,376.9 472.4,377.0 473.6,377.1 474.9,377.2 476.1,377.3 477.4,377.4 478.6,377.5 479.9,377.5 481.2,377.6 482.4,377.7 483.6,377.8 484.9,377.9 486.1,378.0 487.3,378.1 488.5,378.2 489.8,378.3 491.1,378.4 492.5,378.5 493.9,378.6 495.4,378.6 497.0,378.7 498.6,378.8 500.2,378.8 501.8,378.9 503.4,378.9 505.0,379.0 506.6,379.0 508.2,379.1 509.8,379.1 511.4,379.1 513.0,379.2 514.6,379.2 516.1,379.2 517.6,379.2 518.9,379.3 520.2,379.3 521.5,379.3 522.7,379.3 523.8,379.3 525.1,379.3 526.3,379.4 527.6,379.4 528.9,379.4 530.1,379.4 531.2,379.4 532.4,379.4 533.7,379.4 535.2,379.4 537.0,379.4 539.1,379.4 541.7,379.3 544.7,379.2 548.1,379.1 551.6,379.0 555.1,378.9 558.5,378.7 561.6,378.6 564.2,378.5 566.4,378.4 568.2,378.2 569.9,378.1 571.3,378.0 572.6,377.9 573.9,377.7 575.3,377.6 576.8,377.5 578.4,377.4 579.9,377.2 581.5,377.1 583.1,377.0 584.6,376.8 586.2,376.7 587.8,376.6 589.3,376.5 590.9,376.4 592.5,376.3 594.0,376.2 595.6,376.1 597.2,376.0 598.8,375.9 600.3,375.8 601.9,375.7 603.5,375.6 605.0,375.5 606.6,375.4 608.2,375.2 609.7,375.1 611.3,375.0 612.9,374.8 614.5,374.7 616.0,374.6 617.6,374.5 619.2,374.4 620.7,374.2 622.3,374.1 623.9,374.0 625.4,373.8 627.0,373.7 628.6,373.6 630.1,373.4 631.7,373.3 633.3,373.1 634.9,372.9 636.4,372.8 638.0,372.6 639.6,372.5 641.2,372.3 642.8,372.1 644.4,372.0 646.0,371.8 647.6,371.6 649.2,371.5 650.7,371.3 652.1,371.2 653.5,371.1 654.9,371.1 656.3,371.0 657.6,371.0 658.9,370.9 660.1,370.9 661.2,370.7 662.2,370.4 663.0,370.2 663.8,370.0 664.5,369.9 665.1,369.6 665.6,369.3 666.1,368.6 666.7,367.7 667.2,366.4 667.7,364.8 668.2,362.9 668.7,360.8 669.2,358.5 669.6,355.9 670.0,353.0 670.5,349.8 671.0,346.3 671.4,342.5 671.9,338.2 672.4,333.5 672.9,328.6 673.4,323.6 673.9,318.5 674.3,313.5 674.7,308.7 675.1,303.8 675.5,298.6 675.8,293.3 676.2,288.1 676.5,283.1 676.8,278.5 677.0,274.4 677.2,271.0 677.4,268.4 677.5,266.5 677.6,265.2 677.7,264.3 677.8,263.5 677.8,262.8 677.9,262.0 678.0,261.0 694.8,250.9 694.8,471.9 677.0,471.9 676.9,470.0 676.8,468.1 676.7,466.1 676.6,464.2 676.5,462.3 676.4,460.5 676.3,458.7 676.2,457.1 676.1,455.6 676.0,454.3 675.9,453.1 675.8,452.0 675.7,450.8 675.5,449.6 675.4,448.3 675.2,446.8 675.0,445.2 674.9,443.4 674.7,441.6 674.4,439.7 674.2,437.8 674.0,435.8 673.7,433.8 673.5,431.7 673.2,429.6 672.9,427.4 672.6,425.0 672.3,422.7 672.0,420.4 671.7,418.2 671.3,416.1 671.0,414.1 670.6,412.4 670.1,410.7 669.7,409.2 669.2,407.8 668.7,406.4 668.2,405.1 667.7,403.9 667.2,402.8 666.7,401.8 666.1,400.9 665.6,400.2 665.1,399.4 664.5,398.8 663.8,398.2 663.0,397.6 662.2,397.1 661.2,396.5 660.1,396.1 658.9,395.7 657.6,395.3 656.3,395.0 654.9,394.7 653.5,394.4 652.1,394.1 650.7,393.8 649.2,393.5 647.6,393.3 646.0,393.1 644.4,392.9 642.8,392.7 641.2,392.5 639.6,392.3 638.0,392.1 636.4,391.9 634.9,391.8 633.3,391.6 631.7,391.5 630.1,391.3 628.6,391.2 627.0,391.0 625.4,390.9 623.9,390.8 622.3,390.6 620.7,390.5 619.2,390.4 617.6,390.3 616.0,390.1 614.5,390.0 612.9,389.9 611.3,389.8 609.7,389.7 608.2,389.6 606.6,389.6 605.0,389.5 603.5,389.4 601.9,389.3 600.3,389.2 598.8,389.1 597.2,389.0 595.6,388.9 594.0,388.8 592.5,388.7 590.9,388.6 589.3,388.5 587.8,388.4 586.2,388.3 584.6,388.2 583.1,388.1 581.5,388.0 579.9,387.9 578.4,387.9 576.8,387.8 575.3,387.7 573.9,387.6 572.6,387.6 571.3,387.5 569.9,387.4 568.2,387.4 566.4,387.3 564.2,387.3 561.6,387.2 558.5,387.2 555.1,387.2 551.6,387.2 548.1,387.2 544.7,387.2 541.7,387.2 539.1,387.1 537.0,387.1 535.2,387.1 533.7,387.1 532.4,387.1 531.2,387.1 530.1,387.1 528.9,387.1 527.6,387.1 526.3,387.1 525.0,387.1 523.7,387.1 522.5,387.1 521.3,387.1 520.0,387.1 518.8,387.1 517.6,387.1 516.3,387.2 515.1,387.2 513.8,387.2 512.5,387.2 511.3,387.2 510.0,387.2 508.8,387.3 507.5,387.3 506.3,387.3 505.0,387.3 503.8,387.3 502.5,387.3 501.2,387.3 500.0,387.3 498.7,387.4 497.5,387.4 496.2,387.4 495.0,387.5 493.7,387.5 492.5,387.6 491.2,387.6 489.9,387.7 488.7,387.7 487.4,387.8 486.2,387.8 484.9,387.9 483.7,387.9 482.4,388.0 481.2,388.1 479.9,388.1 478.6,388.2 477.4,388.3 476.1,388.4 474.9,388.4 473.6,388.5 472.4,388.6 471.1,388.7 469.9,388.8 468.6,388.9 467.3,389.0 466.1,389.1 464.8,389.3 463.5,389.4 462.2,389.5 460.9,389.6 459.6,389.8 458.4,389.9 457.3,390.0 456.2,390.2 455.2,390.3 454.3,390.4 453.4,390.5 452.5,390.6 451.6,390.8 450.7,390.9 449.8,391.0 448.8,391.2 447.9,391.3 446.9,391.5 446.0,391.6 445.1,391.8 444.1,391.9 443.2,392.1 442.2,392.3 441.3,392.5 440.3,392.7 439.3,392.9 438.3,393.1 437.3,393.3 436.4,393.5 435.5,393.8 434.7,394.1 433.9,394.3 433.2,394.6 432.6,394.8 431.9,395.1 431.4,395.4 430.8,395.7 430.2,396.1 429.7,396.6 429.1,397.0 428.6,397.5 428.1,398.0 427.7,398.6 427.2,399.2 426.8,399.9 426.3,400.7 425.9,401.6 425.5,402.6 425.0,403.6 424.6,404.8 424.2,406.0 423.8,407.3 423.4,408.7 423.0,410.1 422.6,411.6 422.3,413.3 421.9,415.0 421.6,416.9 421.3,418.9 421.0,420.8 420.7,422.8 420.4,424.8 420.1,426.7 419.9,428.6 419.6,430.5 419.4,432.3 419.2,434.2 419.0,436.1 418.8,438.0 418.6,439.9 418.4,441.8 418.2,443.7 418.0,445.6 417.8,447.5 417.7,449.4 417.5,451.4 417.4,453.3 417.2,455.2 417.1,457.1 417.0,459.0 416.9,460.8 416.9,462.7 416.8,464.5 416.8,466.4 416.7,468.2 416.7,470.1 416.6,471.9 387.0,471.9Z"/></defs>
<clipPath id="b3"><use href="#B3"/></clipPath>
<use href="#H" clip-path="url(#b3)" stroke="#1f77b4" stroke-width="1.15" stroke-opacity="0.92" fill="none"/>
<use href="#B3" fill="none" stroke="#1f77b4" stroke-opacity="0.35" stroke-width="0.8"/>
<defs><path id="O3" d="M387.0,250.9 417.6,261.0 417.7,262.2 417.8,263.3 417.9,264.5 418.0,265.7 418.0,266.9 418.1,268.1 418.3,269.5 418.4,271.0 418.5,272.6 418.6,274.4 418.8,276.2 418.9,278.1 419.1,280.0 419.2,282.0 419.4,284.0 419.6,286.1 419.8,288.2 420.1,290.3 420.3,292.6 420.5,294.9 420.8,297.1 421.0,299.4 421.3,301.6 421.6,303.6 422.0,305.7 422.3,307.7 422.7,309.6 423.0,311.6 423.4,313.5 423.8,315.3 424.2,317.0 424.6,318.7 425.1,320.3 425.5,321.8 425.9,323.3 426.4,324.7 426.9,326.0 427.4,327.4 427.9,328.7 428.4,330.0 429.0,331.3 429.6,332.7 430.2,334.0 430.8,335.3 431.4,336.5 432.1,337.8 432.7,338.9 433.4,340.1 434.2,341.1 434.9,342.2 435.6,343.1 436.4,344.1 437.2,345.0 438.0,345.9 438.9,346.7 439.7,347.6 440.6,348.4 441.5,349.3 442.3,350.1 443.2,350.9 444.2,351.6 445.2,352.4 446.2,353.1 447.2,353.9 448.4,354.6 449.6,355.3 450.8,356.1 452.1,356.8 453.4,357.5 454.7,358.1 456.0,358.8 457.3,359.4 458.5,360.0 459.8,360.5 461.1,361.0 462.3,361.5 463.6,362.0 464.8,362.5 466.1,362.9 467.3,363.4 468.6,363.9 469.9,364.3 471.1,364.8 472.4,365.2 473.6,365.7 474.9,366.1 476.1,366.5 477.4,366.9 478.6,367.3 479.9,367.7 481.2,368.1 482.4,368.5 483.7,368.9 484.9,369.2 486.2,369.6 487.4,369.9 488.7,370.3 489.9,370.6 491.2,370.9 492.5,371.3 493.7,371.6 495.0,371.9 496.2,372.2 497.5,372.5 498.7,372.7 500.0,373.0 501.2,373.3 502.5,373.5 503.8,373.8 505.0,374.0 506.3,374.2 507.5,374.5 508.8,374.7 510.0,374.9 511.3,375.1 512.5,375.3 513.8,375.5 515.1,375.7 516.3,375.8 517.6,376.0 518.8,376.1 520.1,376.2 521.3,376.3 522.5,376.4 523.8,376.5 525.0,376.6 526.3,376.6 527.6,376.7 528.9,376.8 530.2,376.9 531.5,377.0 532.8,377.1 534.1,377.1 535.5,377.2 536.9,377.2 538.4,377.2 539.9,377.2 541.5,377.2 543.2,377.1 544.9,377.0 546.6,376.9 548.3,376.8 550.0,376.7 551.7,376.5 553.3,376.2 554.9,376.0 556.4,375.7 558.0,375.4 559.6,375.0 561.1,374.7 562.7,374.3 564.2,374.0 565.8,373.6 567.4,373.2 568.9,372.8 570.5,372.4 572.1,371.9 573.6,371.5 575.2,371.1 576.8,370.7 578.4,370.3 579.9,369.9 581.5,369.6 583.1,369.2 584.6,368.8 586.2,368.4 587.8,368.1 589.3,367.7 590.9,367.3 592.5,367.0 594.0,366.6 595.6,366.3 597.2,365.9 598.8,365.5 600.3,365.1 601.9,364.7 603.5,364.2 605.0,363.7 606.6,363.1 608.2,362.5 609.7,361.9 611.3,361.4 612.9,360.8 614.5,360.2 616.0,359.6 617.6,358.9 619.2,358.3 620.7,357.7 622.3,357.1 623.9,356.4 625.4,355.8 627.0,355.1 628.6,354.5 630.1,353.8 631.7,353.2 633.3,352.5 634.9,351.8 636.4,351.1 638.0,350.4 639.6,349.6 641.2,348.8 642.8,348.0 644.4,347.1 646.0,346.2 647.6,345.3 649.2,344.4 650.7,343.5 652.1,342.6 653.5,341.7 654.9,340.7 656.2,339.8 657.5,338.8 658.8,337.9 660.0,336.9 661.1,336.0 662.2,335.0 663.1,334.1 664.1,333.2 664.9,332.4 665.7,331.5 666.4,330.6 667.1,329.7 667.8,328.6 668.4,327.5 669.0,326.3 669.6,325.0 670.1,323.7 670.6,322.3 671.0,320.9 671.5,319.4 671.8,317.8 672.2,316.2 672.6,314.5 672.9,312.8 673.1,310.9 673.4,309.1 673.6,307.1 673.8,305.2 674.0,303.2 674.2,301.1 674.4,299.0 674.6,296.8 674.8,294.5 674.9,292.2 675.1,289.9 675.2,287.7 675.3,285.5 675.5,283.6 675.6,281.7 675.7,280.0 675.8,278.4 675.9,276.8 676.0,275.3 676.1,273.8 676.1,272.4 676.2,271.0 676.3,269.6 676.4,268.3 676.5,267.0 676.6,265.8 676.7,264.6 676.8,263.4 676.9,262.2 677.0,261.0 694.8,250.9 700.0,480.0 676.8,470.0 676.7,468.4 676.7,466.8 676.6,465.3 676.5,463.7 676.4,462.1 676.4,460.5 676.3,458.8 676.2,457.0 676.1,455.1 676.0,453.2 675.9,451.2 675.9,449.2 675.8,447.1 675.7,445.1 675.6,443.0 675.5,441.0 675.4,439.0 675.3,437.0 675.2,435.0 675.2,432.9 675.1,430.9 675.0,428.9 674.9,427.0 674.8,425.0 674.7,423.1 674.6,421.3 674.5,419.5 674.4,417.8 674.3,415.9 674.2,414.1 674.1,412.1 674.0,410.0 673.9,407.7 673.7,405.1 673.6,402.3 673.4,399.6 673.3,396.8 673.1,394.3 673.0,392.0 672.8,390.0 672.6,388.4 672.5,387.1 672.4,386.0 672.2,385.1 672.0,384.3 671.9,383.5 671.7,382.8 671.5,382.0 671.3,381.2 671.1,380.4 670.8,379.7 670.6,379.0 670.3,378.4 670.1,377.7 669.8,377.1 669.5,376.5 669.2,375.9 668.9,375.3 668.6,374.6 668.3,374.0 668.0,373.5 667.7,372.9 667.3,372.4 667.0,372.0 666.7,371.6 666.3,371.2 666.0,370.9 665.6,370.6 665.2,370.3 664.8,370.1 664.4,369.9 664.0,369.8 663.6,369.7 663.2,369.7 662.7,369.8 662.3,369.9 661.8,370.0 661.3,370.1 660.7,370.2 660.0,370.3 659.2,370.3 658.4,370.4 657.5,370.4 656.6,370.5 655.6,370.5 654.5,370.5 653.4,370.6 652.1,370.7 650.8,370.8 649.3,370.9 647.8,371.1 646.1,371.3 644.5,371.4 642.8,371.6 641.2,371.8 639.6,372.0 638.0,372.1 636.4,372.3 634.9,372.5 633.3,372.7 631.7,372.9 630.1,373.1 628.6,373.3 627.0,373.5 625.4,373.6 623.9,373.7 622.3,373.7 620.7,373.8 619.2,373.9 617.6,373.9 616.0,374.1 614.5,374.2 612.9,374.4 611.3,374.6 609.7,374.9 608.2,375.1 606.6,375.4 605.0,375.7 603.5,376.0 601.9,376.3 600.3,376.7 598.8,377.0 597.2,377.4 595.6,377.8 594.0,378.2 592.5,378.6 590.9,379.0 589.3,379.4 587.8,379.7 586.2,380.1 584.6,380.5 583.1,380.9 581.5,381.3 579.9,381.7 578.4,382.1 576.8,382.5 575.2,382.9 573.6,383.3 572.1,383.7 570.5,384.1 568.9,384.5 567.4,384.9 565.8,385.2 564.2,385.5 562.7,385.8 561.1,386.1 559.6,386.3 558.0,386.5 556.4,386.8 554.9,386.9 553.3,387.1 551.7,387.3 550.0,387.4 548.3,387.5 546.6,387.6 544.9,387.7 543.2,387.8 541.5,387.8 539.9,387.9 538.4,387.9 536.9,387.9 535.5,388.0 534.1,388.0 532.8,388.0 531.5,388.0 530.2,388.0 528.9,387.9 527.6,387.9 526.3,387.9 525.0,387.8 523.8,387.8 522.5,387.7 521.3,387.6 520.1,387.6 518.8,387.5 517.6,387.4 516.3,387.3 515.1,387.2 513.8,387.1 512.5,387.0 511.3,386.9 510.0,386.8 508.8,386.7 507.5,386.5 506.3,386.4 505.0,386.2 503.8,386.1 502.5,385.9 501.2,385.8 500.0,385.6 498.7,385.4 497.5,385.3 496.2,385.1 495.0,384.9 493.7,384.8 492.5,384.6 491.2,384.4 489.9,384.2 488.7,384.0 487.4,383.8 486.2,383.5 484.9,383.1 483.7,382.8 482.4,382.4 481.2,382.0 479.9,381.7 478.6,381.3 477.4,381.0 476.1,380.7 474.9,380.4 473.6,380.1 472.4,379.9 471.1,379.6 469.9,379.3 468.6,379.0 467.3,378.7 466.1,378.4 464.8,378.0 463.5,377.6 462.2,377.2 460.9,376.8 459.6,376.4 458.4,376.1 457.3,375.7 456.2,375.4 455.2,375.1 454.3,374.8 453.4,374.6 452.5,374.3 451.6,374.1 450.7,373.9 449.8,373.7 448.8,373.5 447.8,373.4 446.8,373.3 445.8,373.1 444.9,373.1 443.9,373.0 443.0,373.0 442.2,373.0 441.5,373.0 440.8,373.1 440.2,373.1 439.6,373.3 439.0,373.4 438.4,373.6 437.8,373.8 437.2,374.0 436.6,374.2 435.9,374.5 435.3,374.7 434.7,375.0 434.1,375.4 433.4,375.7 432.8,376.1 432.2,376.5 431.5,376.9 430.9,377.3 430.2,377.7 429.6,378.2 428.9,378.7 428.3,379.2 427.7,379.7 427.2,380.2 426.6,380.8 426.1,381.3 425.6,381.9 425.1,382.4 424.7,383.0 424.2,383.7 423.8,384.4 423.4,385.3 423.0,386.1 422.7,387.0 422.3,387.9 422.0,388.9 421.7,389.9 421.4,391.2 421.1,392.5 420.9,394.1 420.6,395.8 420.4,397.7 420.1,399.8 419.9,402.0 419.7,404.3 419.5,406.7 419.3,409.1 419.1,411.6 418.9,414.2 418.8,416.9 418.6,419.7 418.4,422.6 418.3,425.5 418.1,428.4 418.0,431.4 417.9,434.2 417.7,437.1 417.6,440.1 417.5,443.1 417.4,446.1 417.4,449.1 417.3,451.9 417.2,454.6 417.1,457.1 417.0,459.3 417.0,461.4 416.9,463.2 416.8,465.0 416.8,466.7 416.7,468.4 416.7,470.1 416.6,471.9 387.0,471.9Z"/></defs>
<clipPath id="o3"><use href="#O3"/></clipPath>
<use href="#O3" fill="#fff"/>
<use href="#O3" fill="#ff7f0e" fill-opacity="0.54" stroke="#ff7f0e" stroke-opacity="0.22" stroke-width="0.9"/>
<g clip-path="url(#b3)"><use href="#H" clip-path="url(#o3)" stroke="#7d6a58" stroke-width="0.90" stroke-opacity="0.62" fill="none"/></g>
<path d="M392.1,271.90 H684.0 M392.1,308.86 H684.0 M392.1,345.82 H684.0 M392.1,382.78 H684.0 M392.1,419.74 H684.0 M392.1,456.70 H684.0 M394.33,271.9 V456.7 M442.23,271.9 V456.7 M490.13,271.9 V456.7 M538.03,271.9 V456.7 M585.93,271.9 V456.7 M633.83,271.9 V456.7 M681.73,271.9 V456.7" stroke="#c8c8c8" stroke-opacity="0.25" stroke-width="0.8" fill="none"/>
<path d="M392.1,382.78 H684.0" stroke="#1f77b4" stroke-width="1.3" stroke-dasharray="3.8 2.1" stroke-opacity="0.88" fill="none"/>
<path d="M393.4,298.4 394.6,272.4 403.3,272.4 403.4,275.7 403.5,278.9 403.6,282.2 403.8,285.5 403.9,288.8 404.0,292.0 404.1,295.2 404.2,298.4 404.3,301.5 404.4,304.6 404.5,307.7 404.6,310.7 404.6,313.7 404.7,316.7 404.9,319.8 405.0,322.8 405.2,325.9 405.3,329.1 405.5,332.2 405.6,335.4 405.8,338.5 406.1,341.5 406.3,344.4 406.6,347.1 406.9,349.6 407.3,351.9 407.7,354.0 408.1,356.1 408.6,358.0 409.0,360.0 409.5,362.0 409.9,364.1 410.3,362.8 410.7,361.4 411.1,360.0 411.5,358.7 411.9,357.3 412.3,356.0 412.7,354.8 413.1,353.6 413.5,352.5 413.9,351.4 414.3,350.3 414.7,349.3 415.1,348.4 415.5,347.5 416.0,346.8 416.4,346.3 416.9,345.9 417.3,345.7 417.8,345.6 418.3,345.6 418.9,345.7 419.4,345.8 419.9,346.1 420.4,346.3 420.9,346.6 421.4,347.0 421.9,347.5 422.3,348.0 422.8,348.6 423.4,349.1 423.9,349.7 424.5,350.3 425.1,350.9 425.8,351.5 426.5,352.1 427.2,352.7 427.9,353.4 428.7,354.0 429.4,354.6 430.2,355.2 431.0,355.8 431.7,356.3 432.5,356.8 433.4,357.3 434.2,357.8 435.0,358.3 435.8,358.8 436.6,359.2 437.4,359.6 438.3,360.0 439.1,360.3 439.9,360.6 440.8,360.9 441.6,361.2 442.4,361.5 443.1,361.7 443.8,361.9 444.3,362.1 444.9,362.2 445.4,362.3 445.9,362.4 446.5,362.6 447.2,362.8 448.0,363.0 448.9,363.3 450.0,363.6 451.1,364.0 452.3,364.4 453.6,364.8 454.8,365.2 456.1,365.5 457.3,365.9 458.5,366.3 459.8,366.7 461.0,367.1 462.3,367.5 463.5,367.8 464.8,368.2 466.1,368.6 467.3,368.9 468.6,369.3 469.9,369.6 471.1,369.9 472.4,370.2 473.6,370.5 474.9,370.8 476.1,371.1 477.4,371.5 478.6,371.8 479.9,372.1 481.2,372.4 482.4,372.7 483.7,373.0 484.9,373.3 486.2,373.6 487.4,374.0 488.7,374.3 489.9,374.6 491.2,374.9 492.5,375.3 493.7,375.6 495.0,375.9 496.2,376.2 497.5,376.5 498.7,376.8 500.0,377.0 501.2,377.3 502.5,377.5 503.8,377.8 505.0,378.0 506.3,378.2 507.5,378.5 508.8,378.7 510.0,379.0 511.3,379.2 512.5,379.4 513.8,379.6 515.1,379.9 516.3,380.1 517.6,380.2 518.8,380.4 520.1,380.6 521.3,380.7 522.5,380.8 523.8,380.9 525.0,381.0 526.3,381.1 527.6,381.2 528.9,381.4 530.2,381.5 531.5,381.6 532.8,381.7 534.1,381.9 535.5,381.9 536.9,382.0 538.4,382.0 539.9,382.0 541.5,381.9 543.2,381.8 544.9,381.7 546.6,381.6 548.3,381.4 550.0,381.2 551.7,381.0 553.3,380.8 554.9,380.5 556.4,380.2 558.0,379.9 559.6,379.6 561.1,379.3 562.7,378.9 564.2,378.5 565.8,378.1 567.4,377.6 568.9,377.1 570.5,376.5 572.1,376.0 573.6,375.5 575.2,375.0 576.8,374.5 578.4,374.0 579.9,373.5 581.5,373.1 583.1,372.6 584.6,372.2 586.2,371.7 587.8,371.3 589.3,370.9 590.9,370.6 592.5,370.3 594.0,370.0 595.6,369.7 597.2,369.4 598.8,369.1 600.3,368.8 601.9,368.4 603.5,368.1 605.0,367.7 606.6,367.3 608.2,366.9 609.7,366.4 611.3,366.0 612.9,365.6 614.5,365.2 616.0,364.8 617.6,364.4 619.2,364.0 620.7,363.6 622.3,363.2 623.9,362.7 625.4,362.3 627.0,361.9 628.6,361.5 630.1,361.1 631.7,360.6 633.3,360.2 634.9,359.7 636.4,359.3 638.0,358.8 639.6,358.4 641.2,357.9 642.8,357.4 644.4,357.0 646.0,356.5 647.6,356.0 649.2,355.5 650.7,355.1 652.1,354.6 653.5,354.2 654.9,353.8 656.2,353.4 657.5,353.0 658.8,352.7 660.0,352.4 661.1,352.1 662.2,351.9 663.1,351.7 664.1,351.5 664.9,351.3 665.7,351.2 666.4,351.1 667.1,351.1 667.8,351.2 668.4,351.4 669.0,351.6 669.6,351.9 670.0,352.2 670.5,352.7 670.9,353.2 671.3,353.7 671.8,354.4 672.2,355.1 672.7,356.0 673.2,356.9 673.7,357.9 674.2,359.0 674.7,360.1 675.1,361.3 675.6,362.6 676.0,363.9 676.4,365.3 676.7,366.8 677.1,368.4 677.4,370.0 677.7,371.7 678.0,373.3 678.2,374.9 678.5,376.5 678.7,377.9 678.9,379.4 679.1,380.8 679.2,382.2 679.3,383.6 679.5,385.0 679.6,386.4 679.7,387.8" stroke="#ff7f0e" stroke-width="1.45" stroke-dasharray="5.9 2.7" fill="none" stroke-linejoin="round"/>
<path d="M681.9,268.0 681.9,384.0" stroke="#ff7f0e" stroke-width="1.45" stroke-dasharray="5.9 2.7" fill="none" stroke-linejoin="round"/>
</g>
<path d="M392.1,456.70 H684.2" stroke="#555" stroke-width="1.8" fill="none"/>
<path d="M388.2,466.6 h6.0" stroke="#555" stroke-width="0.9" fill="none"/>
<text x="395.6" y="469.2" font-size="9.6" fill="#2e2e2e">6</text>
<path d="M436.1,466.6 h6.0" stroke="#555" stroke-width="0.9" fill="none"/>
<text x="443.5" y="469.2" font-size="9.6" fill="#2e2e2e">4</text>
<path d="M484.0,466.6 h6.0" stroke="#555" stroke-width="0.9" fill="none"/>
<text x="491.4" y="469.2" font-size="9.6" fill="#2e2e2e">2</text>
<text x="538.0" y="469.2" font-size="9.6" text-anchor="middle" fill="#2e2e2e">0</text>
<text x="585.9" y="469.2" font-size="9.6" text-anchor="middle" fill="#2e2e2e">2</text>
<text x="633.8" y="469.2" font-size="9.6" text-anchor="middle" fill="#2e2e2e">4</text>
<text x="681.7" y="469.2" font-size="9.6" text-anchor="middle" fill="#2e2e2e">6</text>
<path d="M394.33,456.7 v-5.2 M442.23,456.7 v-5.2 M490.13,456.7 v-5.2 M538.03,456.7 v-5.2 M585.93,456.7 v-5.2 M633.83,456.7 v-5.2 M681.73,456.7 v-5.2" stroke="#484848" stroke-width="1.4" stroke-opacity="0.22" fill="none"/>
<rect x="489.5" y="427.8" width="96" height="24.6" fill="#f3f3f3" fill-opacity="0.85"/>
<path d="M493.60,430.50 l6.30,6.30 M499.60,430.50 l6.30,6.30 M505.60,430.50 l6.30,6.30 M511.60,430.50 l6.30,6.30 M517.60,430.50 l6.30,6.30 M523.60,430.50 l2.40,2.40" stroke="#1f77b4" stroke-width="1.35" stroke-opacity="0.95" fill="none"/>
<path d="M495.0,434.1 h30.5" stroke="#1f77b4" stroke-width="1.1" stroke-dasharray="3.3 2.7" fill="none"/>
<rect x="493.1" y="442.0" width="32.8" height="5.8" fill="#ff7f0e" fill-opacity="0.54"/>
<path d="M495.0,444.9 h30.0" stroke="#ff7f0e" stroke-width="1.25" stroke-dasharray="6.4 2.6" fill="none"/>
<text x="532.6" y="436.7" font-size="8.2" fill="#2e2e2e" textLength="23.1" lengthAdjust="spacingAndGlyphs">NNLO</text>
<text x="532.6" y="448.2" font-size="8.2" fill="#2e2e2e" textLength="51.1" lengthAdjust="spacingAndGlyphs">NNLO+NLL<tspan font-style="italic">x</tspan></text>
<text x="385.6" y="274.5" font-size="9.5" text-anchor="end" fill="#2e2e2e">1.6</text>
<text x="385.6" y="311.5" font-size="9.5" text-anchor="end" fill="#2e2e2e">1.4</text>
<text x="385.6" y="348.4" font-size="9.5" text-anchor="end" fill="#2e2e2e">1.2</text>
<text x="385.6" y="385.4" font-size="9.5" text-anchor="end" fill="#2e2e2e">1.0</text>
<text x="385.6" y="422.3" font-size="9.5" text-anchor="end" fill="#2e2e2e">0.8</text>
<text x="385.6" y="459.3" font-size="9.5" text-anchor="end" fill="#2e2e2e">0.6</text>
<text x="538.8" y="484.4" font-size="9.6" font-style="italic" text-anchor="middle" fill="#2e2e2e">y</text>
<text transform="translate(362.5,364.7) rotate(-90)" font-size="8.9" text-anchor="middle" fill="#2e2e2e" textLength="124" lengthAdjust="spacingAndGlyphs">(<tspan font-style="italic">d</tspan><tspan font-family="Liberation Serif" font-style="italic" font-size="10.2">L</tspan><tspan font-size="7.2" dy="1.7" font-style="italic">qg</tspan><tspan dy="-1.7"> / </tspan><tspan font-style="italic">dy</tspan>) / (<tspan font-style="italic">d</tspan><tspan font-family="Liberation Serif" font-style="italic" font-size="10.2">L</tspan><tspan font-size="7.2" dy="1.7" font-style="italic">qg</tspan><tspan dy="-1.7"> / </tspan><tspan font-style="italic">dy</tspan>) [ref]</text>
<text x="427.1" y="262.8" font-size="10.7" fill="#2e2e2e" textLength="67.5" lengthAdjust="spacingAndGlyphs">NNPDF31sx,</text>
<text x="499.8" y="262.8" font-size="10.7" fill="#2e2e2e" textLength="22.8" lengthAdjust="spacingAndGlyphs">LHC</text>
<text x="528.4" y="262.8" font-size="10.7" fill="#2e2e2e" textLength="11.1" lengthAdjust="spacingAndGlyphs">13</text>
<text x="545.5" y="262.8" font-size="10.7" fill="#2e2e2e" textLength="23.7" lengthAdjust="spacingAndGlyphs">TeV,</text>
<text x="575.6" y="262.8" font-size="10.7" font-style="italic" fill="#2e2e2e" textLength="10.2" lengthAdjust="spacingAndGlyphs">M</text>
<text x="586.2" y="264.7" font-size="7.8" font-style="italic" fill="#2e2e2e" textLength="5.7" lengthAdjust="spacingAndGlyphs">X</text>
<text x="596.4" y="262.8" font-size="10.7" fill="#2e2e2e" textLength="8.8" lengthAdjust="spacingAndGlyphs">=</text>
<text x="609.5" y="262.8" font-size="10.7" fill="#2e2e2e" textLength="11.3" lengthAdjust="spacingAndGlyphs">30</text>
<text x="627.0" y="262.8" font-size="10.7" fill="#2e2e2e" textLength="20.1" lengthAdjust="spacingAndGlyphs">GeV</text>
<clipPath id="c4"><rect x="37.1" y="525.4" width="292.2" height="185.6"/></clipPath>
<path d="M37.1,525.40 H329.0 M37.1,562.51 H329.0 M37.1,599.62 H329.0 M37.1,636.73 H329.0 M37.1,673.84 H329.0 M37.1,710.95 H329.0 M63.23,525.4 V711.0 M123.13,525.4 V711.0 M183.03,525.4 V711.0 M242.93,525.4 V711.0 M302.83,525.4 V711.0" stroke="#e4e4e4" stroke-width="1.3" fill="none"/>
<path d="M63.23,711.0 v-5.4 M123.13,711.0 v-5.4 M183.03,711.0 v-5.4 M242.93,711.0 v-5.4 M302.83,711.0 v-5.4" stroke="#484848" stroke-width="1.4" fill="none"/>
<g clip-path="url(#c4)">
<defs><path id="B4" d="M20.0,480.0 52.8,505.0 52.8,507.5 52.9,510.0 52.9,512.5 53.0,515.0 53.0,517.6 53.1,520.0 53.1,522.5 53.2,525.0 53.3,527.4 53.4,529.9 53.5,532.3 53.6,534.7 53.7,537.1 53.8,539.5 54.0,541.9 54.1,544.3 54.2,546.8 54.4,549.2 54.5,551.7 54.6,554.2 54.8,556.7 55.0,559.2 55.1,561.5 55.3,563.8 55.5,566.0 55.7,568.2 55.9,570.3 56.1,572.4 56.4,574.4 56.6,576.4 56.8,578.2 57.1,580.0 57.4,581.7 57.7,583.2 57.9,584.7 58.2,586.1 58.6,587.4 58.9,588.8 59.2,590.0 59.5,591.3 59.8,592.5 60.2,593.7 60.5,594.8 60.9,595.9 61.2,597.0 61.5,598.1 61.9,599.2 62.2,600.3 62.5,601.5 62.8,602.7 63.1,604.0 63.4,605.2 63.7,606.5 64.0,607.7 64.2,608.9 64.5,610.0 64.7,611.1 65.0,612.1 65.2,613.0 65.4,614.0 65.6,614.9 65.8,615.9 66.1,616.9 66.5,618.0 66.9,619.2 67.4,620.5 67.9,621.9 68.5,623.3 69.1,624.7 69.7,626.0 70.3,627.1 70.9,628.0 71.5,628.7 72.1,629.3 72.7,629.7 73.3,630.0 74.0,630.2 74.6,630.4 75.3,630.6 76.0,630.8 76.7,631.0 77.5,631.0 78.3,631.1 79.1,631.1 79.9,631.1 80.7,631.1 81.6,631.1 82.5,631.1 83.4,631.1 84.4,631.2 85.4,631.2 86.4,631.3 87.4,631.3 88.5,631.4 89.6,631.4 90.7,631.5 91.9,631.6 93.1,631.6 94.4,631.7 95.7,631.8 97.0,631.8 98.3,631.9 99.6,631.9 100.9,632.0 102.2,632.1 103.5,632.1 104.7,632.2 106.0,632.2 107.3,632.3 108.5,632.3 109.8,632.4 111.1,632.4 112.3,632.4 113.4,632.5 114.5,632.5 115.6,632.5 116.7,632.5 118.0,632.5 119.5,632.6 121.3,632.6 123.4,632.6 125.7,632.7 128.2,632.7 130.9,632.8 133.6,632.8 136.4,632.9 139.1,632.9 141.7,632.9 144.3,632.9 146.8,632.9 149.4,632.8 151.9,632.8 154.5,632.7 157.1,632.7 159.6,632.6 162.2,632.6 164.8,632.6 167.4,632.6 170.0,632.5 172.6,632.5 175.2,632.5 177.8,632.5 180.4,632.5 183.0,632.5 185.6,632.5 188.2,632.5 190.8,632.5 193.4,632.5 196.0,632.5 198.6,632.6 201.2,632.6 203.8,632.6 206.4,632.6 208.9,632.7 211.5,632.7 214.1,632.8 216.6,632.8 219.2,632.9 221.7,632.9 224.3,632.9 226.9,632.9 229.6,632.9 232.4,632.8 235.1,632.8 237.8,632.7 240.3,632.7 242.6,632.6 244.7,632.6 246.5,632.6 248.0,632.5 249.3,632.5 250.4,632.5 251.5,632.5 252.6,632.5 253.7,632.4 254.9,632.4 256.2,632.4 257.4,632.3 258.7,632.3 260.0,632.2 261.3,632.2 262.6,632.1 263.8,632.1 265.1,632.0 266.4,631.9 267.7,631.9 269.0,631.8 270.3,631.8 271.6,631.7 272.9,631.6 274.1,631.6 275.3,631.5 276.4,631.4 277.5,631.4 278.6,631.3 279.6,631.3 280.6,631.2 281.6,631.2 282.6,631.1 283.5,631.1 284.4,631.1 285.3,631.1 286.1,631.1 286.9,631.1 287.7,631.1 288.5,631.0 289.3,631.0 290.0,630.8 290.7,630.6 291.4,630.4 292.0,630.2 292.7,630.0 293.3,629.7 293.9,629.3 294.5,628.7 295.1,628.0 295.7,627.1 296.3,626.0 296.9,624.7 297.5,623.3 298.1,621.9 298.6,620.5 299.1,619.2 299.5,618.0 299.9,616.9 300.2,615.9 300.4,614.9 300.6,614.0 300.8,613.0 301.0,612.1 301.3,611.1 301.5,610.0 301.8,608.9 302.0,607.7 302.3,606.5 302.6,605.2 302.9,604.0 303.2,602.7 303.5,601.5 303.8,600.3 304.1,599.2 304.5,598.1 304.8,597.0 305.1,595.9 305.5,594.8 305.8,593.7 306.2,592.5 306.5,591.3 306.8,590.0 307.1,588.8 307.4,587.4 307.8,586.1 308.1,584.7 308.3,583.2 308.6,581.7 308.9,580.0 309.2,578.2 309.4,576.4 309.6,574.4 309.9,572.4 310.1,570.3 310.3,568.2 310.5,566.0 310.7,563.8 310.9,561.5 311.0,559.2 311.2,556.7 311.4,554.2 311.5,551.7 311.6,549.2 311.8,546.8 311.9,544.3 312.0,541.9 312.2,539.5 312.3,537.1 312.4,534.7 312.5,532.3 312.6,529.9 312.7,527.4 312.8,525.0 312.9,522.5 312.9,520.0 313.0,517.6 313.0,515.0 313.1,512.5 313.1,510.0 313.2,507.5 313.2,505.0 346.0,480.0 346.0,740.0 310.0,730.0 309.9,727.6 309.9,725.2 309.9,722.7 309.8,720.3 309.8,717.9 309.7,715.5 309.6,713.2 309.5,711.0 309.3,708.9 309.1,706.9 308.9,704.9 308.7,703.0 308.4,701.1 308.1,699.2 307.9,697.1 307.7,695.0 307.5,692.7 307.4,690.3 307.2,687.8 307.1,685.3 306.9,682.8 306.8,680.3 306.6,678.0 306.4,675.7 306.2,673.5 306.0,671.4 305.8,669.3 305.5,667.2 305.3,665.3 305.0,663.4 304.8,661.6 304.5,660.0 304.2,658.5 303.9,657.1 303.6,655.7 303.3,654.5 303.0,653.4 302.7,652.4 302.3,651.4 301.9,650.5 301.5,649.7 301.0,649.1 300.5,648.5 299.9,648.0 299.4,647.6 298.9,647.2 298.3,646.8 297.8,646.4 297.3,646.0 296.8,645.6 296.3,645.3 295.8,645.0 295.3,644.7 294.8,644.4 294.3,644.1 293.7,643.8 293.1,643.5 292.5,643.3 291.9,643.0 291.2,642.7 290.6,642.5 289.9,642.3 289.2,642.1 288.6,641.9 288.0,641.7 287.4,641.6 286.8,641.4 286.2,641.3 285.6,641.2 285.0,641.1 284.3,641.0 283.5,640.9 282.6,640.8 281.7,640.7 280.7,640.6 279.7,640.6 278.7,640.5 277.6,640.4 276.4,640.4 275.3,640.3 274.1,640.2 272.9,640.1 271.6,640.1 270.3,640.0 269.0,639.9 267.7,639.8 266.4,639.8 265.1,639.7 263.8,639.6 262.6,639.6 261.3,639.5 260.0,639.5 258.7,639.4 257.4,639.4 256.2,639.3 254.9,639.3 253.7,639.3 252.6,639.2 251.5,639.2 250.4,639.2 249.3,639.2 248.0,639.1 246.5,639.1 244.7,639.1 242.6,639.1 240.3,639.0 237.8,639.0 235.1,639.0 232.4,639.0 229.6,638.9 226.9,638.9 224.3,638.9 221.7,638.9 219.2,638.9 216.6,638.9 214.1,638.9 211.5,638.9 208.9,638.9 206.4,638.9 203.8,638.9 201.2,638.9 198.6,638.9 196.0,638.9 193.4,638.9 190.8,638.9 188.2,638.9 185.6,638.9 183.0,638.9 180.4,638.9 177.8,638.9 175.2,638.9 172.6,638.9 170.0,638.9 167.4,638.9 164.8,638.9 162.2,638.9 159.6,638.9 157.1,638.9 154.5,638.9 151.9,638.9 149.4,638.9 146.8,638.9 144.3,638.9 141.7,638.9 139.1,638.9 136.4,638.9 133.6,639.0 130.9,639.0 128.2,639.0 125.7,639.0 123.4,639.1 121.3,639.1 119.5,639.1 118.0,639.1 116.7,639.2 115.6,639.2 114.5,639.2 113.4,639.2 112.3,639.3 111.1,639.3 109.8,639.3 108.5,639.4 107.3,639.4 106.0,639.5 104.7,639.5 103.5,639.6 102.2,639.6 100.9,639.7 99.6,639.8 98.3,639.8 97.0,639.9 95.7,640.0 94.4,640.1 93.1,640.1 91.9,640.2 90.7,640.3 89.6,640.4 88.4,640.4 87.3,640.5 86.3,640.6 85.3,640.6 84.3,640.7 83.4,640.8 82.5,640.9 81.7,641.0 81.0,641.1 80.4,641.2 79.8,641.3 79.2,641.4 78.6,641.6 78.0,641.7 77.4,641.9 76.8,642.1 76.1,642.3 75.4,642.5 74.8,642.8 74.1,643.0 73.5,643.3 72.9,643.5 72.3,643.8 71.7,644.1 71.2,644.4 70.7,644.7 70.2,645.0 69.7,645.3 69.2,645.6 68.7,646.0 68.2,646.4 67.7,646.8 67.1,647.2 66.6,647.6 66.1,648.0 65.5,648.5 65.0,649.1 64.5,649.7 64.1,650.5 63.7,651.4 63.3,652.3 63.0,653.4 62.7,654.5 62.4,655.7 62.1,657.1 61.8,658.5 61.5,660.0 61.2,661.6 61.0,663.4 60.7,665.3 60.5,667.2 60.2,669.3 60.0,671.4 59.8,673.5 59.6,675.7 59.4,678.0 59.2,680.3 59.1,682.8 58.9,685.3 58.8,687.8 58.6,690.3 58.5,692.7 58.3,695.0 58.1,697.1 57.9,699.2 57.6,701.1 57.4,703.0 57.1,704.9 56.9,706.9 56.7,708.9 56.5,711.0 56.4,713.2 56.3,715.5 56.2,717.9 56.2,720.3 56.1,722.7 56.1,725.2 56.1,727.6 56.0,730.0 20.0,740.0Z"/></defs>
<clipPath id="b4"><use href="#B4"/></clipPath>
<use href="#H" clip-path="url(#b4)" stroke="#1f77b4" stroke-width="1.15" stroke-opacity="0.92" fill="none"/>
<use href="#B4" fill="none" stroke="#1f77b4" stroke-opacity="0.35" stroke-width="0.8"/>
<defs><path id="O4" d="M20.0,480.0 53.5,505.0 53.5,507.6 53.6,510.1 53.6,512.7 53.7,515.3 53.7,517.9 53.8,520.4 53.8,522.9 53.9,525.4 54.0,527.8 54.1,530.2 54.1,532.6 54.2,534.9 54.3,537.2 54.5,539.6 54.6,541.9 54.7,544.3 54.8,546.7 55.0,549.2 55.1,551.7 55.3,554.2 55.4,556.7 55.6,559.1 55.8,561.5 56.0,563.8 56.2,566.0 56.4,568.2 56.6,570.3 56.9,572.4 57.1,574.4 57.4,576.4 57.6,578.2 57.9,580.0 58.2,581.7 58.5,583.2 58.8,584.7 59.1,586.1 59.4,587.4 59.7,588.8 60.0,590.0 60.4,591.3 60.8,592.5 61.1,593.8 61.5,594.9 61.9,596.0 62.2,597.2 62.7,598.2 63.1,599.3 63.6,600.3 64.1,601.3 64.7,602.3 65.3,603.3 65.9,604.2 66.5,605.1 67.2,606.0 67.8,606.8 68.5,607.6 69.2,608.3 69.9,609.0 70.5,609.6 71.3,610.2 72.0,610.8 72.7,611.3 73.4,611.9 74.2,612.4 75.0,613.0 75.7,613.5 76.5,614.1 77.3,614.6 78.2,615.1 79.0,615.6 79.8,616.1 80.6,616.5 81.4,616.9 82.2,617.2 83.1,617.6 83.9,617.9 84.7,618.1 85.5,618.4 86.3,618.7 87.1,618.9 87.8,619.1 88.5,619.3 89.2,619.5 89.8,619.6 90.4,619.8 91.1,620.0 91.9,620.2 92.7,620.4 93.6,620.7 94.6,620.9 95.6,621.2 96.6,621.5 97.7,621.8 98.8,622.2 99.9,622.5 100.9,622.8 101.9,623.1 102.9,623.4 103.9,623.8 105.0,624.1 106.0,624.4 107.0,624.7 108.0,625.1 109.0,625.4 110.0,625.7 111.0,626.1 112.1,626.4 113.1,626.7 114.1,627.1 115.1,627.4 116.2,627.7 117.2,628.0 118.2,628.3 119.2,628.6 120.3,628.9 121.3,629.1 122.3,629.4 123.4,629.6 124.4,629.9 125.4,630.1 126.4,630.3 127.5,630.5 128.5,630.7 129.5,630.9 130.5,631.0 131.6,631.2 132.6,631.3 133.6,631.5 134.6,631.7 135.6,631.8 136.6,632.0 137.6,632.1 138.7,632.3 139.7,632.4 140.7,632.6 141.7,632.7 142.7,632.8 143.7,632.9 144.8,633.0 145.8,633.1 146.8,633.1 147.8,633.2 148.9,633.2 149.9,633.3 150.9,633.4 152.0,633.4 153.0,633.5 154.0,633.5 155.0,633.6 156.1,633.6 157.1,633.7 158.1,633.7 159.1,633.7 160.2,633.7 161.2,633.8 162.2,633.8 163.2,633.8 164.3,633.8 165.3,633.8 166.3,633.8 167.3,633.8 168.3,633.8 169.3,633.8 170.3,633.9 171.3,633.9 172.3,633.9 173.4,633.9 174.4,633.9 175.5,633.9 176.5,633.9 177.6,633.9 178.7,633.9 179.8,633.9 180.8,633.9 181.9,633.9 183.0,633.9 184.1,633.9 185.2,633.9 186.2,633.9 187.3,633.9 188.4,633.9 189.5,633.9 190.5,633.9 191.6,633.9 192.6,633.9 193.7,633.9 194.7,633.9 195.7,633.9 196.7,633.8 197.7,633.8 198.7,633.8 199.7,633.8 200.7,633.8 201.7,633.8 202.8,633.8 203.8,633.8 204.8,633.8 205.8,633.7 206.9,633.7 207.9,633.7 208.9,633.7 210.0,633.6 211.0,633.6 212.0,633.5 213.0,633.5 214.1,633.4 215.1,633.4 216.1,633.3 217.1,633.2 218.2,633.2 219.2,633.1 220.2,633.1 221.2,633.0 222.3,632.9 223.3,632.8 224.3,632.7 225.3,632.6 226.3,632.4 227.3,632.3 228.3,632.1 229.4,632.0 230.4,631.8 231.4,631.7 232.4,631.5 233.4,631.3 234.4,631.2 235.5,631.0 236.5,630.9 237.5,630.7 238.5,630.5 239.6,630.3 240.6,630.1 241.6,629.9 242.7,629.6 243.7,629.4 244.7,629.1 245.7,628.9 246.7,628.6 247.8,628.3 248.8,628.0 249.8,627.7 250.9,627.4 251.9,627.1 252.9,626.7 253.9,626.4 255.0,626.1 256.0,625.7 257.0,625.4 258.0,625.1 259.0,624.7 260.0,624.4 261.1,624.1 262.1,623.8 263.1,623.4 264.1,623.1 265.1,622.8 266.1,622.5 267.2,622.2 268.3,621.8 269.4,621.5 270.4,621.2 271.4,620.9 272.4,620.7 273.3,620.4 274.1,620.2 274.9,620.0 275.6,619.8 276.2,619.6 276.8,619.5 277.5,619.3 278.2,619.1 278.9,618.9 279.7,618.7 280.5,618.4 281.3,618.1 282.1,617.9 282.9,617.6 283.8,617.2 284.6,616.9 285.4,616.5 286.2,616.1 287.0,615.6 287.8,615.1 288.6,614.6 289.5,614.1 290.3,613.5 291.0,613.0 291.8,612.4 292.6,611.9 293.3,611.3 294.0,610.8 294.7,610.2 295.5,609.6 296.1,609.0 296.8,608.3 297.5,607.6 298.2,606.8 298.8,606.0 299.5,605.1 300.1,604.2 300.7,603.3 301.3,602.3 301.9,601.3 302.4,600.3 302.9,599.3 303.3,598.2 303.8,597.2 304.1,596.0 304.5,594.9 304.9,593.8 305.2,592.5 305.6,591.3 306.0,590.0 306.3,588.8 306.6,587.4 306.9,586.1 307.2,584.7 307.5,583.2 307.8,581.7 308.1,580.0 308.4,578.2 308.6,576.4 308.9,574.4 309.1,572.4 309.4,570.3 309.6,568.2 309.8,566.0 310.0,563.8 310.2,561.5 310.4,559.1 310.6,556.7 310.7,554.2 310.9,551.7 311.0,549.2 311.2,546.7 311.3,544.3 311.4,541.9 311.5,539.6 311.7,537.2 311.8,534.9 311.9,532.6 311.9,530.2 312.0,527.8 312.1,525.4 312.2,522.9 312.2,520.4 312.3,517.9 312.3,515.3 312.4,512.7 312.4,510.1 312.5,507.6 312.5,505.0 346.0,480.0 346.0,740.0 310.5,730.0 310.5,727.6 310.4,725.2 310.4,722.8 310.4,720.3 310.3,717.9 310.3,715.6 310.3,713.3 310.2,711.1 310.1,709.0 310.0,707.0 309.9,705.1 309.8,703.2 309.7,701.4 309.6,699.5 309.5,697.7 309.4,695.8 309.3,693.9 309.2,692.0 309.1,690.1 308.9,688.2 308.8,686.4 308.7,684.5 308.6,682.6 308.4,680.7 308.2,678.8 308.1,676.8 307.9,674.8 307.7,672.8 307.5,670.9 307.3,669.0 307.1,667.2 306.9,665.6 306.7,664.1 306.5,662.7 306.3,661.4 306.1,660.2 305.8,659.0 305.6,657.9 305.4,656.8 305.1,655.6 304.8,654.4 304.6,653.3 304.3,652.1 304.0,651.0 303.7,649.9 303.3,648.8 303.0,647.8 302.6,646.8 302.2,645.9 301.8,645.0 301.4,644.2 300.9,643.4 300.5,642.7 300.0,641.9 299.4,641.2 298.9,640.5 298.3,639.8 297.7,639.1 297.1,638.3 296.4,637.7 295.7,637.0 295.0,636.3 294.4,635.8 293.7,635.2 293.1,634.7 292.4,634.2 291.8,633.8 291.1,633.4 290.5,633.0 289.9,632.7 289.2,632.4 288.6,632.1 288.0,631.9 287.3,631.7 286.7,631.5 286.1,631.4 285.5,631.3 284.8,631.2 284.2,631.1 283.5,631.1 282.8,631.1 282.1,631.1 281.4,631.2 280.6,631.2 279.9,631.3 279.1,631.4 278.3,631.6 277.4,631.7 276.5,631.9 275.5,632.1 274.5,632.3 273.4,632.5 272.4,632.8 271.3,633.0 270.2,633.3 269.2,633.5 268.2,633.8 267.1,634.0 266.1,634.3 265.1,634.6 264.1,634.8 263.0,635.1 262.0,635.4 261.0,635.6 260.0,635.8 259.0,636.0 258.0,636.3 256.9,636.5 255.9,636.7 254.9,636.9 253.9,637.0 252.9,637.2 251.9,637.4 250.9,637.5 249.8,637.6 248.8,637.8 247.8,637.9 246.8,638.0 245.7,638.1 244.7,638.2 243.7,638.3 242.7,638.4 241.6,638.4 240.6,638.5 239.6,638.6 238.6,638.6 237.5,638.7 236.5,638.7 235.5,638.7 234.4,638.8 233.4,638.8 232.4,638.8 231.4,638.8 230.3,638.9 229.3,638.9 228.3,638.9 227.3,638.9 226.3,638.9 225.3,639.0 224.2,639.0 223.2,639.0 222.2,639.0 221.2,639.1 220.2,639.1 219.2,639.1 218.2,639.2 217.1,639.2 216.1,639.3 215.1,639.3 214.1,639.4 213.0,639.4 212.0,639.5 211.0,639.6 210.0,639.6 208.9,639.7 207.9,639.8 206.9,639.9 205.9,639.9 204.8,640.0 203.8,640.1 202.8,640.2 201.7,640.3 200.7,640.3 199.7,640.4 198.7,640.5 197.6,640.6 196.6,640.6 195.6,640.7 194.6,640.7 193.5,640.8 192.4,640.8 191.3,640.8 190.3,640.9 189.3,640.9 188.3,640.9 187.5,640.9 186.8,640.9 186.1,640.9 185.5,640.9 185.0,640.9 184.5,640.9 184.0,640.9 183.5,640.9 183.0,640.9 182.5,640.9 182.0,640.9 181.5,640.9 181.0,640.9 180.5,640.9 179.9,640.9 179.2,640.9 178.5,640.9 177.7,640.9 176.7,640.9 175.7,640.9 174.7,640.8 173.6,640.8 172.5,640.8 171.4,640.7 170.4,640.7 169.4,640.6 168.4,640.6 167.3,640.5 166.3,640.4 165.3,640.3 164.3,640.3 163.2,640.2 162.2,640.1 161.2,640.0 160.1,639.9 159.1,639.9 158.1,639.8 157.1,639.7 156.1,639.6 155.0,639.6 154.0,639.5 153.0,639.4 151.9,639.4 150.9,639.3 149.9,639.3 148.9,639.2 147.8,639.2 146.8,639.1 145.8,639.1 144.8,639.1 143.8,639.0 142.8,639.0 141.7,639.0 140.7,639.0 139.7,638.9 138.7,638.9 137.7,638.9 136.7,638.9 135.7,638.9 134.6,638.8 133.6,638.8 132.6,638.8 131.6,638.8 130.5,638.7 129.5,638.7 128.5,638.7 127.5,638.6 126.4,638.6 125.4,638.5 124.4,638.4 123.3,638.4 122.3,638.3 121.3,638.2 120.3,638.1 119.2,638.0 118.2,637.9 117.2,637.8 116.2,637.6 115.1,637.5 114.1,637.4 113.1,637.2 112.1,637.0 111.1,636.9 110.1,636.7 109.1,636.5 108.0,636.3 107.0,636.0 106.0,635.8 105.0,635.6 104.0,635.4 103.0,635.1 101.9,634.8 100.9,634.6 99.9,634.3 98.9,634.0 97.8,633.8 96.8,633.5 95.8,633.3 94.7,633.0 93.6,632.8 92.6,632.5 91.5,632.3 90.5,632.1 89.5,631.9 88.6,631.7 87.7,631.6 86.9,631.4 86.1,631.3 85.4,631.2 84.6,631.2 83.9,631.1 83.2,631.1 82.5,631.1 81.8,631.1 81.2,631.2 80.5,631.3 79.9,631.4 79.3,631.5 78.7,631.7 78.0,631.9 77.4,632.1 76.8,632.4 76.1,632.7 75.5,633.0 74.9,633.4 74.2,633.8 73.6,634.2 72.9,634.7 72.3,635.2 71.6,635.8 71.0,636.3 70.3,637.0 69.6,637.7 68.9,638.3 68.3,639.1 67.7,639.8 67.1,640.5 66.6,641.2 66.0,641.9 65.5,642.7 65.1,643.4 64.6,644.2 64.2,645.0 63.8,645.9 63.4,646.8 63.0,647.8 62.7,648.8 62.3,649.9 62.0,651.0 61.7,652.1 61.4,653.3 61.2,654.4 60.9,655.6 60.6,656.8 60.4,657.9 60.2,659.0 59.9,660.2 59.7,661.4 59.5,662.7 59.3,664.1 59.1,665.6 58.9,667.2 58.7,669.0 58.5,670.9 58.3,672.8 58.1,674.8 57.9,676.8 57.8,678.8 57.6,680.7 57.4,682.6 57.3,684.5 57.2,686.4 57.1,688.2 56.9,690.1 56.8,692.0 56.7,693.9 56.6,695.8 56.5,697.7 56.4,699.5 56.3,701.4 56.2,703.2 56.1,705.1 56.0,707.0 55.9,709.0 55.8,711.1 55.7,713.3 55.7,715.6 55.7,717.9 55.6,720.3 55.6,722.8 55.6,725.2 55.5,727.6 55.5,730.0 20.0,740.0Z"/></defs>
<clipPath id="o4"><use href="#O4"/></clipPath>
<use href="#O4" fill="#fff"/>
<use href="#O4" fill="#ff7f0e" fill-opacity="0.54" stroke="#ff7f0e" stroke-opacity="0.22" stroke-width="0.9"/>
<g clip-path="url(#b4)"><use href="#H" clip-path="url(#o4)" stroke="#7d6a58" stroke-width="0.90" stroke-opacity="0.62" fill="none"/></g>
<path d="M37.1,525.40 H329.0 M37.1,562.51 H329.0 M37.1,599.62 H329.0 M37.1,636.73 H329.0 M37.1,673.84 H329.0 M37.1,710.95 H329.0 M63.23,525.4 V711.0 M123.13,525.4 V711.0 M183.03,525.4 V711.0 M242.93,525.4 V711.0 M302.83,525.4 V711.0" stroke="#c8c8c8" stroke-opacity="0.25" stroke-width="0.8" fill="none"/>
<path d="M37.1,636.73 H329.0" stroke="#1f77b4" stroke-width="1.3" stroke-dasharray="3.8 2.1" stroke-opacity="0.88" fill="none"/>
<path d="M38.0,636.7 38.1,627.9 38.1,618.7 38.2,609.3 38.2,600.0 38.3,591.0 38.3,582.7 38.4,575.1 38.5,568.6 38.6,563.3 38.7,559.2 38.9,555.8 39.0,553.0 39.2,550.6 39.3,548.2 39.5,545.6 39.6,542.7 39.8,545.9 39.9,549.1 40.0,552.3 40.2,555.4 40.3,558.6 40.5,561.9 40.7,565.2 40.9,568.6 41.1,572.2 41.4,576.1 41.7,580.1 42.0,584.2 42.3,588.1 42.6,591.7 43.0,595.0 43.4,597.8 43.8,600.1 44.3,601.9 44.9,603.5 45.4,604.8 46.0,605.8 46.5,606.8 47.0,607.6 47.4,608.4 47.8,609.0 48.1,609.4 48.4,609.6 48.7,609.7 49.0,609.7 49.2,609.9 49.5,610.2 49.8,610.8 50.1,611.7 50.4,612.8 50.8,614.0 51.1,615.3 51.4,616.7 51.7,618.1 52.0,619.4 52.3,620.5 52.6,621.5 52.8,622.5 53.1,623.4 53.3,624.3 53.5,625.2 53.7,626.0 54.0,626.9 54.2,627.8 54.4,627.4 54.7,627.0 54.9,626.5 55.1,626.1 55.4,625.7 55.6,625.3 55.9,624.9 56.3,624.6 56.7,624.3 57.1,624.1 57.6,623.9 58.1,623.7 58.7,623.5 59.2,623.3 59.8,623.2 60.4,623.0 61.0,622.9 61.7,622.7 62.4,622.6 63.1,622.5 63.9,622.4 64.6,622.3 65.4,622.2 66.1,622.1 66.9,622.0 67.6,622.0 68.4,621.9 69.2,621.8 70.0,621.8 70.7,621.7 71.5,621.7 72.3,621.7 73.1,621.7 73.8,621.7 74.6,621.7 75.4,621.7 76.1,621.7 76.9,621.8 77.6,621.8 78.4,621.9 79.1,622.0 79.9,622.1 80.6,622.2 81.3,622.3 82.1,622.4 82.8,622.6 83.6,622.7 84.5,622.9 85.4,623.1 86.4,623.3 87.4,623.6 88.5,623.9 89.5,624.1 90.6,624.4 91.7,624.7 92.7,625.0 93.7,625.3 94.8,625.6 95.8,625.9 96.8,626.2 97.8,626.5 98.9,626.8 99.9,627.1 100.9,627.4 101.9,627.7 102.9,628.0 103.9,628.3 105.0,628.6 106.0,628.9 107.0,629.2 108.0,629.4 109.0,629.7 110.0,630.0 111.0,630.2 112.1,630.4 113.1,630.6 114.1,630.9 115.1,631.1 116.2,631.3 117.2,631.5 118.2,631.7 119.2,631.9 120.3,632.1 121.3,632.3 122.3,632.5 123.4,632.7 124.4,632.9 125.4,633.1 126.4,633.3 127.5,633.5 128.5,633.6 129.5,633.8 130.5,633.9 131.6,634.1 132.6,634.3 133.6,634.4 134.6,634.5 135.6,634.7 136.6,634.8 137.6,634.9 138.7,635.1 139.7,635.2 140.7,635.3 141.7,635.4 142.7,635.5 143.7,635.6 144.8,635.7 145.8,635.8 146.8,635.9 147.8,636.0 148.9,636.1 149.9,636.2 150.9,636.3 152.0,636.4 153.0,636.4 154.0,636.5 155.0,636.6 156.1,636.7 157.1,636.7 158.1,636.8 159.1,636.9 160.2,636.9 161.2,637.0 162.2,637.0 163.2,637.1 164.3,637.1 165.3,637.2 166.3,637.2 167.3,637.2 168.3,637.3 169.3,637.3 170.3,637.3 171.3,637.3 172.3,637.4 173.4,637.4 174.4,637.4 175.5,637.4 176.5,637.4 177.6,637.4 178.7,637.4 179.8,637.4 180.8,637.4 181.9,637.4 183.0,637.4 184.1,637.4 185.2,637.4 186.2,637.4 187.3,637.4 188.4,637.4 189.5,637.4 190.5,637.4 191.6,637.4 192.6,637.4 193.7,637.4 194.7,637.3 195.7,637.3 196.7,637.3 197.7,637.3 198.7,637.2 199.7,637.2 200.7,637.2 201.7,637.1 202.8,637.1 203.8,637.0 204.8,637.0 205.8,636.9 206.9,636.9 207.9,636.8 208.9,636.7 210.0,636.7 211.0,636.6 212.0,636.5 213.0,636.4 214.1,636.4 215.1,636.3 216.1,636.2 217.1,636.1 218.2,636.0 219.2,635.9 220.2,635.8 221.2,635.7 222.3,635.6 223.3,635.5 224.3,635.4 225.3,635.3 226.3,635.2 227.3,635.1 228.3,634.9 229.4,634.8 230.4,634.7 231.4,634.5 232.4,634.4 233.4,634.3 234.4,634.1 235.5,633.9 236.5,633.8 237.5,633.6 238.5,633.5 239.6,633.3 240.6,633.1 241.6,632.9 242.7,632.7 243.7,632.5 244.7,632.3 245.7,632.1 246.7,631.9 247.8,631.7 248.8,631.5 249.8,631.3 250.9,631.1 251.9,630.9 252.9,630.6 253.9,630.4 255.0,630.2 256.0,630.0 257.0,629.7 258.0,629.4 259.0,629.2 260.0,628.9 261.1,628.6 262.1,628.3 263.1,628.0 264.1,627.7 265.1,627.4 266.1,627.1 267.1,626.8 268.2,626.5 269.2,626.2 270.2,625.9 271.2,625.6 272.3,625.3 273.3,625.0 274.3,624.7 275.4,624.4 276.5,624.1 277.5,623.9 278.6,623.6 279.6,623.3 280.6,623.1 281.5,622.9 282.4,622.7 283.2,622.6 283.9,622.4 284.7,622.3 285.4,622.2 286.1,622.1 286.9,622.0 287.6,621.9 288.4,621.8 289.1,621.8 289.9,621.7 290.6,621.7 291.4,621.7 292.2,621.7 292.9,621.7 293.7,621.7 294.5,621.7 295.3,621.7 296.0,621.8 296.8,621.8 297.6,621.9 298.4,622.0 299.1,622.0 299.9,622.1 300.6,622.2 301.4,622.3 302.1,622.4 302.9,622.5 303.6,622.6 304.3,622.7 305.0,622.9 305.6,623.0 306.2,623.2 306.8,623.3 307.3,623.5 307.9,623.7 308.4,623.9 308.9,624.1 309.3,624.3 309.7,624.6 310.1,624.9 310.4,625.3 310.6,625.7 310.9,626.1 311.1,626.5 311.3,627.0 311.6,627.4 311.8,627.8 312.0,626.9 312.3,626.0 312.5,625.2 312.7,624.3 312.9,623.4 313.2,622.5 313.4,621.5 313.7,620.5 314.0,619.4 314.3,618.1 314.6,616.7 314.9,615.3 315.2,614.0 315.6,612.8 315.9,611.7 316.2,610.8 316.5,610.2 316.8,609.9 317.0,609.7 317.3,609.7 317.6,609.6 317.9,609.4 318.2,609.0 318.6,608.4 319.0,607.6 319.5,606.8 320.0,605.8 320.6,604.8 321.1,603.5 321.7,601.9 322.2,600.1 322.6,597.8 323.0,595.0 323.4,591.7 323.7,588.1 324.0,584.2 324.3,580.1 324.6,576.1 324.9,572.2 325.1,568.6 325.3,565.2 325.5,561.9 325.7,558.6 325.8,555.4 326.0,552.3 326.1,549.1 326.2,545.9 326.4,542.7 326.5,545.6 326.7,548.2 326.8,550.6 327.0,553.0 327.1,555.8 327.3,559.2 327.4,563.3 327.5,568.6 327.6,575.1 327.7,582.7 327.7,591.0 327.8,600.0 327.8,609.3 327.9,618.7 327.9,627.9 328.0,636.7" stroke="#ff7f0e" stroke-width="1.45" stroke-dasharray="5.9 2.7" fill="none" stroke-linejoin="round"/>
</g>
<path d="M37.1,710.95 H329.3" stroke="#4a4a4a" stroke-width="1.7" fill="none"/>
<path d="M57.1,720.9 h6.0" stroke="#555" stroke-width="0.9" fill="none"/>
<text x="64.5" y="723.5" font-size="9.6" fill="#2e2e2e">4</text>
<path d="M117.0,720.9 h6.0" stroke="#555" stroke-width="0.9" fill="none"/>
<text x="124.4" y="723.5" font-size="9.6" fill="#2e2e2e">2</text>
<text x="183.0" y="723.5" font-size="9.6" text-anchor="middle" fill="#2e2e2e">0</text>
<text x="242.9" y="723.5" font-size="9.6" text-anchor="middle" fill="#2e2e2e">2</text>
<text x="302.8" y="723.5" font-size="9.6" text-anchor="middle" fill="#2e2e2e">4</text>
<path d="M63.23,711.0 v-5.4 M123.13,711.0 v-5.4 M183.03,711.0 v-5.4 M242.93,711.0 v-5.4 M302.83,711.0 v-5.4" stroke="#484848" stroke-width="1.4" stroke-opacity="0.22" fill="none"/>
<rect x="134.5" y="682.1" width="96" height="24.6" fill="#f3f3f3" fill-opacity="0.85"/>
<path d="M138.60,684.75 l6.30,6.30 M144.60,684.75 l6.30,6.30 M150.60,684.75 l6.30,6.30 M156.60,684.75 l6.30,6.30 M162.60,684.75 l6.30,6.30 M168.60,684.75 l2.40,2.40" stroke="#1f77b4" stroke-width="1.35" stroke-opacity="0.95" fill="none"/>
<path d="M140.0,688.4 h30.5" stroke="#1f77b4" stroke-width="1.1" stroke-dasharray="3.3 2.7" fill="none"/>
<rect x="138.1" y="696.3" width="32.8" height="5.8" fill="#ff7f0e" fill-opacity="0.54"/>
<path d="M140.0,699.2 h30.0" stroke="#ff7f0e" stroke-width="1.25" stroke-dasharray="6.4 2.6" fill="none"/>
<text x="177.6" y="691.0" font-size="8.2" fill="#2e2e2e" textLength="23.1" lengthAdjust="spacingAndGlyphs">NNLO</text>
<text x="177.6" y="702.5" font-size="8.2" fill="#2e2e2e" textLength="51.1" lengthAdjust="spacingAndGlyphs">NNLO+NLL<tspan font-style="italic">x</tspan></text>
<text x="30.6" y="528.0" font-size="9.5" text-anchor="end" fill="#2e2e2e">1.6</text>
<text x="30.6" y="565.1" font-size="9.5" text-anchor="end" fill="#2e2e2e">1.4</text>
<text x="30.6" y="602.2" font-size="9.5" text-anchor="end" fill="#2e2e2e">1.2</text>
<text x="30.6" y="639.3" font-size="9.5" text-anchor="end" fill="#2e2e2e">1.0</text>
<text x="30.6" y="676.4" font-size="9.5" text-anchor="end" fill="#2e2e2e">0.8</text>
<text x="30.6" y="713.6" font-size="9.5" text-anchor="end" fill="#2e2e2e">0.6</text>
<text x="183.8" y="738.7" font-size="9.6" font-style="italic" text-anchor="middle" fill="#2e2e2e">y</text>
<text transform="translate(7.5,618.6) rotate(-90)" font-size="8.9" text-anchor="middle" fill="#2e2e2e" textLength="124" lengthAdjust="spacingAndGlyphs">(<tspan font-style="italic">d</tspan><tspan font-family="Liberation Serif" font-style="italic" font-size="10.2">L</tspan><tspan font-size="7.2" dy="1.7" font-style="italic">gg</tspan><tspan dy="-1.7"> / </tspan><tspan font-style="italic">dy</tspan>) / (<tspan font-style="italic">d</tspan><tspan font-family="Liberation Serif" font-style="italic" font-size="10.2">L</tspan><tspan font-size="7.2" dy="1.7" font-style="italic">gg</tspan><tspan dy="-1.7"> / </tspan><tspan font-style="italic">dy</tspan>) [ref]</text>
<text x="69.5" y="516.3" font-size="10.7" fill="#2e2e2e" textLength="67.4" lengthAdjust="spacingAndGlyphs">NNPDF31sx,</text>
<text x="142.2" y="516.3" font-size="10.7" fill="#2e2e2e" textLength="22.8" lengthAdjust="spacingAndGlyphs">LHC</text>
<text x="170.2" y="516.3" font-size="10.7" fill="#2e2e2e" textLength="11.9" lengthAdjust="spacingAndGlyphs">13</text>
<text x="188.5" y="516.3" font-size="10.7" fill="#2e2e2e" textLength="23.1" lengthAdjust="spacingAndGlyphs">TeV,</text>
<text x="217.8" y="516.3" font-size="10.7" font-style="italic" fill="#2e2e2e" textLength="10.5" lengthAdjust="spacingAndGlyphs">M</text>
<text x="228.6" y="518.2" font-size="7.8" font-style="italic" fill="#2e2e2e" textLength="5.8" lengthAdjust="spacingAndGlyphs">X</text>
<text x="238.8" y="516.3" font-size="10.7" fill="#2e2e2e" textLength="8.8" lengthAdjust="spacingAndGlyphs">=</text>
<text x="251.9" y="516.3" font-size="10.7" fill="#2e2e2e" textLength="17.5" lengthAdjust="spacingAndGlyphs">100</text>
<text x="275.6" y="516.3" font-size="10.7" fill="#2e2e2e" textLength="21.0" lengthAdjust="spacingAndGlyphs">GeV</text>
<clipPath id="c5"><rect x="392.1" y="525.4" width="292.2" height="185.6"/></clipPath>
<path d="M392.1,525.40 H684.0 M392.1,562.51 H684.0 M392.1,599.62 H684.0 M392.1,636.73 H684.0 M392.1,673.84 H684.0 M392.1,710.95 H684.0 M418.23,525.4 V711.0 M478.13,525.4 V711.0 M538.03,525.4 V711.0 M597.93,525.4 V711.0 M657.83,525.4 V711.0" stroke="#e4e4e4" stroke-width="1.3" fill="none"/>
<path d="M418.23,711.0 v-5.4 M478.13,711.0 v-5.4 M538.03,711.0 v-5.4 M597.93,711.0 v-5.4 M657.83,711.0 v-5.4" stroke="#484848" stroke-width="1.4" fill="none"/>
<g clip-path="url(#c5)">
<defs><path id="B5" d="M380.0,480.0 421.0,505.0 421.1,507.6 421.1,510.1 421.1,512.7 421.2,515.3 421.2,517.8 421.3,520.4 421.4,522.9 421.5,525.4 421.6,527.9 421.8,530.3 422.0,532.8 422.2,535.2 422.4,537.7 422.6,540.1 422.8,542.5 423.0,545.0 423.2,547.5 423.5,550.1 423.7,552.7 424.0,555.3 424.2,557.8 424.5,560.3 424.7,562.7 425.0,565.0 425.2,567.1 425.5,569.2 425.7,571.1 426.0,573.0 426.2,574.8 426.5,576.6 426.7,578.3 427.0,580.0 427.3,581.7 427.6,583.2 427.9,584.8 428.2,586.2 428.5,587.7 428.8,589.1 429.1,590.6 429.5,592.0 429.9,593.4 430.3,594.9 430.7,596.3 431.1,597.7 431.6,599.1 432.0,600.4 432.5,601.7 433.0,603.0 433.5,604.2 434.0,605.4 434.6,606.6 435.1,607.7 435.7,608.8 436.3,609.9 436.9,610.9 437.5,612.0 438.1,613.1 438.8,614.1 439.4,615.2 440.1,616.2 440.8,617.2 441.5,618.2 442.2,619.1 443.0,620.0 443.8,620.9 444.6,621.7 445.5,622.5 446.3,623.2 447.2,624.0 448.1,624.7 449.1,625.4 450.0,626.0 450.9,626.6 451.8,627.2 452.8,627.7 453.7,628.2 454.7,628.7 455.7,629.2 456.8,629.6 458.0,630.0 459.3,630.4 460.6,630.8 462.1,631.1 463.6,631.4 465.1,631.7 466.7,632.0 468.3,632.2 470.0,632.4 471.7,632.6 473.5,632.7 475.4,632.8 477.3,632.8 479.2,632.9 481.2,632.9 483.1,633.0 485.0,633.0 486.8,633.0 488.6,633.0 490.4,633.0 492.2,633.0 494.0,633.0 495.9,633.0 497.9,633.0 500.0,633.0 502.3,633.0 504.7,633.0 507.2,633.0 509.8,633.0 512.4,633.0 515.0,633.0 517.5,633.0 520.0,633.0 522.4,633.0 524.6,633.0 526.9,633.0 529.1,633.0 531.3,633.0 533.6,633.0 536.0,633.0 538.4,633.0 541.0,633.0 543.6,633.0 546.3,633.0 549.1,633.0 551.9,633.1 554.6,633.0 557.4,633.0 560.0,633.0 562.6,633.0 565.2,632.9 567.8,632.8 570.3,632.7 572.8,632.6 575.3,632.5 577.7,632.4 580.0,632.3 582.2,632.2 584.3,632.0 586.4,631.9 588.3,631.7 590.3,631.5 592.3,631.4 594.4,631.2 596.5,631.0 598.7,630.8 601.0,630.6 603.3,630.4 605.7,630.2 608.0,630.0 610.4,629.7 612.7,629.5 615.0,629.3 617.3,629.1 619.7,628.8 622.1,628.6 624.4,628.3 626.7,628.1 628.9,627.8 631.0,627.6 633.0,627.4 634.8,627.2 636.5,627.0 638.0,626.8 639.5,626.7 640.9,626.5 642.3,626.3 643.6,626.2 645.0,626.0 646.4,625.8 647.7,625.7 649.0,625.5 650.3,625.3 651.5,625.2 652.7,625.0 653.8,624.8 654.9,624.6 655.9,624.4 656.9,624.2 657.8,623.9 658.7,623.7 659.6,623.5 660.4,623.2 661.2,622.9 662.0,622.5 662.8,622.1 663.6,621.8 664.3,621.4 665.1,621.0 665.8,620.5 666.5,619.9 667.1,619.3 667.7,618.5 668.2,617.6 668.7,616.7 669.1,615.8 669.6,614.7 669.9,613.5 670.3,612.2 670.6,610.7 671.0,609.0 671.4,607.2 671.7,605.2 672.0,603.1 672.3,600.8 672.6,598.3 672.9,595.7 673.2,593.0 673.5,590.0 673.8,586.8 674.0,583.4 674.3,579.8 674.5,576.0 674.8,572.1 675.0,568.1 675.3,564.1 675.5,560.0 675.7,555.7 676.0,551.1 676.2,546.4 676.5,541.6 676.7,536.9 676.9,532.5 677.1,528.5 677.3,525.0 677.4,522.2 677.6,519.8 677.6,517.9 677.7,516.2 677.8,514.7 677.9,513.3 677.9,511.7 678.0,510.0 700.0,500.0 694.8,725.9 676.0,725.9 675.8,724.1 675.7,722.4 675.5,720.7 675.4,719.0 675.2,717.2 675.1,715.4 674.9,713.3 674.7,711.1 674.5,708.6 674.3,705.9 674.0,703.1 673.8,700.1 673.5,697.1 673.3,694.1 673.0,691.1 672.7,688.2 672.4,685.3 672.1,682.2 671.8,679.0 671.4,675.9 671.1,672.9 670.8,670.1 670.5,667.7 670.2,665.6 670.0,664.1 669.7,662.9 669.5,662.1 669.3,661.5 669.1,661.0 668.9,660.5 668.7,660.0 668.4,659.4 668.2,658.6 667.9,657.7 667.6,656.9 667.3,656.1 667.0,655.3 666.7,654.5 666.3,653.8 665.9,653.1 665.5,652.4 665.1,651.8 664.7,651.2 664.2,650.6 663.7,650.0 663.2,649.5 662.7,649.0 662.2,648.6 661.6,648.1 661.1,647.8 660.5,647.4 659.9,647.1 659.3,646.8 658.6,646.6 657.9,646.3 657.1,646.0 656.3,645.8 655.5,645.6 654.6,645.4 653.7,645.2 652.7,645.0 651.7,644.9 650.7,644.7 649.6,644.5 648.5,644.4 647.3,644.2 646.0,644.1 644.7,644.0 643.4,643.9 642.1,643.7 640.8,643.6 639.6,643.5 638.3,643.4 637.1,643.4 635.8,643.3 634.5,643.3 633.3,643.2 632.0,643.1 630.8,643.1 629.5,643.0 628.3,643.0 627.0,642.9 625.8,642.9 624.5,642.8 623.2,642.7 622.0,642.7 620.7,642.6 619.5,642.5 618.2,642.4 617.0,642.4 615.8,642.3 614.5,642.2 613.3,642.1 612.0,642.0 610.7,641.9 609.4,641.8 608.1,641.7 606.7,641.6 605.3,641.5 603.8,641.4 602.4,641.3 601.0,641.2 599.7,641.1 598.4,641.0 597.2,640.9 596.1,640.9 595.0,640.8 594.0,640.8 592.9,640.7 591.8,640.6 590.6,640.6 589.3,640.5 587.9,640.5 586.4,640.4 584.9,640.3 583.3,640.3 581.6,640.2 580.0,640.1 578.4,640.1 576.8,640.0 575.3,640.0 573.9,639.9 572.6,639.8 571.3,639.8 569.9,639.7 568.2,639.6 566.4,639.6 564.2,639.5 561.6,639.5 558.5,639.4 555.1,639.4 551.6,639.4 548.1,639.3 544.7,639.3 541.7,639.3 539.1,639.3 537.1,639.3 535.5,639.2 534.2,639.2 533.0,639.2 532.0,639.3 530.8,639.3 529.4,639.3 527.6,639.3 525.5,639.3 523.1,639.3 520.5,639.3 517.8,639.2 515.1,639.2 512.4,639.2 509.8,639.3 507.5,639.3 505.4,639.3 503.4,639.3 501.4,639.3 499.6,639.3 497.8,639.4 496.0,639.4 494.2,639.5 492.5,639.5 490.6,639.6 488.8,639.7 487.0,639.8 485.2,639.9 483.4,640.0 481.7,640.2 480.1,640.3 478.6,640.4 477.3,640.5 476.1,640.6 474.9,640.7 473.9,640.8 472.8,640.9 471.8,641.1 470.9,641.2 469.9,641.3 468.8,641.4 467.9,641.5 466.9,641.6 466.0,641.7 465.1,641.8 464.2,641.9 463.2,642.0 462.3,642.2 461.4,642.3 460.4,642.5 459.4,642.6 458.5,642.8 457.5,643.0 456.6,643.1 455.7,643.3 454.8,643.5 453.9,643.7 453.1,643.9 452.3,644.1 451.6,644.3 450.8,644.5 450.0,644.8 449.3,645.0 448.5,645.3 447.7,645.6 446.9,645.9 446.1,646.2 445.3,646.5 444.5,646.9 443.7,647.3 443.0,647.7 442.2,648.1 441.5,648.5 440.9,648.9 440.2,649.3 439.6,649.7 439.0,650.1 438.4,650.6 437.8,651.2 437.2,651.8 436.6,652.5 436.1,653.2 435.5,653.9 435.0,654.7 434.4,655.5 433.9,656.5 433.4,657.5 432.9,658.6 432.5,659.8 432.0,661.1 431.6,662.5 431.2,664.0 430.8,665.5 430.4,667.1 430.0,668.8 429.7,670.7 429.3,672.6 428.9,674.5 428.6,676.6 428.2,678.8 427.9,681.0 427.6,683.3 427.2,685.7 426.9,688.2 426.6,690.9 426.3,693.8 425.9,696.8 425.6,699.8 425.3,702.9 425.1,705.8 424.8,708.6 424.6,711.1 424.5,713.3 424.4,715.4 424.3,717.2 424.3,719.0 424.3,720.7 424.2,722.4 424.2,724.1 424.1,725.9 387.0,725.9Z"/></defs>
<clipPath id="b5"><use href="#B5"/></clipPath>
<use href="#H" clip-path="url(#b5)" stroke="#1f77b4" stroke-width="1.15" stroke-opacity="0.92" fill="none"/>
<use href="#B5" fill="none" stroke="#1f77b4" stroke-opacity="0.35" stroke-width="0.8"/>
<defs><path id="O5" d="M380.0,480.0 422.5,505.0 422.5,507.6 422.6,510.2 422.6,512.9 422.7,515.5 422.7,518.1 422.8,520.6 422.8,523.1 422.9,525.4 423.0,527.6 423.1,529.6 423.2,531.6 423.4,533.5 423.5,535.4 423.7,537.2 423.8,539.1 424.0,541.1 424.2,543.1 424.4,545.1 424.5,547.1 424.7,549.2 424.9,551.2 425.2,553.2 425.4,555.3 425.6,557.3 425.8,559.3 426.1,561.4 426.3,563.4 426.6,565.5 426.9,567.5 427.1,569.6 427.4,571.6 427.7,573.5 428.0,575.4 428.3,577.3 428.6,579.2 428.9,581.1 429.2,582.9 429.5,584.7 429.9,586.4 430.2,588.1 430.6,589.7 430.9,591.2 431.3,592.7 431.7,594.2 432.1,595.5 432.5,596.9 433.0,598.2 433.4,599.5 433.9,600.7 434.3,602.0 434.8,603.1 435.3,604.3 435.9,605.3 436.4,606.4 436.9,607.4 437.5,608.4 438.1,609.3 438.6,610.2 439.2,611.1 439.8,611.9 440.4,612.7 441.0,613.5 441.7,614.2 442.3,614.9 443.0,615.6 443.6,616.3 444.3,616.9 445.0,617.5 445.7,618.1 446.5,618.7 447.2,619.2 448.0,619.7 448.8,620.1 449.6,620.5 450.4,620.9 451.3,621.2 452.1,621.5 453.0,621.8 453.9,622.1 454.8,622.4 455.7,622.8 456.6,623.1 457.6,623.4 458.5,623.7 459.5,624.0 460.4,624.3 461.4,624.6 462.3,624.9 463.2,625.2 464.2,625.5 465.1,625.8 466.0,626.1 466.9,626.4 467.9,626.7 468.8,626.9 469.9,627.2 470.9,627.5 472.0,627.8 473.1,628.1 474.2,628.4 475.3,628.7 476.4,628.9 477.5,629.2 478.6,629.5 479.7,629.7 480.8,630.0 481.9,630.2 483.0,630.4 484.0,630.6 485.1,630.8 486.3,631.0 487.4,631.2 488.6,631.4 489.9,631.6 491.1,631.8 492.4,631.9 493.7,632.1 494.9,632.2 496.2,632.3 497.5,632.5 498.7,632.6 500.0,632.7 501.2,632.9 502.5,633.0 503.8,633.1 505.0,633.2 506.3,633.3 507.5,633.4 508.8,633.5 510.0,633.5 511.3,633.6 512.5,633.7 513.8,633.8 515.1,633.8 516.3,633.9 517.6,634.0 518.8,634.1 520.1,634.1 521.3,634.2 522.5,634.3 523.8,634.3 525.0,634.4 526.3,634.4 527.6,634.5 528.9,634.5 530.2,634.6 531.5,634.6 532.8,634.6 534.1,634.6 535.5,634.6 536.9,634.6 538.4,634.6 539.9,634.6 541.5,634.5 543.2,634.5 544.9,634.4 546.6,634.4 548.3,634.3 550.0,634.2 551.7,634.1 553.3,634.0 554.9,633.9 556.4,633.8 558.0,633.7 559.6,633.6 561.1,633.5 562.7,633.4 564.2,633.2 565.8,633.1 567.4,633.0 568.9,632.9 570.5,632.8 572.1,632.6 573.6,632.5 575.2,632.4 576.8,632.2 578.4,632.1 580.0,631.9 581.6,631.8 583.3,631.6 584.9,631.5 586.4,631.3 587.9,631.1 589.3,631.0 590.6,630.8 591.8,630.6 592.9,630.4 594.0,630.2 595.0,630.0 596.1,629.9 597.2,629.7 598.4,629.5 599.7,629.3 601.0,629.1 602.4,628.9 603.8,628.7 605.3,628.5 606.7,628.3 608.1,628.2 609.4,628.0 610.7,627.8 612.0,627.6 613.3,627.4 614.5,627.2 615.8,627.0 617.0,626.9 618.2,626.7 619.5,626.5 620.7,626.2 622.0,626.0 623.2,625.8 624.5,625.6 625.8,625.4 627.0,625.1 628.3,624.9 629.5,624.7 630.8,624.5 632.0,624.3 633.3,624.1 634.5,623.8 635.8,623.6 637.1,623.4 638.3,623.2 639.6,622.9 640.8,622.7 642.1,622.5 643.4,622.2 644.7,622.0 646.0,621.7 647.3,621.5 648.5,621.2 649.6,620.9 650.7,620.7 651.7,620.4 652.7,620.1 653.6,619.8 654.5,619.5 655.4,619.2 656.3,618.8 657.1,618.4 658.0,618.0 658.9,617.5 659.7,617.0 660.5,616.5 661.3,616.0 662.1,615.4 662.8,614.8 663.4,614.2 664.0,613.5 664.6,612.8 665.1,612.1 665.5,611.4 666.0,610.6 666.4,609.8 666.8,608.9 667.2,607.9 667.6,606.8 667.9,605.7 668.2,604.6 668.6,603.4 668.9,602.1 669.1,600.8 669.4,599.3 669.7,597.8 670.0,596.2 670.2,594.5 670.5,592.7 670.8,590.8 671.0,588.8 671.2,586.8 671.5,584.8 671.7,582.8 671.9,580.7 672.2,578.6 672.4,576.5 672.6,574.3 672.8,572.1 673.0,569.8 673.2,567.5 673.5,565.2 673.7,562.8 673.9,560.3 674.1,557.8 674.4,555.3 674.6,552.7 674.8,550.2 675.0,547.6 675.2,545.1 675.4,542.5 675.6,539.8 675.8,537.1 676.0,534.4 676.2,531.8 676.4,529.3 676.6,527.0 676.7,525.0 676.9,523.3 677.0,521.8 677.1,520.5 677.2,519.3 677.2,518.3 677.3,517.2 677.4,516.1 677.5,515.0 694.8,504.9 694.8,725.9 676.0,725.9 675.8,724.1 675.7,722.3 675.5,720.6 675.4,718.8 675.2,717.0 675.1,715.2 674.9,713.2 674.7,711.1 674.5,708.8 674.4,706.3 674.2,703.6 674.0,700.9 673.8,698.2 673.6,695.6 673.4,693.1 673.2,690.7 673.0,688.6 672.9,686.6 672.7,684.7 672.5,682.9 672.3,681.1 672.1,679.3 671.9,677.5 671.7,675.7 671.5,673.8 671.3,671.9 671.0,670.0 670.8,668.1 670.5,666.3 670.2,664.4 670.0,662.5 669.7,660.6 669.4,658.7 669.1,656.7 668.8,654.7 668.5,652.8 668.2,650.8 667.8,649.0 667.5,647.2 667.2,645.5 666.9,644.0 666.6,642.5 666.2,641.1 665.9,639.7 665.6,638.5 665.3,637.4 665.0,636.4 664.7,635.5 664.4,634.8 664.1,634.3 663.7,634.0 663.4,633.8 663.1,633.6 662.8,633.4 662.5,633.2 662.2,633.0 661.6,633.0 661.0,633.1 660.4,633.2 659.8,633.2 659.2,633.3 658.6,633.4 657.9,633.4 657.1,633.5 656.3,633.6 655.5,633.6 654.6,633.7 653.7,633.7 652.7,633.8 651.7,633.9 650.7,633.9 649.6,634.0 648.5,634.1 647.3,634.1 646.0,634.2 644.7,634.2 643.4,634.3 642.1,634.4 640.8,634.4 639.6,634.5 638.3,634.6 637.1,634.6 635.8,634.7 634.5,634.7 633.3,634.8 632.0,634.9 630.8,634.9 629.5,635.0 628.3,635.1 627.0,635.2 625.8,635.3 624.5,635.4 623.2,635.5 622.0,635.6 620.7,635.7 619.5,635.7 618.2,635.8 617.0,635.9 615.8,636.0 614.5,636.1 613.3,636.2 612.0,636.3 610.7,636.4 609.4,636.5 608.1,636.6 606.7,636.7 605.3,636.8 603.8,636.9 602.4,637.0 601.0,637.1 599.7,637.2 598.4,637.3 597.2,637.3 596.1,637.4 595.0,637.5 594.0,637.6 592.9,637.7 591.8,637.8 590.6,637.9 589.3,638.0 587.9,638.1 586.4,638.3 584.9,638.4 583.3,638.6 581.6,638.8 580.0,638.9 578.4,639.1 576.8,639.3 575.2,639.4 573.6,639.6 572.1,639.8 570.5,639.9 568.9,640.1 567.4,640.2 565.8,640.4 564.2,640.5 562.7,640.6 561.1,640.8 559.6,640.9 558.0,641.0 556.4,641.0 554.9,641.1 553.3,641.2 551.7,641.3 550.0,641.3 548.3,641.4 546.6,641.4 544.9,641.5 543.2,641.5 541.5,641.5 539.9,641.5 538.4,641.5 536.9,641.5 535.5,641.5 534.1,641.5 532.8,641.4 531.5,641.4 530.2,641.3 528.9,641.3 527.6,641.3 526.3,641.2 525.0,641.2 523.8,641.2 522.5,641.1 521.3,641.1 520.1,641.1 518.8,641.1 517.6,641.0 516.3,641.0 515.1,641.0 513.8,640.9 512.5,640.9 511.3,640.9 510.0,640.9 508.8,640.8 507.5,640.8 506.3,640.7 505.0,640.7 503.8,640.6 502.5,640.5 501.2,640.5 500.0,640.4 498.7,640.3 497.5,640.3 496.2,640.2 494.9,640.1 493.7,640.1 492.4,640.0 491.1,640.0 489.9,639.9 488.6,639.8 487.4,639.8 486.3,639.7 485.1,639.6 484.0,639.6 483.0,639.5 481.9,639.5 480.8,639.4 479.7,639.3 478.6,639.3 477.5,639.2 476.4,639.1 475.3,639.1 474.2,639.0 473.1,638.9 472.0,638.9 470.9,638.8 469.9,638.8 468.8,638.7 467.9,638.7 466.9,638.7 466.0,638.7 465.1,638.7 464.2,638.7 463.2,638.7 462.3,638.8 461.4,638.8 460.4,638.8 459.5,638.8 458.5,638.8 457.6,638.9 456.7,638.9 455.7,638.9 454.8,639.0 453.8,639.1 452.9,639.2 451.9,639.3 450.9,639.4 450.0,639.5 449.0,639.7 448.1,639.8 447.2,640.0 446.4,640.2 445.6,640.4 444.7,640.7 444.0,640.9 443.2,641.2 442.4,641.4 441.7,641.7 441.0,642.0 440.3,642.3 439.6,642.7 438.9,643.0 438.3,643.4 437.7,643.8 437.1,644.2 436.5,644.6 435.9,645.0 435.4,645.5 434.9,646.0 434.4,646.5 433.9,647.0 433.4,647.5 433.0,648.1 432.6,648.7 432.2,649.3 431.8,650.0 431.5,650.6 431.1,651.4 430.8,652.1 430.5,652.9 430.2,653.7 430.0,654.6 429.7,655.6 429.4,656.6 429.1,657.7 428.9,658.9 428.6,660.1 428.4,661.3 428.1,662.7 427.9,664.1 427.7,665.6 427.4,667.3 427.2,669.0 427.0,670.9 426.7,672.9 426.5,674.8 426.3,676.8 426.1,678.8 425.9,680.7 425.7,682.6 425.5,684.5 425.4,686.3 425.2,688.2 425.0,690.1 424.9,692.0 424.8,693.9 424.6,695.8 424.5,697.7 424.5,699.6 424.4,701.5 424.3,703.4 424.3,705.4 424.2,707.3 424.2,709.2 424.1,711.1 424.1,713.0 424.1,714.8 424.0,716.7 424.0,718.5 424.0,720.4 424.0,722.2 423.9,724.1 423.9,725.9 387.0,725.9Z"/></defs>
<clipPath id="o5"><use href="#O5"/></clipPath>
<use href="#O5" fill="#fff"/>
<use href="#O5" fill="#ff7f0e" fill-opacity="0.54" stroke="#ff7f0e" stroke-opacity="0.22" stroke-width="0.9"/>
<g clip-path="url(#b5)"><use href="#H" clip-path="url(#o5)" stroke="#7d6a58" stroke-width="0.90" stroke-opacity="0.62" fill="none"/></g>
<path d="M392.1,525.40 H684.0 M392.1,562.51 H684.0 M392.1,599.62 H684.0 M392.1,636.73 H684.0 M392.1,673.84 H684.0 M392.1,710.95 H684.0 M418.23,525.4 V711.0 M478.13,525.4 V711.0 M538.03,525.4 V711.0 M597.93,525.4 V711.0 M657.83,525.4 V711.0" stroke="#c8c8c8" stroke-opacity="0.25" stroke-width="0.8" fill="none"/>
<path d="M392.1,636.73 H684.0" stroke="#1f77b4" stroke-width="1.3" stroke-dasharray="3.8 2.1" stroke-opacity="0.88" fill="none"/>
<path d="M393.2,555.7 393.3,553.2 393.4,550.6 393.6,548.0 393.7,545.3 393.8,542.8 393.9,540.4 394.1,538.2 394.2,536.2 394.3,534.5 394.5,532.9 394.6,531.5 394.7,530.2 394.8,529.1 395.0,528.1 395.1,527.2 395.3,526.5 395.5,525.9 395.7,525.6 395.9,525.3 396.1,525.2 396.3,525.3 396.5,525.4 396.7,525.5 396.9,525.7 397.1,525.9 397.3,526.2 397.5,526.5 397.7,526.9 397.9,527.4 398.1,528.1 398.3,528.8 398.5,529.7 398.7,530.7 398.8,531.9 399.0,533.2 399.1,534.6 399.3,536.1 399.4,537.7 399.5,539.4 399.7,541.1 399.9,542.9 400.0,545.0 400.2,547.1 400.4,549.3 400.5,551.5 400.7,553.6 400.9,555.6 401.0,557.3 401.1,558.8 401.2,560.2 401.3,561.4 401.4,562.6 401.5,563.6 401.6,564.7 401.7,565.8 401.8,567.0 401.9,565.2 402.0,563.4 402.1,561.6 402.2,559.8 402.3,558.0 402.4,556.2 402.5,554.3 402.6,552.4 402.7,550.4 402.8,548.3 402.9,546.2 403.0,544.0 403.1,541.9 403.2,539.8 403.3,537.9 403.4,536.2 403.5,534.6 403.6,533.1 403.7,531.6 403.8,530.3 403.9,529.1 404.0,528.0 404.1,527.2 404.2,526.5 404.3,526.0 404.4,525.7 404.5,525.5 404.6,525.5 404.7,525.7 404.8,526.1 404.9,526.6 405.0,527.3 405.1,528.2 405.2,529.3 405.3,530.7 405.4,532.1 405.5,533.8 405.6,535.6 405.7,537.5 405.8,539.5 405.9,541.7 406.1,544.1 406.3,546.7 406.4,549.4 406.6,552.2 406.8,555.0 406.9,557.8 407.1,560.5 407.3,563.1 407.4,565.8 407.5,568.5 407.7,571.1 407.8,573.8 408.0,576.4 408.1,579.0 408.3,581.6 408.5,584.1 408.7,586.7 408.9,589.2 409.1,591.7 409.3,594.1 409.5,596.5 409.7,598.8 409.9,601.1 410.1,603.3 410.3,605.5 410.5,607.6 410.7,609.6 410.9,611.6 411.1,613.6 411.3,615.5 411.5,617.3 411.7,619.2 411.9,621.0 412.1,622.9 412.3,624.7 412.5,626.3 412.7,627.9 412.9,629.2 413.1,630.3 413.3,631.1 413.5,631.8 413.7,632.2 413.9,632.5 414.1,632.6 414.3,632.7 414.6,632.7 414.8,632.7 415.1,632.7 415.4,632.5 415.6,632.3 416.0,632.0 416.3,631.7 416.6,631.2 416.9,630.8 417.2,630.3 417.5,629.7 417.8,629.1 418.1,628.3 418.3,627.5 418.6,626.7 418.9,625.9 419.3,625.2 419.6,624.6 420.0,624.1 420.3,623.5 420.7,623.0 421.2,622.6 421.6,622.2 422.0,621.8 422.4,621.5 422.9,621.3 423.4,621.1 423.8,621.0 424.3,620.9 424.8,620.9 425.3,621.0 425.8,621.0 426.4,621.2 426.9,621.3 427.5,621.5 428.1,621.8 428.7,622.1 429.3,622.4 429.9,622.8 430.6,623.1 431.2,623.5 431.8,623.8 432.4,624.1 433.0,624.4 433.6,624.7 434.2,625.0 434.7,625.3 435.3,625.6 436.0,625.9 436.6,626.2 437.3,626.5 438.0,626.7 438.7,627.0 439.4,627.2 440.1,627.4 440.9,627.6 441.6,627.8 442.3,628.0 443.0,628.2 443.8,628.3 444.5,628.5 445.2,628.6 446.0,628.7 446.7,628.8 447.4,628.9 448.0,629.0 448.6,629.1 449.0,629.1 449.5,629.1 449.9,629.1 450.3,629.2 450.8,629.2 451.5,629.3 452.3,629.5 453.3,629.7 454.4,630.0 455.7,630.3 457.1,630.7 458.5,631.0 459.8,631.4 461.1,631.7 462.3,632.0 463.4,632.2 464.3,632.4 465.3,632.6 466.2,632.8 467.0,633.0 467.9,633.1 468.9,633.3 469.9,633.5 470.9,633.7 472.0,633.9 473.1,634.1 474.2,634.3 475.3,634.5 476.4,634.7 477.5,634.8 478.6,635.0 479.7,635.1 480.8,635.3 481.9,635.4 483.0,635.5 484.0,635.7 485.1,635.8 486.3,635.9 487.4,636.0 488.6,636.1 489.9,636.2 491.1,636.3 492.4,636.4 493.7,636.5 494.9,636.6 496.2,636.7 497.5,636.8 498.7,636.8 500.0,636.9 501.2,637.0 502.5,637.0 503.8,637.1 505.0,637.2 506.3,637.2 507.5,637.3 508.8,637.3 510.0,637.3 511.3,637.4 512.5,637.4 513.8,637.4 515.1,637.5 516.3,637.5 517.6,637.5 518.8,637.5 520.1,637.5 521.3,637.5 522.5,637.5 523.8,637.5 525.0,637.5 526.3,637.5 527.6,637.5 528.9,637.5 530.2,637.5 531.5,637.5 532.8,637.5 534.1,637.5 535.5,637.5 536.9,637.5 538.4,637.5 539.9,637.5 541.5,637.5 543.2,637.5 544.9,637.5 546.6,637.5 548.3,637.5 550.0,637.5 551.7,637.5 553.3,637.5 554.9,637.4 556.4,637.4 558.0,637.3 559.6,637.3 561.1,637.2 562.7,637.1 564.2,637.0 565.8,636.9 567.4,636.8 568.9,636.7 570.5,636.6 572.1,636.4 573.6,636.3 575.2,636.2 576.8,636.0 578.4,635.8 580.0,635.6 581.6,635.4 583.3,635.2 584.9,635.0 586.4,634.8 587.9,634.7 589.3,634.5 590.6,634.3 591.8,634.2 592.9,634.1 594.0,634.0 595.0,633.8 596.1,633.7 597.2,633.6 598.4,633.5 599.7,633.4 601.0,633.2 602.4,633.1 603.8,633.0 605.3,632.9 606.7,632.8 608.1,632.6 609.4,632.5 610.7,632.3 612.0,632.2 613.3,632.0 614.5,631.9 615.8,631.7 617.0,631.5 618.2,631.4 619.5,631.2 620.7,631.1 622.0,630.9 623.2,630.8 624.5,630.6 625.8,630.5 627.0,630.3 628.3,630.1 629.5,630.0 630.8,629.8 632.0,629.6 633.3,629.4 634.5,629.2 635.8,629.0 637.1,628.8 638.3,628.7 639.6,628.5 640.8,628.3 642.1,628.1 643.4,627.9 644.7,627.7 646.0,627.5 647.3,627.3 648.5,627.1 649.6,627.0 650.7,626.8 651.7,626.7 652.7,626.5 653.6,626.4 654.5,626.3 655.4,626.2 656.3,626.1 657.1,626.0 658.0,625.8 658.8,625.6 659.6,625.5 660.4,625.3 661.2,625.1 662.0,625.0 662.7,624.9 663.4,624.9 664.1,625.0 664.8,625.1 665.5,625.3 666.1,625.5 666.7,625.7 667.3,626.0 667.9,626.3 668.4,626.7 669.0,627.2 669.5,627.6 669.9,628.2 670.4,628.8 670.9,629.4 671.3,630.1 671.7,630.9 672.2,631.7 672.7,632.7 673.2,633.7 673.7,634.8 674.2,636.0 674.7,637.2 675.1,638.3 675.6,639.5 676.0,640.5 676.4,641.5 676.7,642.5 677.0,643.4 677.4,644.4 677.7,645.3 677.9,646.2 678.2,647.1 678.5,648.1 678.8,649.0 679.0,650.0 679.2,650.9 679.5,651.9 679.7,652.9 679.9,653.8 680.1,654.7 680.2,655.6 680.4,656.4 680.6,657.2 680.7,658.0 680.8,658.8 680.9,659.6 681.0,660.3 681.1,661.1 681.3,661.9 681.4,655.6 681.5,649.8 681.7,644.1 681.8,638.3 682.0,632.2 682.1,625.6 682.2,618.3 682.3,610.0 682.4,600.6 682.4,590.2 682.4,579.0 682.4,567.4 682.4,555.4 682.4,543.4 682.4,531.5 682.4,520.0" stroke="#ff7f0e" stroke-width="1.45" stroke-dasharray="5.9 2.7" fill="none" stroke-linejoin="round"/>
</g>
<path d="M392.1,710.95 H684.2" stroke="#4a4a4a" stroke-width="1.7" fill="none"/>
<path d="M412.1,720.9 h6.0" stroke="#555" stroke-width="0.9" fill="none"/>
<text x="419.5" y="723.5" font-size="9.6" fill="#2e2e2e">4</text>
<path d="M472.0,720.9 h6.0" stroke="#555" stroke-width="0.9" fill="none"/>
<text x="479.4" y="723.5" font-size="9.6" fill="#2e2e2e">2</text>
<text x="538.0" y="723.5" font-size="9.6" text-anchor="middle" fill="#2e2e2e">0</text>
<text x="597.9" y="723.5" font-size="9.6" text-anchor="middle" fill="#2e2e2e">2</text>
<text x="657.8" y="723.5" font-size="9.6" text-anchor="middle" fill="#2e2e2e">4</text>
<path d="M418.23,711.0 v-5.4 M478.13,711.0 v-5.4 M538.03,711.0 v-5.4 M597.93,711.0 v-5.4 M657.83,711.0 v-5.4" stroke="#484848" stroke-width="1.4" stroke-opacity="0.22" fill="none"/>
<rect x="489.5" y="682.1" width="96" height="24.6" fill="#f3f3f3" fill-opacity="0.85"/>
<path d="M493.60,684.75 l6.30,6.30 M499.60,684.75 l6.30,6.30 M505.60,684.75 l6.30,6.30 M511.60,684.75 l6.30,6.30 M517.60,684.75 l6.30,6.30 M523.60,684.75 l2.40,2.40" stroke="#1f77b4" stroke-width="1.35" stroke-opacity="0.95" fill="none"/>
<path d="M495.0,688.4 h30.5" stroke="#1f77b4" stroke-width="1.1" stroke-dasharray="3.3 2.7" fill="none"/>
<rect x="493.1" y="696.3" width="32.8" height="5.8" fill="#ff7f0e" fill-opacity="0.54"/>
<path d="M495.0,699.2 h30.0" stroke="#ff7f0e" stroke-width="1.25" stroke-dasharray="6.4 2.6" fill="none"/>
<text x="532.6" y="691.0" font-size="8.2" fill="#2e2e2e" textLength="23.1" lengthAdjust="spacingAndGlyphs">NNLO</text>
<text x="532.6" y="702.5" font-size="8.2" fill="#2e2e2e" textLength="51.1" lengthAdjust="spacingAndGlyphs">NNLO+NLL<tspan font-style="italic">x</tspan></text>
<text x="385.6" y="528.0" font-size="9.5" text-anchor="end" fill="#2e2e2e">1.6</text>
<text x="385.6" y="565.1" font-size="9.5" text-anchor="end" fill="#2e2e2e">1.4</text>
<text x="385.6" y="602.2" font-size="9.5" text-anchor="end" fill="#2e2e2e">1.2</text>
<text x="385.6" y="639.3" font-size="9.5" text-anchor="end" fill="#2e2e2e">1.0</text>
<text x="385.6" y="676.4" font-size="9.5" text-anchor="end" fill="#2e2e2e">0.8</text>
<text x="385.6" y="713.6" font-size="9.5" text-anchor="end" fill="#2e2e2e">0.6</text>
<text x="538.8" y="738.7" font-size="9.6" font-style="italic" text-anchor="middle" fill="#2e2e2e">y</text>
<text transform="translate(362.5,618.6) rotate(-90)" font-size="8.9" text-anchor="middle" fill="#2e2e2e" textLength="124" lengthAdjust="spacingAndGlyphs">(<tspan font-style="italic">d</tspan><tspan font-family="Liberation Serif" font-style="italic" font-size="10.2">L</tspan><tspan font-size="7.2" dy="1.7" font-style="italic">qg</tspan><tspan dy="-1.7"> / </tspan><tspan font-style="italic">dy</tspan>) / (<tspan font-style="italic">d</tspan><tspan font-family="Liberation Serif" font-style="italic" font-size="10.2">L</tspan><tspan font-size="7.2" dy="1.7" font-style="italic">qg</tspan><tspan dy="-1.7"> / </tspan><tspan font-style="italic">dy</tspan>) [ref]</text>
<text x="424.5" y="516.3" font-size="10.7" fill="#2e2e2e" textLength="67.4" lengthAdjust="spacingAndGlyphs">NNPDF31sx,</text>
<text x="497.1" y="516.3" font-size="10.7" fill="#2e2e2e" textLength="22.8" lengthAdjust="spacingAndGlyphs">LHC</text>
<text x="525.1" y="516.3" font-size="10.7" fill="#2e2e2e" textLength="11.9" lengthAdjust="spacingAndGlyphs">13</text>
<text x="543.5" y="516.3" font-size="10.7" fill="#2e2e2e" textLength="23.1" lengthAdjust="spacingAndGlyphs">TeV,</text>
<text x="572.8" y="516.3" font-size="10.7" font-style="italic" fill="#2e2e2e" textLength="10.5" lengthAdjust="spacingAndGlyphs">M</text>
<text x="583.5" y="518.2" font-size="7.8" font-style="italic" fill="#2e2e2e" textLength="5.8" lengthAdjust="spacingAndGlyphs">X</text>
<text x="593.8" y="516.3" font-size="10.7" fill="#2e2e2e" textLength="8.8" lengthAdjust="spacingAndGlyphs">=</text>
<text x="606.9" y="516.3" font-size="10.7" fill="#2e2e2e" textLength="17.5" lengthAdjust="spacingAndGlyphs">100</text>
<text x="630.5" y="516.3" font-size="10.7" fill="#2e2e2e" textLength="21.0" lengthAdjust="spacingAndGlyphs">GeV</text>
</svg></body></html>
